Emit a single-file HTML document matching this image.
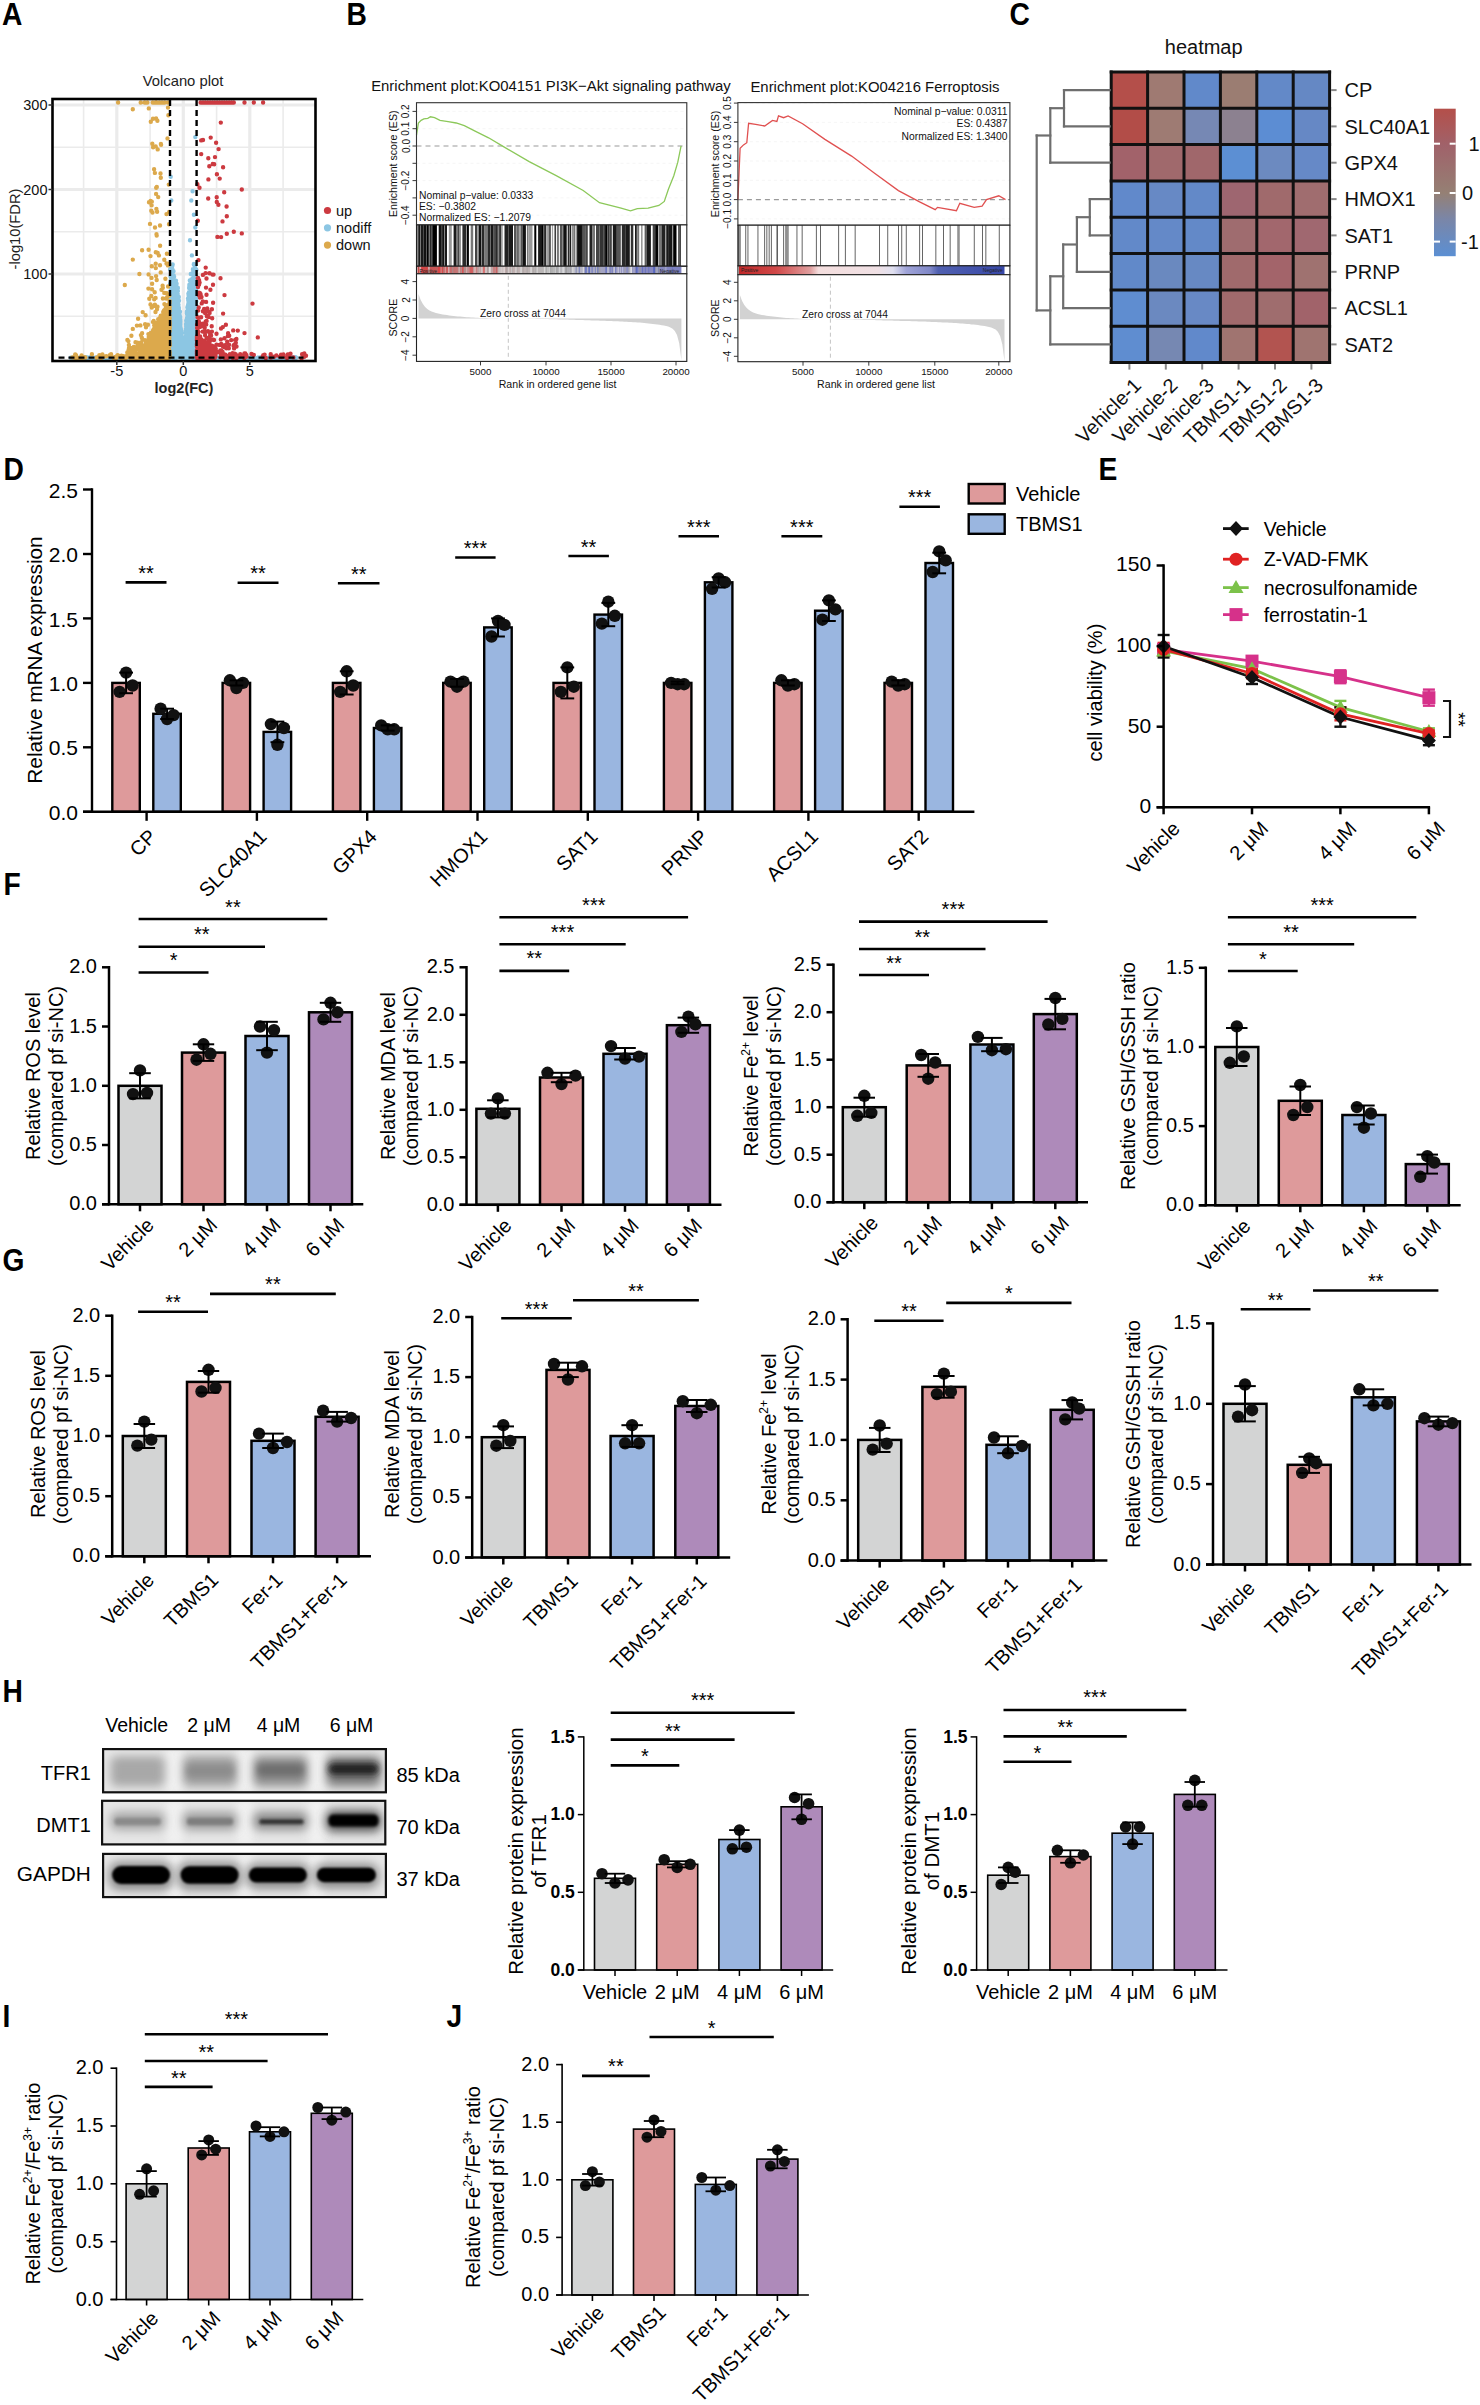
<!DOCTYPE html>
<html><head><meta charset="utf-8"><style>
html,body{margin:0;padding:0;background:#fff;}
svg{display:block;font-family:"Liberation Sans", sans-serif;}
</style></head><body>
<svg width="1480" height="2405" viewBox="0 0 1480 2405">
<rect x="0" y="0" width="1480" height="2405" fill="#fff"/>
<text transform="translate(2.0 25.0) scale(0.91 1)" font-size="31" font-weight="bold">A</text>
<text transform="translate(346.5 24.5) scale(0.91 1)" font-size="31" font-weight="bold">B</text>
<text transform="translate(1009.5 24.5) scale(0.91 1)" font-size="31" font-weight="bold">C</text>
<text transform="translate(3.6 479.6) scale(0.91 1)" font-size="31" font-weight="bold">D</text>
<text transform="translate(1098.5 480.0) scale(0.91 1)" font-size="31" font-weight="bold">E</text>
<text transform="translate(3.6 895.0) scale(0.91 1)" font-size="31" font-weight="bold">F</text>
<text transform="translate(2.5 1271.0) scale(0.91 1)" font-size="31" font-weight="bold">G</text>
<text transform="translate(2.5 1701.5) scale(0.91 1)" font-size="31" font-weight="bold">H</text>
<text transform="translate(2.5 2027.0) scale(0.91 1)" font-size="31" font-weight="bold">I</text>
<text transform="translate(446.5 2027.0) scale(0.91 1)" font-size="31" font-weight="bold">J</text>
<rect x="112.3" y="682.9" width="27.5" height="128.9" fill="#de9a9b" stroke="#000" stroke-width="2.4"/>
<rect x="153.3" y="713.8" width="27.5" height="98.0" fill="#9ab6e0" stroke="#000" stroke-width="2.4"/>
<rect x="222.6" y="682.9" width="27.5" height="128.9" fill="#de9a9b" stroke="#000" stroke-width="2.4"/>
<rect x="263.6" y="731.9" width="27.5" height="79.9" fill="#9ab6e0" stroke="#000" stroke-width="2.4"/>
<rect x="332.9" y="682.9" width="27.5" height="128.9" fill="#de9a9b" stroke="#000" stroke-width="2.4"/>
<rect x="373.9" y="728.0" width="27.5" height="83.8" fill="#9ab6e0" stroke="#000" stroke-width="2.4"/>
<rect x="443.2" y="682.9" width="27.5" height="128.9" fill="#de9a9b" stroke="#000" stroke-width="2.4"/>
<rect x="484.2" y="627.4" width="27.5" height="184.4" fill="#9ab6e0" stroke="#000" stroke-width="2.4"/>
<rect x="553.5" y="682.9" width="27.5" height="128.9" fill="#de9a9b" stroke="#000" stroke-width="2.4"/>
<rect x="594.5" y="614.6" width="27.5" height="197.2" fill="#9ab6e0" stroke="#000" stroke-width="2.4"/>
<rect x="663.9" y="682.9" width="27.5" height="128.9" fill="#de9a9b" stroke="#000" stroke-width="2.4"/>
<rect x="704.9" y="582.3" width="27.5" height="229.5" fill="#9ab6e0" stroke="#000" stroke-width="2.4"/>
<rect x="774.1" y="682.9" width="27.5" height="128.9" fill="#de9a9b" stroke="#000" stroke-width="2.4"/>
<rect x="815.1" y="610.7" width="27.5" height="201.1" fill="#9ab6e0" stroke="#000" stroke-width="2.4"/>
<rect x="884.5" y="682.9" width="27.5" height="128.9" fill="#de9a9b" stroke="#000" stroke-width="2.4"/>
<rect x="925.5" y="563.0" width="27.5" height="248.8" fill="#9ab6e0" stroke="#000" stroke-width="2.4"/>
<circle cx="119.6" cy="691.9" r="6.2" fill="#111"/>
<circle cx="126.1" cy="672.6" r="6.2" fill="#111"/>
<circle cx="132.6" cy="685.5" r="6.2" fill="#111"/>
<circle cx="160.6" cy="708.7" r="6.2" fill="#111"/>
<circle cx="167.1" cy="719.0" r="6.2" fill="#111"/>
<circle cx="173.6" cy="715.1" r="6.2" fill="#111"/>
<circle cx="229.9" cy="680.3" r="6.2" fill="#111"/>
<circle cx="236.4" cy="688.0" r="6.2" fill="#111"/>
<circle cx="242.9" cy="682.9" r="6.2" fill="#111"/>
<circle cx="270.9" cy="724.1" r="6.2" fill="#111"/>
<circle cx="277.4" cy="744.8" r="6.2" fill="#111"/>
<circle cx="283.9" cy="728.0" r="6.2" fill="#111"/>
<circle cx="340.2" cy="691.9" r="6.2" fill="#111"/>
<circle cx="346.7" cy="671.3" r="6.2" fill="#111"/>
<circle cx="353.2" cy="685.5" r="6.2" fill="#111"/>
<circle cx="381.2" cy="725.4" r="6.2" fill="#111"/>
<circle cx="387.7" cy="729.3" r="6.2" fill="#111"/>
<circle cx="394.2" cy="729.3" r="6.2" fill="#111"/>
<circle cx="450.5" cy="681.6" r="6.2" fill="#111"/>
<circle cx="457.0" cy="686.7" r="6.2" fill="#111"/>
<circle cx="463.5" cy="681.6" r="6.2" fill="#111"/>
<circle cx="491.5" cy="636.5" r="6.2" fill="#111"/>
<circle cx="498.0" cy="621.0" r="6.2" fill="#111"/>
<circle cx="504.5" cy="624.9" r="6.2" fill="#111"/>
<circle cx="560.8" cy="691.9" r="6.2" fill="#111"/>
<circle cx="567.3" cy="667.4" r="6.2" fill="#111"/>
<circle cx="573.8" cy="686.7" r="6.2" fill="#111"/>
<circle cx="601.8" cy="623.6" r="6.2" fill="#111"/>
<circle cx="608.3" cy="601.7" r="6.2" fill="#111"/>
<circle cx="614.8" cy="615.8" r="6.2" fill="#111"/>
<circle cx="671.1" cy="682.9" r="6.2" fill="#111"/>
<circle cx="677.6" cy="684.2" r="6.2" fill="#111"/>
<circle cx="684.1" cy="684.2" r="6.2" fill="#111"/>
<circle cx="712.1" cy="588.8" r="6.2" fill="#111"/>
<circle cx="718.6" cy="578.5" r="6.2" fill="#111"/>
<circle cx="725.1" cy="582.3" r="6.2" fill="#111"/>
<circle cx="781.4" cy="680.3" r="6.2" fill="#111"/>
<circle cx="787.9" cy="685.5" r="6.2" fill="#111"/>
<circle cx="794.4" cy="684.2" r="6.2" fill="#111"/>
<circle cx="822.4" cy="619.7" r="6.2" fill="#111"/>
<circle cx="828.9" cy="600.4" r="6.2" fill="#111"/>
<circle cx="835.4" cy="609.4" r="6.2" fill="#111"/>
<circle cx="891.7" cy="681.6" r="6.2" fill="#111"/>
<circle cx="898.2" cy="685.5" r="6.2" fill="#111"/>
<circle cx="904.7" cy="684.2" r="6.2" fill="#111"/>
<circle cx="932.7" cy="572.0" r="6.2" fill="#111"/>
<circle cx="939.2" cy="551.4" r="6.2" fill="#111"/>
<circle cx="945.7" cy="560.4" r="6.2" fill="#111"/>
<line x1="126.1" y1="672.6" x2="126.1" y2="693.2" stroke="#000" stroke-width="2.0"/>
<line x1="119.2" y1="672.6" x2="133.0" y2="672.6" stroke="#000" stroke-width="2.0"/>
<line x1="119.2" y1="693.2" x2="133.0" y2="693.2" stroke="#000" stroke-width="2.0"/>
<line x1="167.1" y1="708.7" x2="167.1" y2="719.0" stroke="#000" stroke-width="2.0"/>
<line x1="160.2" y1="708.7" x2="174.0" y2="708.7" stroke="#000" stroke-width="2.0"/>
<line x1="160.2" y1="719.0" x2="174.0" y2="719.0" stroke="#000" stroke-width="2.0"/>
<line x1="236.4" y1="680.3" x2="236.4" y2="685.5" stroke="#000" stroke-width="2.0"/>
<line x1="229.5" y1="680.3" x2="243.3" y2="680.3" stroke="#000" stroke-width="2.0"/>
<line x1="229.5" y1="685.5" x2="243.3" y2="685.5" stroke="#000" stroke-width="2.0"/>
<line x1="277.4" y1="721.6" x2="277.4" y2="742.2" stroke="#000" stroke-width="2.0"/>
<line x1="270.5" y1="721.6" x2="284.3" y2="721.6" stroke="#000" stroke-width="2.0"/>
<line x1="270.5" y1="742.2" x2="284.3" y2="742.2" stroke="#000" stroke-width="2.0"/>
<line x1="346.7" y1="671.3" x2="346.7" y2="694.5" stroke="#000" stroke-width="2.0"/>
<line x1="339.8" y1="671.3" x2="353.6" y2="671.3" stroke="#000" stroke-width="2.0"/>
<line x1="339.8" y1="694.5" x2="353.6" y2="694.5" stroke="#000" stroke-width="2.0"/>
<line x1="387.7" y1="725.4" x2="387.7" y2="730.6" stroke="#000" stroke-width="2.0"/>
<line x1="380.8" y1="725.4" x2="394.6" y2="725.4" stroke="#000" stroke-width="2.0"/>
<line x1="380.8" y1="730.6" x2="394.6" y2="730.6" stroke="#000" stroke-width="2.0"/>
<line x1="457.0" y1="679.0" x2="457.0" y2="686.7" stroke="#000" stroke-width="2.0"/>
<line x1="450.1" y1="679.0" x2="463.9" y2="679.0" stroke="#000" stroke-width="2.0"/>
<line x1="450.1" y1="686.7" x2="463.9" y2="686.7" stroke="#000" stroke-width="2.0"/>
<line x1="498.0" y1="618.4" x2="498.0" y2="636.5" stroke="#000" stroke-width="2.0"/>
<line x1="491.1" y1="618.4" x2="504.9" y2="618.4" stroke="#000" stroke-width="2.0"/>
<line x1="491.1" y1="636.5" x2="504.9" y2="636.5" stroke="#000" stroke-width="2.0"/>
<line x1="567.3" y1="667.4" x2="567.3" y2="698.4" stroke="#000" stroke-width="2.0"/>
<line x1="560.4" y1="667.4" x2="574.2" y2="667.4" stroke="#000" stroke-width="2.0"/>
<line x1="560.4" y1="698.4" x2="574.2" y2="698.4" stroke="#000" stroke-width="2.0"/>
<line x1="608.3" y1="602.9" x2="608.3" y2="626.2" stroke="#000" stroke-width="2.0"/>
<line x1="601.4" y1="602.9" x2="615.2" y2="602.9" stroke="#000" stroke-width="2.0"/>
<line x1="601.4" y1="626.2" x2="615.2" y2="626.2" stroke="#000" stroke-width="2.0"/>
<line x1="677.6" y1="681.6" x2="677.6" y2="684.2" stroke="#000" stroke-width="2.0"/>
<line x1="670.7" y1="681.6" x2="684.5" y2="681.6" stroke="#000" stroke-width="2.0"/>
<line x1="670.7" y1="684.2" x2="684.5" y2="684.2" stroke="#000" stroke-width="2.0"/>
<line x1="718.6" y1="577.2" x2="718.6" y2="587.5" stroke="#000" stroke-width="2.0"/>
<line x1="711.7" y1="577.2" x2="725.5" y2="577.2" stroke="#000" stroke-width="2.0"/>
<line x1="711.7" y1="587.5" x2="725.5" y2="587.5" stroke="#000" stroke-width="2.0"/>
<line x1="787.9" y1="680.3" x2="787.9" y2="685.5" stroke="#000" stroke-width="2.0"/>
<line x1="781.0" y1="680.3" x2="794.8" y2="680.3" stroke="#000" stroke-width="2.0"/>
<line x1="781.0" y1="685.5" x2="794.8" y2="685.5" stroke="#000" stroke-width="2.0"/>
<line x1="828.9" y1="600.4" x2="828.9" y2="621.0" stroke="#000" stroke-width="2.0"/>
<line x1="822.0" y1="600.4" x2="835.8" y2="600.4" stroke="#000" stroke-width="2.0"/>
<line x1="822.0" y1="621.0" x2="835.8" y2="621.0" stroke="#000" stroke-width="2.0"/>
<line x1="898.2" y1="680.3" x2="898.2" y2="685.5" stroke="#000" stroke-width="2.0"/>
<line x1="891.3" y1="680.3" x2="905.1" y2="680.3" stroke="#000" stroke-width="2.0"/>
<line x1="891.3" y1="685.5" x2="905.1" y2="685.5" stroke="#000" stroke-width="2.0"/>
<line x1="939.2" y1="552.7" x2="939.2" y2="573.3" stroke="#000" stroke-width="2.0"/>
<line x1="932.3" y1="552.7" x2="946.1" y2="552.7" stroke="#000" stroke-width="2.0"/>
<line x1="932.3" y1="573.3" x2="946.1" y2="573.3" stroke="#000" stroke-width="2.0"/>
<line x1="92.0" y1="488.3" x2="92.0" y2="813.0" stroke="#000" stroke-width="2.4"/>
<line x1="83.0" y1="811.8" x2="974.4" y2="811.8" stroke="#000" stroke-width="2.4"/>
<line x1="83.0" y1="811.8" x2="92.0" y2="811.8" stroke="#000" stroke-width="2.4"/>
<text x="78.0" y="819.9" font-size="21" text-anchor="end" fill="#000">0.0</text>
<line x1="83.0" y1="747.3" x2="92.0" y2="747.3" stroke="#000" stroke-width="2.4"/>
<text x="78.0" y="755.4" font-size="21" text-anchor="end" fill="#000">0.5</text>
<line x1="83.0" y1="682.9" x2="92.0" y2="682.9" stroke="#000" stroke-width="2.4"/>
<text x="78.0" y="691.0" font-size="21" text-anchor="end" fill="#000">1.0</text>
<line x1="83.0" y1="618.4" x2="92.0" y2="618.4" stroke="#000" stroke-width="2.4"/>
<text x="78.0" y="626.5" font-size="21" text-anchor="end" fill="#000">1.5</text>
<line x1="83.0" y1="554.0" x2="92.0" y2="554.0" stroke="#000" stroke-width="2.4"/>
<text x="78.0" y="562.0" font-size="21" text-anchor="end" fill="#000">2.0</text>
<line x1="83.0" y1="489.5" x2="92.0" y2="489.5" stroke="#000" stroke-width="2.4"/>
<text x="78.0" y="497.6" font-size="21" text-anchor="end" fill="#000">2.5</text>
<line x1="146.6" y1="811.8" x2="146.6" y2="820.8" stroke="#000" stroke-width="2.4"/>
<text x="157.6" y="837.8" font-size="20" text-anchor="end" fill="#000" transform="rotate(-45 157.6 837.8)">CP</text>
<line x1="256.9" y1="811.8" x2="256.9" y2="820.8" stroke="#000" stroke-width="2.4"/>
<text x="267.9" y="837.8" font-size="20" text-anchor="end" fill="#000" transform="rotate(-45 267.9 837.8)">SLC40A1</text>
<line x1="367.2" y1="811.8" x2="367.2" y2="820.8" stroke="#000" stroke-width="2.4"/>
<text x="378.2" y="837.8" font-size="20" text-anchor="end" fill="#000" transform="rotate(-45 378.2 837.8)">GPX4</text>
<line x1="477.5" y1="811.8" x2="477.5" y2="820.8" stroke="#000" stroke-width="2.4"/>
<text x="488.5" y="837.8" font-size="20" text-anchor="end" fill="#000" transform="rotate(-45 488.5 837.8)">HMOX1</text>
<line x1="587.8" y1="811.8" x2="587.8" y2="820.8" stroke="#000" stroke-width="2.4"/>
<text x="598.8" y="837.8" font-size="20" text-anchor="end" fill="#000" transform="rotate(-45 598.8 837.8)">SAT1</text>
<line x1="698.1" y1="811.8" x2="698.1" y2="820.8" stroke="#000" stroke-width="2.4"/>
<text x="709.1" y="837.8" font-size="20" text-anchor="end" fill="#000" transform="rotate(-45 709.1 837.8)">PRNP</text>
<line x1="808.4" y1="811.8" x2="808.4" y2="820.8" stroke="#000" stroke-width="2.4"/>
<text x="819.4" y="837.8" font-size="20" text-anchor="end" fill="#000" transform="rotate(-45 819.4 837.8)">ACSL1</text>
<line x1="918.7" y1="811.8" x2="918.7" y2="820.8" stroke="#000" stroke-width="2.4"/>
<text x="929.7" y="837.8" font-size="20" text-anchor="end" fill="#000" transform="rotate(-45 929.7 837.8)">SAT2</text>
<line x1="125.6" y1="582.4" x2="166.5" y2="582.4" stroke="#000" stroke-width="2.6"/>
<text x="146.1" y="579.9" font-size="20" text-anchor="middle" fill="#000">**</text>
<line x1="237.6" y1="582.8" x2="278.5" y2="582.8" stroke="#000" stroke-width="2.6"/>
<text x="258.1" y="580.3" font-size="20" text-anchor="middle" fill="#000">**</text>
<line x1="337.9" y1="583.2" x2="379.5" y2="583.2" stroke="#000" stroke-width="2.6"/>
<text x="358.7" y="580.7" font-size="20" text-anchor="middle" fill="#000">**</text>
<line x1="455.2" y1="557.5" x2="495.6" y2="557.5" stroke="#000" stroke-width="2.6"/>
<text x="475.4" y="555.0" font-size="20" text-anchor="middle" fill="#000">***</text>
<line x1="568.4" y1="556.0" x2="608.9" y2="556.0" stroke="#000" stroke-width="2.6"/>
<text x="588.6" y="553.5" font-size="20" text-anchor="middle" fill="#000">**</text>
<line x1="678.5" y1="536.3" x2="719.0" y2="536.3" stroke="#000" stroke-width="2.6"/>
<text x="698.8" y="533.8" font-size="20" text-anchor="middle" fill="#000">***</text>
<line x1="781.4" y1="536.3" x2="822.3" y2="536.3" stroke="#000" stroke-width="2.6"/>
<text x="801.8" y="533.8" font-size="20" text-anchor="middle" fill="#000">***</text>
<line x1="899.4" y1="506.8" x2="939.9" y2="506.8" stroke="#000" stroke-width="2.6"/>
<text x="919.6" y="504.3" font-size="20" text-anchor="middle" fill="#000">***</text>
<text x="41.5" y="660.0" font-size="20.8" text-anchor="middle" fill="#000" transform="rotate(-90 41.5 660.0)">Relative mRNA expression</text>
<rect x="968.7" y="484.0" width="36.0" height="19.5" fill="#de9a9b" stroke="#000" stroke-width="2.4"/>
<rect x="968.7" y="514.3" width="36.0" height="19.5" fill="#9ab6e0" stroke="#000" stroke-width="2.4"/>
<text x="1016.0" y="500.5" font-size="20" text-anchor="start" fill="#000">Vehicle</text>
<text x="1016.0" y="530.8" font-size="20" text-anchor="start" fill="#000">TBMS1</text>
<rect x="118.5" y="1085.8" width="43.0" height="118.5" fill="#d3d4d4" stroke="#000" stroke-width="2.5"/>
<rect x="182.0" y="1052.6" width="43.0" height="151.7" fill="#de9a9b" stroke="#000" stroke-width="2.5"/>
<rect x="245.5" y="1036.0" width="43.0" height="168.3" fill="#9ab6e0" stroke="#000" stroke-width="2.5"/>
<rect x="309.0" y="1012.3" width="43.0" height="192.0" fill="#ae8aba" stroke="#000" stroke-width="2.5"/>
<circle cx="133.0" cy="1094.1" r="6.2" fill="#111"/>
<circle cx="140.0" cy="1070.4" r="6.2" fill="#111"/>
<circle cx="147.0" cy="1092.9" r="6.2" fill="#111"/>
<circle cx="196.5" cy="1059.7" r="6.2" fill="#111"/>
<circle cx="203.5" cy="1044.3" r="6.2" fill="#111"/>
<circle cx="210.5" cy="1053.8" r="6.2" fill="#111"/>
<circle cx="260.0" cy="1026.5" r="6.2" fill="#111"/>
<circle cx="267.0" cy="1052.6" r="6.2" fill="#111"/>
<circle cx="274.0" cy="1030.1" r="6.2" fill="#111"/>
<circle cx="323.5" cy="1019.4" r="6.2" fill="#111"/>
<circle cx="330.5" cy="1002.8" r="6.2" fill="#111"/>
<circle cx="337.5" cy="1012.3" r="6.2" fill="#111"/>
<line x1="140.0" y1="1073.2" x2="140.0" y2="1098.4" stroke="#000" stroke-width="2.0"/>
<line x1="129.2" y1="1073.2" x2="150.8" y2="1073.2" stroke="#000" stroke-width="2.0"/>
<line x1="129.2" y1="1098.4" x2="150.8" y2="1098.4" stroke="#000" stroke-width="2.0"/>
<line x1="203.5" y1="1044.3" x2="203.5" y2="1060.9" stroke="#000" stroke-width="2.0"/>
<line x1="192.8" y1="1044.3" x2="214.2" y2="1044.3" stroke="#000" stroke-width="2.0"/>
<line x1="192.8" y1="1060.9" x2="214.2" y2="1060.9" stroke="#000" stroke-width="2.0"/>
<line x1="267.0" y1="1021.8" x2="267.0" y2="1050.2" stroke="#000" stroke-width="2.0"/>
<line x1="256.2" y1="1021.8" x2="277.8" y2="1021.8" stroke="#000" stroke-width="2.0"/>
<line x1="256.2" y1="1050.2" x2="277.8" y2="1050.2" stroke="#000" stroke-width="2.0"/>
<line x1="330.5" y1="1002.8" x2="330.5" y2="1021.8" stroke="#000" stroke-width="2.0"/>
<line x1="319.8" y1="1002.8" x2="341.2" y2="1002.8" stroke="#000" stroke-width="2.0"/>
<line x1="319.8" y1="1021.8" x2="341.2" y2="1021.8" stroke="#000" stroke-width="2.0"/>
<line x1="109.0" y1="966.0" x2="109.0" y2="1205.5" stroke="#000" stroke-width="2.5"/>
<line x1="102.0" y1="1204.3" x2="363.3" y2="1204.3" stroke="#000" stroke-width="2.5"/>
<line x1="102.0" y1="1204.3" x2="109.0" y2="1204.3" stroke="#000" stroke-width="2.5"/>
<text x="97.0" y="1210.3" font-size="20" text-anchor="end" fill="#000">0.0</text>
<line x1="102.0" y1="1145.0" x2="109.0" y2="1145.0" stroke="#000" stroke-width="2.5"/>
<text x="97.0" y="1151.0" font-size="20" text-anchor="end" fill="#000">0.5</text>
<line x1="102.0" y1="1085.8" x2="109.0" y2="1085.8" stroke="#000" stroke-width="2.5"/>
<text x="97.0" y="1091.8" font-size="20" text-anchor="end" fill="#000">1.0</text>
<line x1="102.0" y1="1026.5" x2="109.0" y2="1026.5" stroke="#000" stroke-width="2.5"/>
<text x="97.0" y="1032.5" font-size="20" text-anchor="end" fill="#000">1.5</text>
<line x1="102.0" y1="967.3" x2="109.0" y2="967.3" stroke="#000" stroke-width="2.5"/>
<text x="97.0" y="973.3" font-size="20" text-anchor="end" fill="#000">2.0</text>
<line x1="140.0" y1="1204.3" x2="140.0" y2="1211.3" stroke="#000" stroke-width="2.5"/>
<text x="155.0" y="1226.3" font-size="20" text-anchor="end" fill="#000" transform="rotate(-45 155.0 1226.3)">Vehicle</text>
<line x1="203.5" y1="1204.3" x2="203.5" y2="1211.3" stroke="#000" stroke-width="2.5"/>
<text x="218.5" y="1226.3" font-size="20" text-anchor="end" fill="#000" transform="rotate(-45 218.5 1226.3)">2 μM</text>
<line x1="267.0" y1="1204.3" x2="267.0" y2="1211.3" stroke="#000" stroke-width="2.5"/>
<text x="282.0" y="1226.3" font-size="20" text-anchor="end" fill="#000" transform="rotate(-45 282.0 1226.3)">4 μM</text>
<line x1="330.5" y1="1204.3" x2="330.5" y2="1211.3" stroke="#000" stroke-width="2.5"/>
<text x="345.5" y="1226.3" font-size="20" text-anchor="end" fill="#000" transform="rotate(-45 345.5 1226.3)">6 μM</text>
<line x1="138.6" y1="972.5" x2="208.5" y2="972.5" stroke="#000" stroke-width="2.6"/>
<text x="173.6" y="967.0" font-size="20" text-anchor="middle" fill="#000">*</text>
<line x1="138.6" y1="946.8" x2="265.0" y2="946.8" stroke="#000" stroke-width="2.6"/>
<text x="201.8" y="941.3" font-size="20" text-anchor="middle" fill="#000">**</text>
<line x1="138.6" y1="919.0" x2="327.3" y2="919.0" stroke="#000" stroke-width="2.6"/>
<text x="232.9" y="913.5" font-size="20" text-anchor="middle" fill="#000">**</text>
<text x="39.8" y="1076.0" font-size="20" text-anchor="middle" fill="#000" transform="rotate(-90 39.8 1076.0)">Relative ROS level</text>
<text x="62.8" y="1076.0" font-size="20" text-anchor="middle" fill="#000" transform="rotate(-90 62.8 1076.0)">(compared pf si-NC)</text>
<rect x="476.4" y="1108.8" width="43.0" height="96.0" fill="#d3d4d4" stroke="#000" stroke-width="2.5"/>
<rect x="540.0" y="1077.5" width="43.0" height="127.3" fill="#de9a9b" stroke="#000" stroke-width="2.5"/>
<rect x="603.5" y="1053.8" width="43.0" height="151.0" fill="#9ab6e0" stroke="#000" stroke-width="2.5"/>
<rect x="666.9" y="1025.2" width="43.0" height="179.5" fill="#ae8aba" stroke="#000" stroke-width="2.5"/>
<circle cx="490.9" cy="1113.6" r="6.2" fill="#111"/>
<circle cx="497.9" cy="1098.4" r="6.2" fill="#111"/>
<circle cx="504.9" cy="1113.6" r="6.2" fill="#111"/>
<circle cx="547.5" cy="1072.8" r="6.2" fill="#111"/>
<circle cx="561.5" cy="1084.1" r="6.2" fill="#111"/>
<circle cx="575.5" cy="1075.6" r="6.2" fill="#111"/>
<circle cx="611.0" cy="1046.1" r="6.2" fill="#111"/>
<circle cx="625.0" cy="1058.5" r="6.2" fill="#111"/>
<circle cx="639.0" cy="1056.6" r="6.2" fill="#111"/>
<circle cx="681.4" cy="1031.9" r="6.2" fill="#111"/>
<circle cx="688.4" cy="1016.7" r="6.2" fill="#111"/>
<circle cx="695.4" cy="1024.3" r="6.2" fill="#111"/>
<line x1="497.9" y1="1100.3" x2="497.9" y2="1117.4" stroke="#000" stroke-width="2.0"/>
<line x1="487.1" y1="1100.3" x2="508.6" y2="1100.3" stroke="#000" stroke-width="2.0"/>
<line x1="487.1" y1="1117.4" x2="508.6" y2="1117.4" stroke="#000" stroke-width="2.0"/>
<line x1="561.5" y1="1072.8" x2="561.5" y2="1082.2" stroke="#000" stroke-width="2.0"/>
<line x1="550.8" y1="1072.8" x2="572.2" y2="1072.8" stroke="#000" stroke-width="2.0"/>
<line x1="550.8" y1="1082.2" x2="572.2" y2="1082.2" stroke="#000" stroke-width="2.0"/>
<line x1="625.0" y1="1048.0" x2="625.0" y2="1059.5" stroke="#000" stroke-width="2.0"/>
<line x1="614.2" y1="1048.0" x2="635.8" y2="1048.0" stroke="#000" stroke-width="2.0"/>
<line x1="614.2" y1="1059.5" x2="635.8" y2="1059.5" stroke="#000" stroke-width="2.0"/>
<line x1="688.4" y1="1017.6" x2="688.4" y2="1032.8" stroke="#000" stroke-width="2.0"/>
<line x1="677.6" y1="1017.6" x2="699.1" y2="1017.6" stroke="#000" stroke-width="2.0"/>
<line x1="677.6" y1="1032.8" x2="699.1" y2="1032.8" stroke="#000" stroke-width="2.0"/>
<line x1="466.5" y1="966.0" x2="466.5" y2="1206.0" stroke="#000" stroke-width="2.5"/>
<line x1="459.5" y1="1204.8" x2="721.5" y2="1204.8" stroke="#000" stroke-width="2.5"/>
<line x1="459.5" y1="1204.8" x2="466.5" y2="1204.8" stroke="#000" stroke-width="2.5"/>
<text x="454.5" y="1210.8" font-size="20" text-anchor="end" fill="#000">0.0</text>
<line x1="459.5" y1="1157.3" x2="466.5" y2="1157.3" stroke="#000" stroke-width="2.5"/>
<text x="454.5" y="1163.3" font-size="20" text-anchor="end" fill="#000">0.5</text>
<line x1="459.5" y1="1109.8" x2="466.5" y2="1109.8" stroke="#000" stroke-width="2.5"/>
<text x="454.5" y="1115.8" font-size="20" text-anchor="end" fill="#000">1.0</text>
<line x1="459.5" y1="1062.3" x2="466.5" y2="1062.3" stroke="#000" stroke-width="2.5"/>
<text x="454.5" y="1068.3" font-size="20" text-anchor="end" fill="#000">1.5</text>
<line x1="459.5" y1="1014.8" x2="466.5" y2="1014.8" stroke="#000" stroke-width="2.5"/>
<text x="454.5" y="1020.8" font-size="20" text-anchor="end" fill="#000">2.0</text>
<line x1="459.5" y1="967.3" x2="466.5" y2="967.3" stroke="#000" stroke-width="2.5"/>
<text x="454.5" y="973.3" font-size="20" text-anchor="end" fill="#000">2.5</text>
<line x1="497.9" y1="1204.8" x2="497.9" y2="1211.8" stroke="#000" stroke-width="2.5"/>
<text x="512.9" y="1226.8" font-size="20" text-anchor="end" fill="#000" transform="rotate(-45 512.9 1226.8)">Vehicle</text>
<line x1="561.5" y1="1204.8" x2="561.5" y2="1211.8" stroke="#000" stroke-width="2.5"/>
<text x="576.5" y="1226.8" font-size="20" text-anchor="end" fill="#000" transform="rotate(-45 576.5 1226.8)">2 μM</text>
<line x1="625.0" y1="1204.8" x2="625.0" y2="1211.8" stroke="#000" stroke-width="2.5"/>
<text x="640.0" y="1226.8" font-size="20" text-anchor="end" fill="#000" transform="rotate(-45 640.0 1226.8)">4 μM</text>
<line x1="688.4" y1="1204.8" x2="688.4" y2="1211.8" stroke="#000" stroke-width="2.5"/>
<text x="703.4" y="1226.8" font-size="20" text-anchor="end" fill="#000" transform="rotate(-45 703.4 1226.8)">6 μM</text>
<line x1="499.4" y1="970.9" x2="569.2" y2="970.9" stroke="#000" stroke-width="2.6"/>
<text x="534.3" y="965.4" font-size="20" text-anchor="middle" fill="#000">**</text>
<line x1="499.4" y1="944.2" x2="625.7" y2="944.2" stroke="#000" stroke-width="2.6"/>
<text x="562.5" y="938.7" font-size="20" text-anchor="middle" fill="#000">***</text>
<line x1="499.4" y1="917.3" x2="688.1" y2="917.3" stroke="#000" stroke-width="2.6"/>
<text x="593.8" y="911.8" font-size="20" text-anchor="middle" fill="#000">***</text>
<text x="394.5" y="1076.0" font-size="20" text-anchor="middle" fill="#000" transform="rotate(-90 394.5 1076.0)">Relative MDA level</text>
<text x="417.5" y="1076.0" font-size="20" text-anchor="middle" fill="#000" transform="rotate(-90 417.5 1076.0)">(compared pf si-NC)</text>
<rect x="842.8" y="1107.2" width="43.0" height="95.0" fill="#d3d4d4" stroke="#000" stroke-width="2.5"/>
<rect x="906.7" y="1065.4" width="43.0" height="136.8" fill="#de9a9b" stroke="#000" stroke-width="2.5"/>
<rect x="970.4" y="1044.5" width="43.0" height="157.7" fill="#9ab6e0" stroke="#000" stroke-width="2.5"/>
<rect x="1033.8" y="1014.1" width="43.0" height="188.1" fill="#ae8aba" stroke="#000" stroke-width="2.5"/>
<circle cx="857.3" cy="1115.8" r="6.2" fill="#111"/>
<circle cx="864.3" cy="1095.8" r="6.2" fill="#111"/>
<circle cx="871.3" cy="1112.9" r="6.2" fill="#111"/>
<circle cx="921.2" cy="1055.0" r="6.2" fill="#111"/>
<circle cx="928.2" cy="1078.7" r="6.2" fill="#111"/>
<circle cx="935.2" cy="1062.5" r="6.2" fill="#111"/>
<circle cx="977.9" cy="1036.9" r="6.2" fill="#111"/>
<circle cx="991.9" cy="1050.2" r="6.2" fill="#111"/>
<circle cx="1005.9" cy="1049.2" r="6.2" fill="#111"/>
<circle cx="1048.3" cy="1024.5" r="6.2" fill="#111"/>
<circle cx="1055.3" cy="998.0" r="6.2" fill="#111"/>
<circle cx="1062.3" cy="1018.9" r="6.2" fill="#111"/>
<line x1="864.3" y1="1097.7" x2="864.3" y2="1116.7" stroke="#000" stroke-width="2.0"/>
<line x1="853.5" y1="1097.7" x2="875.0" y2="1097.7" stroke="#000" stroke-width="2.0"/>
<line x1="853.5" y1="1116.7" x2="875.0" y2="1116.7" stroke="#000" stroke-width="2.0"/>
<line x1="928.2" y1="1054.0" x2="928.2" y2="1076.8" stroke="#000" stroke-width="2.0"/>
<line x1="917.5" y1="1054.0" x2="939.0" y2="1054.0" stroke="#000" stroke-width="2.0"/>
<line x1="917.5" y1="1076.8" x2="939.0" y2="1076.8" stroke="#000" stroke-width="2.0"/>
<line x1="991.9" y1="1037.9" x2="991.9" y2="1051.2" stroke="#000" stroke-width="2.0"/>
<line x1="981.1" y1="1037.9" x2="1002.6" y2="1037.9" stroke="#000" stroke-width="2.0"/>
<line x1="981.1" y1="1051.2" x2="1002.6" y2="1051.2" stroke="#000" stroke-width="2.0"/>
<line x1="1055.3" y1="998.9" x2="1055.3" y2="1029.3" stroke="#000" stroke-width="2.0"/>
<line x1="1044.5" y1="998.9" x2="1066.0" y2="998.9" stroke="#000" stroke-width="2.0"/>
<line x1="1044.5" y1="1029.3" x2="1066.0" y2="1029.3" stroke="#000" stroke-width="2.0"/>
<line x1="833.5" y1="963.5" x2="833.5" y2="1203.5" stroke="#000" stroke-width="2.5"/>
<line x1="826.5" y1="1202.2" x2="1088.0" y2="1202.2" stroke="#000" stroke-width="2.5"/>
<line x1="826.5" y1="1202.2" x2="833.5" y2="1202.2" stroke="#000" stroke-width="2.5"/>
<text x="821.5" y="1208.2" font-size="20" text-anchor="end" fill="#000">0.0</text>
<line x1="826.5" y1="1154.7" x2="833.5" y2="1154.7" stroke="#000" stroke-width="2.5"/>
<text x="821.5" y="1160.7" font-size="20" text-anchor="end" fill="#000">0.5</text>
<line x1="826.5" y1="1107.2" x2="833.5" y2="1107.2" stroke="#000" stroke-width="2.5"/>
<text x="821.5" y="1113.2" font-size="20" text-anchor="end" fill="#000">1.0</text>
<line x1="826.5" y1="1059.7" x2="833.5" y2="1059.7" stroke="#000" stroke-width="2.5"/>
<text x="821.5" y="1065.7" font-size="20" text-anchor="end" fill="#000">1.5</text>
<line x1="826.5" y1="1012.2" x2="833.5" y2="1012.2" stroke="#000" stroke-width="2.5"/>
<text x="821.5" y="1018.2" font-size="20" text-anchor="end" fill="#000">2.0</text>
<line x1="826.5" y1="964.7" x2="833.5" y2="964.7" stroke="#000" stroke-width="2.5"/>
<text x="821.5" y="970.7" font-size="20" text-anchor="end" fill="#000">2.5</text>
<line x1="864.3" y1="1202.2" x2="864.3" y2="1209.2" stroke="#000" stroke-width="2.5"/>
<text x="879.3" y="1224.2" font-size="20" text-anchor="end" fill="#000" transform="rotate(-45 879.3 1224.2)">Vehicle</text>
<line x1="928.2" y1="1202.2" x2="928.2" y2="1209.2" stroke="#000" stroke-width="2.5"/>
<text x="943.2" y="1224.2" font-size="20" text-anchor="end" fill="#000" transform="rotate(-45 943.2 1224.2)">2 μM</text>
<line x1="991.9" y1="1202.2" x2="991.9" y2="1209.2" stroke="#000" stroke-width="2.5"/>
<text x="1006.9" y="1224.2" font-size="20" text-anchor="end" fill="#000" transform="rotate(-45 1006.9 1224.2)">4 μM</text>
<line x1="1055.3" y1="1202.2" x2="1055.3" y2="1209.2" stroke="#000" stroke-width="2.5"/>
<text x="1070.3" y="1224.2" font-size="20" text-anchor="end" fill="#000" transform="rotate(-45 1070.3 1224.2)">6 μM</text>
<line x1="859.0" y1="975.0" x2="929.0" y2="975.0" stroke="#000" stroke-width="2.6"/>
<text x="894.0" y="969.5" font-size="20" text-anchor="middle" fill="#000">**</text>
<line x1="859.0" y1="949.0" x2="985.5" y2="949.0" stroke="#000" stroke-width="2.6"/>
<text x="922.2" y="943.5" font-size="20" text-anchor="middle" fill="#000">**</text>
<line x1="859.0" y1="921.6" x2="1047.6" y2="921.6" stroke="#000" stroke-width="2.6"/>
<text x="953.3" y="916.1" font-size="20" text-anchor="middle" fill="#000">***</text>
<text x="758.0" y="1076.0" font-size="20" text-anchor="middle" fill="#000" transform="rotate(-90 758.0 1076.0)">Relative Fe<tspan dy="-8" font-size="12">2+</tspan><tspan dy="8"> level</tspan></text>
<text x="781.0" y="1076.0" font-size="20" text-anchor="middle" fill="#000" transform="rotate(-90 781.0 1076.0)">(compared pf si-NC)</text>
<rect x="1215.3" y="1047.0" width="43.0" height="158.3" fill="#d3d4d4" stroke="#000" stroke-width="2.5"/>
<rect x="1278.8" y="1100.8" width="43.0" height="104.5" fill="#de9a9b" stroke="#000" stroke-width="2.5"/>
<rect x="1342.4" y="1115.0" width="43.0" height="90.2" fill="#9ab6e0" stroke="#000" stroke-width="2.5"/>
<rect x="1405.8" y="1164.1" width="43.0" height="41.2" fill="#ae8aba" stroke="#000" stroke-width="2.5"/>
<circle cx="1229.8" cy="1062.8" r="6.2" fill="#111"/>
<circle cx="1236.8" cy="1026.4" r="6.2" fill="#111"/>
<circle cx="1243.8" cy="1056.5" r="6.2" fill="#111"/>
<circle cx="1293.3" cy="1115.0" r="6.2" fill="#111"/>
<circle cx="1300.3" cy="1085.0" r="6.2" fill="#111"/>
<circle cx="1307.3" cy="1107.1" r="6.2" fill="#111"/>
<circle cx="1356.9" cy="1107.1" r="6.2" fill="#111"/>
<circle cx="1363.9" cy="1127.7" r="6.2" fill="#111"/>
<circle cx="1370.9" cy="1113.5" r="6.2" fill="#111"/>
<circle cx="1420.3" cy="1176.8" r="6.2" fill="#111"/>
<circle cx="1427.3" cy="1156.2" r="6.2" fill="#111"/>
<circle cx="1434.3" cy="1162.5" r="6.2" fill="#111"/>
<line x1="1236.8" y1="1028.0" x2="1236.8" y2="1066.0" stroke="#000" stroke-width="2.0"/>
<line x1="1226.0" y1="1028.0" x2="1247.5" y2="1028.0" stroke="#000" stroke-width="2.0"/>
<line x1="1226.0" y1="1066.0" x2="1247.5" y2="1066.0" stroke="#000" stroke-width="2.0"/>
<line x1="1300.3" y1="1086.5" x2="1300.3" y2="1115.0" stroke="#000" stroke-width="2.0"/>
<line x1="1289.5" y1="1086.5" x2="1311.0" y2="1086.5" stroke="#000" stroke-width="2.0"/>
<line x1="1289.5" y1="1115.0" x2="1311.0" y2="1115.0" stroke="#000" stroke-width="2.0"/>
<line x1="1363.9" y1="1105.5" x2="1363.9" y2="1124.5" stroke="#000" stroke-width="2.0"/>
<line x1="1353.2" y1="1105.5" x2="1374.7" y2="1105.5" stroke="#000" stroke-width="2.0"/>
<line x1="1353.2" y1="1124.5" x2="1374.7" y2="1124.5" stroke="#000" stroke-width="2.0"/>
<line x1="1427.3" y1="1154.6" x2="1427.3" y2="1173.6" stroke="#000" stroke-width="2.0"/>
<line x1="1416.5" y1="1154.6" x2="1438.0" y2="1154.6" stroke="#000" stroke-width="2.0"/>
<line x1="1416.5" y1="1173.6" x2="1438.0" y2="1173.6" stroke="#000" stroke-width="2.0"/>
<line x1="1205.8" y1="966.5" x2="1205.8" y2="1206.5" stroke="#000" stroke-width="2.5"/>
<line x1="1198.8" y1="1205.3" x2="1460.7" y2="1205.3" stroke="#000" stroke-width="2.5"/>
<line x1="1198.8" y1="1205.3" x2="1205.8" y2="1205.3" stroke="#000" stroke-width="2.5"/>
<text x="1193.8" y="1211.3" font-size="20" text-anchor="end" fill="#000">0.0</text>
<line x1="1198.8" y1="1126.1" x2="1205.8" y2="1126.1" stroke="#000" stroke-width="2.5"/>
<text x="1193.8" y="1132.1" font-size="20" text-anchor="end" fill="#000">0.5</text>
<line x1="1198.8" y1="1047.0" x2="1205.8" y2="1047.0" stroke="#000" stroke-width="2.5"/>
<text x="1193.8" y="1053.0" font-size="20" text-anchor="end" fill="#000">1.0</text>
<line x1="1198.8" y1="967.8" x2="1205.8" y2="967.8" stroke="#000" stroke-width="2.5"/>
<text x="1193.8" y="973.8" font-size="20" text-anchor="end" fill="#000">1.5</text>
<line x1="1236.8" y1="1205.3" x2="1236.8" y2="1212.3" stroke="#000" stroke-width="2.5"/>
<text x="1251.8" y="1227.3" font-size="20" text-anchor="end" fill="#000" transform="rotate(-45 1251.8 1227.3)">Vehicle</text>
<line x1="1300.3" y1="1205.3" x2="1300.3" y2="1212.3" stroke="#000" stroke-width="2.5"/>
<text x="1315.3" y="1227.3" font-size="20" text-anchor="end" fill="#000" transform="rotate(-45 1315.3 1227.3)">2 μM</text>
<line x1="1363.9" y1="1205.3" x2="1363.9" y2="1212.3" stroke="#000" stroke-width="2.5"/>
<text x="1378.9" y="1227.3" font-size="20" text-anchor="end" fill="#000" transform="rotate(-45 1378.9 1227.3)">4 μM</text>
<line x1="1427.3" y1="1205.3" x2="1427.3" y2="1212.3" stroke="#000" stroke-width="2.5"/>
<text x="1442.3" y="1227.3" font-size="20" text-anchor="end" fill="#000" transform="rotate(-45 1442.3 1227.3)">6 μM</text>
<line x1="1227.9" y1="971.0" x2="1297.7" y2="971.0" stroke="#000" stroke-width="2.6"/>
<text x="1262.8" y="965.5" font-size="20" text-anchor="middle" fill="#000">*</text>
<line x1="1227.9" y1="944.2" x2="1354.2" y2="944.2" stroke="#000" stroke-width="2.6"/>
<text x="1291.1" y="938.7" font-size="20" text-anchor="middle" fill="#000">**</text>
<line x1="1227.9" y1="917.3" x2="1416.3" y2="917.3" stroke="#000" stroke-width="2.6"/>
<text x="1322.1" y="911.8" font-size="20" text-anchor="middle" fill="#000">***</text>
<text x="1134.5" y="1076.0" font-size="20" text-anchor="middle" fill="#000" transform="rotate(-90 1134.5 1076.0)">Relative GSH/GSSH ratio</text>
<text x="1157.5" y="1076.0" font-size="20" text-anchor="middle" fill="#000" transform="rotate(-90 1157.5 1076.0)">(compared pf si-NC)</text>
<rect x="122.8" y="1436.0" width="43.0" height="120.3" fill="#d3d4d4" stroke="#000" stroke-width="2.5"/>
<rect x="187.0" y="1381.9" width="43.0" height="174.4" fill="#de9a9b" stroke="#000" stroke-width="2.5"/>
<rect x="251.5" y="1440.8" width="43.0" height="115.5" fill="#9ab6e0" stroke="#000" stroke-width="2.5"/>
<rect x="315.6" y="1416.8" width="43.0" height="139.5" fill="#ae8aba" stroke="#000" stroke-width="2.5"/>
<circle cx="137.3" cy="1445.6" r="6.2" fill="#111"/>
<circle cx="144.3" cy="1421.6" r="6.2" fill="#111"/>
<circle cx="151.3" cy="1439.6" r="6.2" fill="#111"/>
<circle cx="208.5" cy="1369.8" r="6.2" fill="#111"/>
<circle cx="201.5" cy="1391.5" r="6.2" fill="#111"/>
<circle cx="215.5" cy="1387.9" r="6.2" fill="#111"/>
<circle cx="259.0" cy="1433.6" r="6.2" fill="#111"/>
<circle cx="273.0" cy="1448.0" r="6.2" fill="#111"/>
<circle cx="287.0" cy="1442.0" r="6.2" fill="#111"/>
<circle cx="323.1" cy="1410.7" r="6.2" fill="#111"/>
<circle cx="337.1" cy="1421.6" r="6.2" fill="#111"/>
<circle cx="351.1" cy="1418.0" r="6.2" fill="#111"/>
<line x1="144.3" y1="1424.0" x2="144.3" y2="1448.0" stroke="#000" stroke-width="2.0"/>
<line x1="133.6" y1="1424.0" x2="155.1" y2="1424.0" stroke="#000" stroke-width="2.0"/>
<line x1="133.6" y1="1448.0" x2="155.1" y2="1448.0" stroke="#000" stroke-width="2.0"/>
<line x1="208.5" y1="1371.0" x2="208.5" y2="1392.7" stroke="#000" stroke-width="2.0"/>
<line x1="197.8" y1="1371.0" x2="219.2" y2="1371.0" stroke="#000" stroke-width="2.0"/>
<line x1="197.8" y1="1392.7" x2="219.2" y2="1392.7" stroke="#000" stroke-width="2.0"/>
<line x1="273.0" y1="1433.6" x2="273.0" y2="1448.0" stroke="#000" stroke-width="2.0"/>
<line x1="262.2" y1="1433.6" x2="283.8" y2="1433.6" stroke="#000" stroke-width="2.0"/>
<line x1="262.2" y1="1448.0" x2="283.8" y2="1448.0" stroke="#000" stroke-width="2.0"/>
<line x1="337.1" y1="1411.9" x2="337.1" y2="1421.6" stroke="#000" stroke-width="2.0"/>
<line x1="326.4" y1="1411.9" x2="347.9" y2="1411.9" stroke="#000" stroke-width="2.0"/>
<line x1="326.4" y1="1421.6" x2="347.9" y2="1421.6" stroke="#000" stroke-width="2.0"/>
<line x1="112.2" y1="1314.5" x2="112.2" y2="1557.5" stroke="#000" stroke-width="2.5"/>
<line x1="105.2" y1="1556.3" x2="371.0" y2="1556.3" stroke="#000" stroke-width="2.5"/>
<line x1="105.2" y1="1556.3" x2="112.2" y2="1556.3" stroke="#000" stroke-width="2.5"/>
<text x="100.2" y="1562.3" font-size="20" text-anchor="end" fill="#000">0.0</text>
<line x1="105.2" y1="1496.2" x2="112.2" y2="1496.2" stroke="#000" stroke-width="2.5"/>
<text x="100.2" y="1502.2" font-size="20" text-anchor="end" fill="#000">0.5</text>
<line x1="105.2" y1="1436.0" x2="112.2" y2="1436.0" stroke="#000" stroke-width="2.5"/>
<text x="100.2" y="1442.0" font-size="20" text-anchor="end" fill="#000">1.0</text>
<line x1="105.2" y1="1375.8" x2="112.2" y2="1375.8" stroke="#000" stroke-width="2.5"/>
<text x="100.2" y="1381.8" font-size="20" text-anchor="end" fill="#000">1.5</text>
<line x1="105.2" y1="1315.7" x2="112.2" y2="1315.7" stroke="#000" stroke-width="2.5"/>
<text x="100.2" y="1321.7" font-size="20" text-anchor="end" fill="#000">2.0</text>
<line x1="144.3" y1="1556.3" x2="144.3" y2="1563.3" stroke="#000" stroke-width="2.5"/>
<text x="155.3" y="1581.3" font-size="20" text-anchor="end" fill="#000" transform="rotate(-45 155.3 1581.3)">Vehicle</text>
<line x1="208.5" y1="1556.3" x2="208.5" y2="1563.3" stroke="#000" stroke-width="2.5"/>
<text x="219.5" y="1581.3" font-size="20" text-anchor="end" fill="#000" transform="rotate(-45 219.5 1581.3)">TBMS1</text>
<line x1="273.0" y1="1556.3" x2="273.0" y2="1563.3" stroke="#000" stroke-width="2.5"/>
<text x="284.0" y="1581.3" font-size="20" text-anchor="end" fill="#000" transform="rotate(-45 284.0 1581.3)">Fer-1</text>
<line x1="337.1" y1="1556.3" x2="337.1" y2="1563.3" stroke="#000" stroke-width="2.5"/>
<text x="348.1" y="1581.3" font-size="20" text-anchor="end" fill="#000" transform="rotate(-45 348.1 1581.3)">TBMS1+Fer-1</text>
<line x1="138.1" y1="1311.8" x2="208.0" y2="1311.8" stroke="#000" stroke-width="2.6"/>
<text x="173.1" y="1309.3" font-size="20" text-anchor="middle" fill="#000">**</text>
<line x1="210.0" y1="1293.9" x2="335.8" y2="1293.9" stroke="#000" stroke-width="2.6"/>
<text x="272.9" y="1291.4" font-size="20" text-anchor="middle" fill="#000">**</text>
<text x="44.5" y="1434.0" font-size="20" text-anchor="middle" fill="#000" transform="rotate(-90 44.5 1434.0)">Relative ROS level</text>
<text x="67.5" y="1434.0" font-size="20" text-anchor="middle" fill="#000" transform="rotate(-90 67.5 1434.0)">(compared pf si-NC)</text>
<rect x="481.8" y="1437.2" width="43.0" height="120.2" fill="#d3d4d4" stroke="#000" stroke-width="2.5"/>
<rect x="546.5" y="1369.9" width="43.0" height="187.6" fill="#de9a9b" stroke="#000" stroke-width="2.5"/>
<rect x="610.6" y="1436.0" width="43.0" height="121.5" fill="#9ab6e0" stroke="#000" stroke-width="2.5"/>
<rect x="675.3" y="1406.0" width="43.0" height="151.5" fill="#ae8aba" stroke="#000" stroke-width="2.5"/>
<circle cx="496.3" cy="1445.7" r="6.2" fill="#111"/>
<circle cx="503.3" cy="1425.2" r="6.2" fill="#111"/>
<circle cx="510.3" cy="1440.9" r="6.2" fill="#111"/>
<circle cx="554.0" cy="1363.9" r="6.2" fill="#111"/>
<circle cx="568.0" cy="1379.5" r="6.2" fill="#111"/>
<circle cx="582.0" cy="1366.3" r="6.2" fill="#111"/>
<circle cx="625.1" cy="1443.3" r="6.2" fill="#111"/>
<circle cx="632.1" cy="1425.2" r="6.2" fill="#111"/>
<circle cx="639.1" cy="1443.3" r="6.2" fill="#111"/>
<circle cx="682.8" cy="1401.2" r="6.2" fill="#111"/>
<circle cx="696.8" cy="1413.2" r="6.2" fill="#111"/>
<circle cx="710.8" cy="1404.8" r="6.2" fill="#111"/>
<line x1="503.3" y1="1426.4" x2="503.3" y2="1448.1" stroke="#000" stroke-width="2.0"/>
<line x1="492.6" y1="1426.4" x2="514.0" y2="1426.4" stroke="#000" stroke-width="2.0"/>
<line x1="492.6" y1="1448.1" x2="514.0" y2="1448.1" stroke="#000" stroke-width="2.0"/>
<line x1="568.0" y1="1362.7" x2="568.0" y2="1377.1" stroke="#000" stroke-width="2.0"/>
<line x1="557.2" y1="1362.7" x2="578.8" y2="1362.7" stroke="#000" stroke-width="2.0"/>
<line x1="557.2" y1="1377.1" x2="578.8" y2="1377.1" stroke="#000" stroke-width="2.0"/>
<line x1="632.1" y1="1425.2" x2="632.1" y2="1446.9" stroke="#000" stroke-width="2.0"/>
<line x1="621.4" y1="1425.2" x2="642.9" y2="1425.2" stroke="#000" stroke-width="2.0"/>
<line x1="621.4" y1="1446.9" x2="642.9" y2="1446.9" stroke="#000" stroke-width="2.0"/>
<line x1="696.8" y1="1400.0" x2="696.8" y2="1412.0" stroke="#000" stroke-width="2.0"/>
<line x1="686.0" y1="1400.0" x2="707.5" y2="1400.0" stroke="#000" stroke-width="2.0"/>
<line x1="686.0" y1="1412.0" x2="707.5" y2="1412.0" stroke="#000" stroke-width="2.0"/>
<line x1="472.2" y1="1315.8" x2="472.2" y2="1558.8" stroke="#000" stroke-width="2.5"/>
<line x1="465.2" y1="1557.5" x2="730.2" y2="1557.5" stroke="#000" stroke-width="2.5"/>
<line x1="465.2" y1="1557.5" x2="472.2" y2="1557.5" stroke="#000" stroke-width="2.5"/>
<text x="460.2" y="1563.5" font-size="20" text-anchor="end" fill="#000">0.0</text>
<line x1="465.2" y1="1497.4" x2="472.2" y2="1497.4" stroke="#000" stroke-width="2.5"/>
<text x="460.2" y="1503.4" font-size="20" text-anchor="end" fill="#000">0.5</text>
<line x1="465.2" y1="1437.2" x2="472.2" y2="1437.2" stroke="#000" stroke-width="2.5"/>
<text x="460.2" y="1443.2" font-size="20" text-anchor="end" fill="#000">1.0</text>
<line x1="465.2" y1="1377.1" x2="472.2" y2="1377.1" stroke="#000" stroke-width="2.5"/>
<text x="460.2" y="1383.1" font-size="20" text-anchor="end" fill="#000">1.5</text>
<line x1="465.2" y1="1317.0" x2="472.2" y2="1317.0" stroke="#000" stroke-width="2.5"/>
<text x="460.2" y="1323.0" font-size="20" text-anchor="end" fill="#000">2.0</text>
<line x1="503.3" y1="1557.5" x2="503.3" y2="1564.5" stroke="#000" stroke-width="2.5"/>
<text x="514.3" y="1582.5" font-size="20" text-anchor="end" fill="#000" transform="rotate(-45 514.3 1582.5)">Vehicle</text>
<line x1="568.0" y1="1557.5" x2="568.0" y2="1564.5" stroke="#000" stroke-width="2.5"/>
<text x="579.0" y="1582.5" font-size="20" text-anchor="end" fill="#000" transform="rotate(-45 579.0 1582.5)">TBMS1</text>
<line x1="632.1" y1="1557.5" x2="632.1" y2="1564.5" stroke="#000" stroke-width="2.5"/>
<text x="643.1" y="1582.5" font-size="20" text-anchor="end" fill="#000" transform="rotate(-45 643.1 1582.5)">Fer-1</text>
<line x1="696.8" y1="1557.5" x2="696.8" y2="1564.5" stroke="#000" stroke-width="2.5"/>
<text x="707.8" y="1582.5" font-size="20" text-anchor="end" fill="#000" transform="rotate(-45 707.8 1582.5)">TBMS1+Fer-1</text>
<line x1="501.2" y1="1318.3" x2="571.8" y2="1318.3" stroke="#000" stroke-width="2.6"/>
<text x="536.5" y="1315.8" font-size="20" text-anchor="middle" fill="#000">***</text>
<line x1="573.0" y1="1300.3" x2="698.9" y2="1300.3" stroke="#000" stroke-width="2.6"/>
<text x="636.0" y="1297.8" font-size="20" text-anchor="middle" fill="#000">**</text>
<text x="398.5" y="1434.0" font-size="20" text-anchor="middle" fill="#000" transform="rotate(-90 398.5 1434.0)">Relative MDA level</text>
<text x="421.5" y="1434.0" font-size="20" text-anchor="middle" fill="#000" transform="rotate(-90 421.5 1434.0)">(compared pf si-NC)</text>
<rect x="858.2" y="1439.9" width="43.0" height="120.7" fill="#d3d4d4" stroke="#000" stroke-width="2.5"/>
<rect x="922.4" y="1386.9" width="43.0" height="173.7" fill="#de9a9b" stroke="#000" stroke-width="2.5"/>
<rect x="986.5" y="1444.8" width="43.0" height="115.8" fill="#9ab6e0" stroke="#000" stroke-width="2.5"/>
<rect x="1050.7" y="1409.8" width="43.0" height="150.8" fill="#ae8aba" stroke="#000" stroke-width="2.5"/>
<circle cx="872.7" cy="1449.6" r="6.2" fill="#111"/>
<circle cx="879.7" cy="1425.5" r="6.2" fill="#111"/>
<circle cx="886.7" cy="1443.6" r="6.2" fill="#111"/>
<circle cx="936.9" cy="1394.1" r="6.2" fill="#111"/>
<circle cx="943.9" cy="1373.6" r="6.2" fill="#111"/>
<circle cx="950.9" cy="1391.7" r="6.2" fill="#111"/>
<circle cx="994.0" cy="1437.5" r="6.2" fill="#111"/>
<circle cx="1008.0" cy="1453.2" r="6.2" fill="#111"/>
<circle cx="1022.0" cy="1446.0" r="6.2" fill="#111"/>
<circle cx="1065.2" cy="1419.4" r="6.2" fill="#111"/>
<circle cx="1072.2" cy="1402.5" r="6.2" fill="#111"/>
<circle cx="1079.2" cy="1408.6" r="6.2" fill="#111"/>
<line x1="879.7" y1="1427.9" x2="879.7" y2="1452.0" stroke="#000" stroke-width="2.0"/>
<line x1="869.0" y1="1427.9" x2="890.5" y2="1427.9" stroke="#000" stroke-width="2.0"/>
<line x1="869.0" y1="1452.0" x2="890.5" y2="1452.0" stroke="#000" stroke-width="2.0"/>
<line x1="943.9" y1="1376.0" x2="943.9" y2="1397.7" stroke="#000" stroke-width="2.0"/>
<line x1="933.1" y1="1376.0" x2="954.6" y2="1376.0" stroke="#000" stroke-width="2.0"/>
<line x1="933.1" y1="1397.7" x2="954.6" y2="1397.7" stroke="#000" stroke-width="2.0"/>
<line x1="1008.0" y1="1436.3" x2="1008.0" y2="1453.2" stroke="#000" stroke-width="2.0"/>
<line x1="997.2" y1="1436.3" x2="1018.8" y2="1436.3" stroke="#000" stroke-width="2.0"/>
<line x1="997.2" y1="1453.2" x2="1018.8" y2="1453.2" stroke="#000" stroke-width="2.0"/>
<line x1="1072.2" y1="1400.1" x2="1072.2" y2="1419.4" stroke="#000" stroke-width="2.0"/>
<line x1="1061.5" y1="1400.1" x2="1083.0" y2="1400.1" stroke="#000" stroke-width="2.0"/>
<line x1="1061.5" y1="1419.4" x2="1083.0" y2="1419.4" stroke="#000" stroke-width="2.0"/>
<line x1="847.6" y1="1318.0" x2="847.6" y2="1561.8" stroke="#000" stroke-width="2.5"/>
<line x1="840.6" y1="1560.6" x2="1107.4" y2="1560.6" stroke="#000" stroke-width="2.5"/>
<line x1="840.6" y1="1560.6" x2="847.6" y2="1560.6" stroke="#000" stroke-width="2.5"/>
<text x="835.6" y="1566.6" font-size="20" text-anchor="end" fill="#000">0.0</text>
<line x1="840.6" y1="1500.3" x2="847.6" y2="1500.3" stroke="#000" stroke-width="2.5"/>
<text x="835.6" y="1506.3" font-size="20" text-anchor="end" fill="#000">0.5</text>
<line x1="840.6" y1="1439.9" x2="847.6" y2="1439.9" stroke="#000" stroke-width="2.5"/>
<text x="835.6" y="1445.9" font-size="20" text-anchor="end" fill="#000">1.0</text>
<line x1="840.6" y1="1379.6" x2="847.6" y2="1379.6" stroke="#000" stroke-width="2.5"/>
<text x="835.6" y="1385.6" font-size="20" text-anchor="end" fill="#000">1.5</text>
<line x1="840.6" y1="1319.3" x2="847.6" y2="1319.3" stroke="#000" stroke-width="2.5"/>
<text x="835.6" y="1325.3" font-size="20" text-anchor="end" fill="#000">2.0</text>
<line x1="879.7" y1="1560.6" x2="879.7" y2="1567.6" stroke="#000" stroke-width="2.5"/>
<text x="890.7" y="1585.6" font-size="20" text-anchor="end" fill="#000" transform="rotate(-45 890.7 1585.6)">Vehicle</text>
<line x1="943.9" y1="1560.6" x2="943.9" y2="1567.6" stroke="#000" stroke-width="2.5"/>
<text x="954.9" y="1585.6" font-size="20" text-anchor="end" fill="#000" transform="rotate(-45 954.9 1585.6)">TBMS1</text>
<line x1="1008.0" y1="1560.6" x2="1008.0" y2="1567.6" stroke="#000" stroke-width="2.5"/>
<text x="1019.0" y="1585.6" font-size="20" text-anchor="end" fill="#000" transform="rotate(-45 1019.0 1585.6)">Fer-1</text>
<line x1="1072.2" y1="1560.6" x2="1072.2" y2="1567.6" stroke="#000" stroke-width="2.5"/>
<text x="1083.2" y="1585.6" font-size="20" text-anchor="end" fill="#000" transform="rotate(-45 1083.2 1585.6)">TBMS1+Fer-1</text>
<line x1="874.3" y1="1320.8" x2="943.6" y2="1320.8" stroke="#000" stroke-width="2.6"/>
<text x="909.0" y="1318.3" font-size="20" text-anchor="middle" fill="#000">**</text>
<line x1="946.2" y1="1302.9" x2="1071.5" y2="1302.9" stroke="#000" stroke-width="2.6"/>
<text x="1008.9" y="1300.4" font-size="20" text-anchor="middle" fill="#000">*</text>
<text x="775.5" y="1434.0" font-size="20" text-anchor="middle" fill="#000" transform="rotate(-90 775.5 1434.0)">Relative Fe<tspan dy="-8" font-size="12">2+</tspan><tspan dy="8"> level</tspan></text>
<text x="798.5" y="1434.0" font-size="20" text-anchor="middle" fill="#000" transform="rotate(-90 798.5 1434.0)">(compared pf si-NC)</text>
<rect x="1223.5" y="1403.8" width="43.0" height="160.7" fill="#d3d4d4" stroke="#000" stroke-width="2.5"/>
<rect x="1287.7" y="1464.8" width="43.0" height="99.7" fill="#de9a9b" stroke="#000" stroke-width="2.5"/>
<rect x="1351.9" y="1397.3" width="43.0" height="167.2" fill="#9ab6e0" stroke="#000" stroke-width="2.5"/>
<rect x="1416.9" y="1421.4" width="43.0" height="143.1" fill="#ae8aba" stroke="#000" stroke-width="2.5"/>
<circle cx="1238.0" cy="1416.6" r="6.2" fill="#111"/>
<circle cx="1245.0" cy="1384.5" r="6.2" fill="#111"/>
<circle cx="1252.0" cy="1410.2" r="6.2" fill="#111"/>
<circle cx="1302.2" cy="1472.9" r="6.2" fill="#111"/>
<circle cx="1309.2" cy="1458.4" r="6.2" fill="#111"/>
<circle cx="1316.2" cy="1463.2" r="6.2" fill="#111"/>
<circle cx="1359.4" cy="1389.3" r="6.2" fill="#111"/>
<circle cx="1373.4" cy="1405.4" r="6.2" fill="#111"/>
<circle cx="1387.4" cy="1403.8" r="6.2" fill="#111"/>
<circle cx="1424.4" cy="1418.2" r="6.2" fill="#111"/>
<circle cx="1438.4" cy="1424.7" r="6.2" fill="#111"/>
<circle cx="1452.4" cy="1423.1" r="6.2" fill="#111"/>
<line x1="1245.0" y1="1386.1" x2="1245.0" y2="1421.4" stroke="#000" stroke-width="2.0"/>
<line x1="1234.2" y1="1386.1" x2="1255.8" y2="1386.1" stroke="#000" stroke-width="2.0"/>
<line x1="1234.2" y1="1421.4" x2="1255.8" y2="1421.4" stroke="#000" stroke-width="2.0"/>
<line x1="1309.2" y1="1456.8" x2="1309.2" y2="1472.9" stroke="#000" stroke-width="2.0"/>
<line x1="1298.5" y1="1456.8" x2="1320.0" y2="1456.8" stroke="#000" stroke-width="2.0"/>
<line x1="1298.5" y1="1472.9" x2="1320.0" y2="1472.9" stroke="#000" stroke-width="2.0"/>
<line x1="1373.4" y1="1389.3" x2="1373.4" y2="1405.4" stroke="#000" stroke-width="2.0"/>
<line x1="1362.7" y1="1389.3" x2="1384.2" y2="1389.3" stroke="#000" stroke-width="2.0"/>
<line x1="1362.7" y1="1405.4" x2="1384.2" y2="1405.4" stroke="#000" stroke-width="2.0"/>
<line x1="1438.4" y1="1416.6" x2="1438.4" y2="1426.3" stroke="#000" stroke-width="2.0"/>
<line x1="1427.7" y1="1416.6" x2="1449.2" y2="1416.6" stroke="#000" stroke-width="2.0"/>
<line x1="1427.7" y1="1426.3" x2="1449.2" y2="1426.3" stroke="#000" stroke-width="2.0"/>
<line x1="1213.0" y1="1322.2" x2="1213.0" y2="1565.8" stroke="#000" stroke-width="2.5"/>
<line x1="1206.0" y1="1564.5" x2="1471.5" y2="1564.5" stroke="#000" stroke-width="2.5"/>
<line x1="1206.0" y1="1564.5" x2="1213.0" y2="1564.5" stroke="#000" stroke-width="2.5"/>
<text x="1201.0" y="1570.5" font-size="20" text-anchor="end" fill="#000">0.0</text>
<line x1="1206.0" y1="1484.1" x2="1213.0" y2="1484.1" stroke="#000" stroke-width="2.5"/>
<text x="1201.0" y="1490.1" font-size="20" text-anchor="end" fill="#000">0.5</text>
<line x1="1206.0" y1="1403.8" x2="1213.0" y2="1403.8" stroke="#000" stroke-width="2.5"/>
<text x="1201.0" y="1409.8" font-size="20" text-anchor="end" fill="#000">1.0</text>
<line x1="1206.0" y1="1323.4" x2="1213.0" y2="1323.4" stroke="#000" stroke-width="2.5"/>
<text x="1201.0" y="1329.4" font-size="20" text-anchor="end" fill="#000">1.5</text>
<line x1="1245.0" y1="1564.5" x2="1245.0" y2="1571.5" stroke="#000" stroke-width="2.5"/>
<text x="1256.0" y="1589.5" font-size="20" text-anchor="end" fill="#000" transform="rotate(-45 1256.0 1589.5)">Vehicle</text>
<line x1="1309.2" y1="1564.5" x2="1309.2" y2="1571.5" stroke="#000" stroke-width="2.5"/>
<text x="1320.2" y="1589.5" font-size="20" text-anchor="end" fill="#000" transform="rotate(-45 1320.2 1589.5)">TBMS1</text>
<line x1="1373.4" y1="1564.5" x2="1373.4" y2="1571.5" stroke="#000" stroke-width="2.5"/>
<text x="1384.4" y="1589.5" font-size="20" text-anchor="end" fill="#000" transform="rotate(-45 1384.4 1589.5)">Fer-1</text>
<line x1="1438.4" y1="1564.5" x2="1438.4" y2="1571.5" stroke="#000" stroke-width="2.5"/>
<text x="1449.4" y="1589.5" font-size="20" text-anchor="end" fill="#000" transform="rotate(-45 1449.4 1589.5)">TBMS1+Fer-1</text>
<line x1="1240.7" y1="1309.3" x2="1310.5" y2="1309.3" stroke="#000" stroke-width="2.6"/>
<text x="1275.6" y="1306.8" font-size="20" text-anchor="middle" fill="#000">**</text>
<line x1="1313.0" y1="1290.5" x2="1438.4" y2="1290.5" stroke="#000" stroke-width="2.6"/>
<text x="1375.7" y="1288.0" font-size="20" text-anchor="middle" fill="#000">**</text>
<text x="1139.5" y="1434.0" font-size="20" text-anchor="middle" fill="#000" transform="rotate(-90 1139.5 1434.0)">Relative GSH/GSSH ratio</text>
<text x="1162.5" y="1434.0" font-size="20" text-anchor="middle" fill="#000" transform="rotate(-90 1162.5 1434.0)">(compared pf si-NC)</text>
<rect x="594.5" y="1878.3" width="41.0" height="91.7" fill="#d3d4d4" stroke="#000" stroke-width="1.6"/>
<rect x="656.7" y="1864.3" width="41.0" height="105.7" fill="#de9a9b" stroke="#000" stroke-width="1.6"/>
<rect x="718.9" y="1839.5" width="41.0" height="130.5" fill="#9ab6e0" stroke="#000" stroke-width="1.6"/>
<rect x="781.1" y="1806.8" width="41.0" height="163.2" fill="#ae8aba" stroke="#000" stroke-width="1.6"/>
<circle cx="602.0" cy="1873.7" r="5.8" fill="#111"/>
<circle cx="615.0" cy="1883.0" r="5.8" fill="#111"/>
<circle cx="628.0" cy="1879.9" r="5.8" fill="#111"/>
<circle cx="664.2" cy="1859.7" r="5.8" fill="#111"/>
<circle cx="677.2" cy="1867.4" r="5.8" fill="#111"/>
<circle cx="690.2" cy="1864.3" r="5.8" fill="#111"/>
<circle cx="732.4" cy="1848.8" r="5.8" fill="#111"/>
<circle cx="739.4" cy="1830.1" r="5.8" fill="#111"/>
<circle cx="746.4" cy="1847.2" r="5.8" fill="#111"/>
<circle cx="794.6" cy="1797.5" r="5.8" fill="#111"/>
<circle cx="801.6" cy="1819.3" r="5.8" fill="#111"/>
<circle cx="808.6" cy="1803.7" r="5.8" fill="#111"/>
<line x1="615.0" y1="1873.7" x2="615.0" y2="1883.0" stroke="#000" stroke-width="1.8"/>
<line x1="604.8" y1="1873.7" x2="625.2" y2="1873.7" stroke="#000" stroke-width="1.8"/>
<line x1="604.8" y1="1883.0" x2="625.2" y2="1883.0" stroke="#000" stroke-width="1.8"/>
<line x1="677.2" y1="1861.2" x2="677.2" y2="1867.4" stroke="#000" stroke-width="1.8"/>
<line x1="667.0" y1="1861.2" x2="687.5" y2="1861.2" stroke="#000" stroke-width="1.8"/>
<line x1="667.0" y1="1867.4" x2="687.5" y2="1867.4" stroke="#000" stroke-width="1.8"/>
<line x1="739.4" y1="1830.1" x2="739.4" y2="1848.8" stroke="#000" stroke-width="1.8"/>
<line x1="729.1" y1="1830.1" x2="749.6" y2="1830.1" stroke="#000" stroke-width="1.8"/>
<line x1="729.1" y1="1848.8" x2="749.6" y2="1848.8" stroke="#000" stroke-width="1.8"/>
<line x1="801.6" y1="1794.4" x2="801.6" y2="1819.3" stroke="#000" stroke-width="1.8"/>
<line x1="791.4" y1="1794.4" x2="811.9" y2="1794.4" stroke="#000" stroke-width="1.8"/>
<line x1="791.4" y1="1819.3" x2="811.9" y2="1819.3" stroke="#000" stroke-width="1.8"/>
<line x1="583.8" y1="1736.2" x2="583.8" y2="1970.8" stroke="#000" stroke-width="1.5"/>
<line x1="577.8" y1="1970.0" x2="833.2" y2="1970.0" stroke="#000" stroke-width="1.5"/>
<line x1="577.8" y1="1970.0" x2="583.8" y2="1970.0" stroke="#000" stroke-width="1.5"/>
<text x="574.8" y="1975.6" font-size="17.5" text-anchor="end" fill="#000" font-weight="bold">0.0</text>
<line x1="577.8" y1="1892.3" x2="583.8" y2="1892.3" stroke="#000" stroke-width="1.5"/>
<text x="574.8" y="1897.9" font-size="17.5" text-anchor="end" fill="#000" font-weight="bold">0.5</text>
<line x1="577.8" y1="1814.6" x2="583.8" y2="1814.6" stroke="#000" stroke-width="1.5"/>
<text x="574.8" y="1820.2" font-size="17.5" text-anchor="end" fill="#000" font-weight="bold">1.0</text>
<line x1="577.8" y1="1736.9" x2="583.8" y2="1736.9" stroke="#000" stroke-width="1.5"/>
<text x="574.8" y="1742.5" font-size="17.5" text-anchor="end" fill="#000" font-weight="bold">1.5</text>
<line x1="615.0" y1="1970.0" x2="615.0" y2="1976.0" stroke="#000" stroke-width="1.5"/>
<text x="615.0" y="1999.0" font-size="20" text-anchor="middle" fill="#000">Vehicle</text>
<line x1="677.2" y1="1970.0" x2="677.2" y2="1976.0" stroke="#000" stroke-width="1.5"/>
<text x="677.2" y="1999.0" font-size="20" text-anchor="middle" fill="#000">2 μM</text>
<line x1="739.4" y1="1970.0" x2="739.4" y2="1976.0" stroke="#000" stroke-width="1.5"/>
<text x="739.4" y="1999.0" font-size="20" text-anchor="middle" fill="#000">4 μM</text>
<line x1="801.6" y1="1970.0" x2="801.6" y2="1976.0" stroke="#000" stroke-width="1.5"/>
<text x="801.6" y="1999.0" font-size="20" text-anchor="middle" fill="#000">6 μM</text>
<line x1="610.7" y1="1765.4" x2="679.3" y2="1765.4" stroke="#000" stroke-width="2.6"/>
<text x="645.0" y="1763.4" font-size="20" text-anchor="middle" fill="#000">*</text>
<line x1="610.7" y1="1739.6" x2="734.6" y2="1739.6" stroke="#000" stroke-width="2.6"/>
<text x="672.7" y="1737.6" font-size="20" text-anchor="middle" fill="#000">**</text>
<line x1="610.7" y1="1712.7" x2="794.7" y2="1712.7" stroke="#000" stroke-width="2.6"/>
<text x="702.7" y="1706.7" font-size="20" text-anchor="middle" fill="#000">***</text>
<text x="522.5" y="1851.0" font-size="20.5" text-anchor="middle" fill="#000" transform="rotate(-90 522.5 1851.0)">Relative protein expression</text>
<text x="546.1" y="1851.0" font-size="20.5" text-anchor="middle" fill="#000" transform="rotate(-90 546.1 1851.0)">of TFR1</text>
<rect x="987.7" y="1875.2" width="41.0" height="94.8" fill="#d3d4d4" stroke="#000" stroke-width="1.6"/>
<rect x="1049.9" y="1856.6" width="41.0" height="113.4" fill="#de9a9b" stroke="#000" stroke-width="1.6"/>
<rect x="1112.1" y="1833.2" width="41.0" height="136.8" fill="#9ab6e0" stroke="#000" stroke-width="1.6"/>
<rect x="1174.3" y="1794.4" width="41.0" height="175.6" fill="#ae8aba" stroke="#000" stroke-width="1.6"/>
<circle cx="1001.2" cy="1884.5" r="5.8" fill="#111"/>
<circle cx="1008.2" cy="1867.4" r="5.8" fill="#111"/>
<circle cx="1015.2" cy="1872.1" r="5.8" fill="#111"/>
<circle cx="1057.4" cy="1850.3" r="5.8" fill="#111"/>
<circle cx="1070.4" cy="1862.8" r="5.8" fill="#111"/>
<circle cx="1083.4" cy="1855.0" r="5.8" fill="#111"/>
<circle cx="1125.6" cy="1827.0" r="5.8" fill="#111"/>
<circle cx="1132.6" cy="1844.1" r="5.8" fill="#111"/>
<circle cx="1139.6" cy="1827.0" r="5.8" fill="#111"/>
<circle cx="1187.8" cy="1805.3" r="5.8" fill="#111"/>
<circle cx="1194.8" cy="1780.4" r="5.8" fill="#111"/>
<circle cx="1201.8" cy="1805.3" r="5.8" fill="#111"/>
<line x1="1008.2" y1="1867.4" x2="1008.2" y2="1883.0" stroke="#000" stroke-width="1.8"/>
<line x1="998.0" y1="1867.4" x2="1018.5" y2="1867.4" stroke="#000" stroke-width="1.8"/>
<line x1="998.0" y1="1883.0" x2="1018.5" y2="1883.0" stroke="#000" stroke-width="1.8"/>
<line x1="1070.4" y1="1850.3" x2="1070.4" y2="1862.8" stroke="#000" stroke-width="1.8"/>
<line x1="1060.2" y1="1850.3" x2="1080.7" y2="1850.3" stroke="#000" stroke-width="1.8"/>
<line x1="1060.2" y1="1862.8" x2="1080.7" y2="1862.8" stroke="#000" stroke-width="1.8"/>
<line x1="1132.6" y1="1822.4" x2="1132.6" y2="1844.1" stroke="#000" stroke-width="1.8"/>
<line x1="1122.3" y1="1822.4" x2="1142.8" y2="1822.4" stroke="#000" stroke-width="1.8"/>
<line x1="1122.3" y1="1844.1" x2="1142.8" y2="1844.1" stroke="#000" stroke-width="1.8"/>
<line x1="1194.8" y1="1782.0" x2="1194.8" y2="1806.8" stroke="#000" stroke-width="1.8"/>
<line x1="1184.5" y1="1782.0" x2="1205.0" y2="1782.0" stroke="#000" stroke-width="1.8"/>
<line x1="1184.5" y1="1806.8" x2="1205.0" y2="1806.8" stroke="#000" stroke-width="1.8"/>
<line x1="976.6" y1="1736.2" x2="976.6" y2="1970.8" stroke="#000" stroke-width="1.5"/>
<line x1="970.6" y1="1970.0" x2="1227.5" y2="1970.0" stroke="#000" stroke-width="1.5"/>
<line x1="970.6" y1="1970.0" x2="976.6" y2="1970.0" stroke="#000" stroke-width="1.5"/>
<text x="967.6" y="1975.6" font-size="17.5" text-anchor="end" fill="#000" font-weight="bold">0.0</text>
<line x1="970.6" y1="1892.3" x2="976.6" y2="1892.3" stroke="#000" stroke-width="1.5"/>
<text x="967.6" y="1897.9" font-size="17.5" text-anchor="end" fill="#000" font-weight="bold">0.5</text>
<line x1="970.6" y1="1814.6" x2="976.6" y2="1814.6" stroke="#000" stroke-width="1.5"/>
<text x="967.6" y="1820.2" font-size="17.5" text-anchor="end" fill="#000" font-weight="bold">1.0</text>
<line x1="970.6" y1="1736.9" x2="976.6" y2="1736.9" stroke="#000" stroke-width="1.5"/>
<text x="967.6" y="1742.5" font-size="17.5" text-anchor="end" fill="#000" font-weight="bold">1.5</text>
<line x1="1008.2" y1="1970.0" x2="1008.2" y2="1976.0" stroke="#000" stroke-width="1.5"/>
<text x="1008.2" y="1999.0" font-size="20" text-anchor="middle" fill="#000">Vehicle</text>
<line x1="1070.4" y1="1970.0" x2="1070.4" y2="1976.0" stroke="#000" stroke-width="1.5"/>
<text x="1070.4" y="1999.0" font-size="20" text-anchor="middle" fill="#000">2 μM</text>
<line x1="1132.6" y1="1970.0" x2="1132.6" y2="1976.0" stroke="#000" stroke-width="1.5"/>
<text x="1132.6" y="1999.0" font-size="20" text-anchor="middle" fill="#000">4 μM</text>
<line x1="1194.8" y1="1970.0" x2="1194.8" y2="1976.0" stroke="#000" stroke-width="1.5"/>
<text x="1194.8" y="1999.0" font-size="20" text-anchor="middle" fill="#000">6 μM</text>
<line x1="1003.5" y1="1761.7" x2="1071.5" y2="1761.7" stroke="#000" stroke-width="2.6"/>
<text x="1037.5" y="1759.7" font-size="20" text-anchor="middle" fill="#000">*</text>
<line x1="1003.5" y1="1736.4" x2="1126.8" y2="1736.4" stroke="#000" stroke-width="2.6"/>
<text x="1065.2" y="1734.4" font-size="20" text-anchor="middle" fill="#000">**</text>
<line x1="1003.5" y1="1710.0" x2="1186.4" y2="1710.0" stroke="#000" stroke-width="2.6"/>
<text x="1095.0" y="1704.0" font-size="20" text-anchor="middle" fill="#000">***</text>
<text x="915.5" y="1851.0" font-size="20.5" text-anchor="middle" fill="#000" transform="rotate(-90 915.5 1851.0)">Relative protein expression</text>
<text x="939.1" y="1851.0" font-size="20.5" text-anchor="middle" fill="#000" transform="rotate(-90 939.1 1851.0)">of DMT1</text>
<rect x="126.1" y="2183.8" width="41.0" height="115.7" fill="#d3d4d4" stroke="#000" stroke-width="1.6"/>
<rect x="188.2" y="2148.0" width="41.0" height="151.5" fill="#de9a9b" stroke="#000" stroke-width="1.6"/>
<rect x="249.5" y="2131.8" width="41.0" height="167.7" fill="#9ab6e0" stroke="#000" stroke-width="1.6"/>
<rect x="311.3" y="2113.3" width="41.0" height="186.2" fill="#ae8aba" stroke="#000" stroke-width="1.6"/>
<circle cx="139.6" cy="2194.3" r="5.5" fill="#111"/>
<circle cx="146.6" cy="2168.8" r="5.5" fill="#111"/>
<circle cx="153.6" cy="2190.8" r="5.5" fill="#111"/>
<circle cx="201.7" cy="2154.9" r="5.5" fill="#111"/>
<circle cx="208.7" cy="2139.9" r="5.5" fill="#111"/>
<circle cx="215.7" cy="2149.2" r="5.5" fill="#111"/>
<circle cx="256.0" cy="2126.0" r="5.5" fill="#111"/>
<circle cx="270.0" cy="2136.4" r="5.5" fill="#111"/>
<circle cx="284.0" cy="2131.8" r="5.5" fill="#111"/>
<circle cx="317.8" cy="2107.5" r="5.5" fill="#111"/>
<circle cx="331.8" cy="2120.2" r="5.5" fill="#111"/>
<circle cx="345.8" cy="2112.1" r="5.5" fill="#111"/>
<line x1="146.6" y1="2171.1" x2="146.6" y2="2196.6" stroke="#000" stroke-width="1.8"/>
<line x1="136.3" y1="2171.1" x2="156.8" y2="2171.1" stroke="#000" stroke-width="1.8"/>
<line x1="136.3" y1="2196.6" x2="156.8" y2="2196.6" stroke="#000" stroke-width="1.8"/>
<line x1="208.7" y1="2141.1" x2="208.7" y2="2154.9" stroke="#000" stroke-width="1.8"/>
<line x1="198.4" y1="2141.1" x2="218.9" y2="2141.1" stroke="#000" stroke-width="1.8"/>
<line x1="198.4" y1="2154.9" x2="218.9" y2="2154.9" stroke="#000" stroke-width="1.8"/>
<line x1="270.0" y1="2127.2" x2="270.0" y2="2136.4" stroke="#000" stroke-width="1.8"/>
<line x1="259.8" y1="2127.2" x2="280.2" y2="2127.2" stroke="#000" stroke-width="1.8"/>
<line x1="259.8" y1="2136.4" x2="280.2" y2="2136.4" stroke="#000" stroke-width="1.8"/>
<line x1="331.8" y1="2107.5" x2="331.8" y2="2119.1" stroke="#000" stroke-width="1.8"/>
<line x1="321.6" y1="2107.5" x2="342.1" y2="2107.5" stroke="#000" stroke-width="1.8"/>
<line x1="321.6" y1="2119.1" x2="342.1" y2="2119.1" stroke="#000" stroke-width="1.8"/>
<line x1="116.5" y1="2067.4" x2="116.5" y2="2300.3" stroke="#000" stroke-width="1.6"/>
<line x1="110.5" y1="2299.5" x2="363.3" y2="2299.5" stroke="#000" stroke-width="1.6"/>
<line x1="110.5" y1="2299.5" x2="116.5" y2="2299.5" stroke="#000" stroke-width="1.6"/>
<text x="103.5" y="2305.5" font-size="20" text-anchor="end" fill="#000">0.0</text>
<line x1="110.5" y1="2241.7" x2="116.5" y2="2241.7" stroke="#000" stroke-width="1.6"/>
<text x="103.5" y="2247.7" font-size="20" text-anchor="end" fill="#000">0.5</text>
<line x1="110.5" y1="2183.8" x2="116.5" y2="2183.8" stroke="#000" stroke-width="1.6"/>
<text x="103.5" y="2189.8" font-size="20" text-anchor="end" fill="#000">1.0</text>
<line x1="110.5" y1="2126.0" x2="116.5" y2="2126.0" stroke="#000" stroke-width="1.6"/>
<text x="103.5" y="2132.0" font-size="20" text-anchor="end" fill="#000">1.5</text>
<line x1="110.5" y1="2068.2" x2="116.5" y2="2068.2" stroke="#000" stroke-width="1.6"/>
<text x="103.5" y="2074.2" font-size="20" text-anchor="end" fill="#000">2.0</text>
<line x1="146.6" y1="2299.5" x2="146.6" y2="2305.5" stroke="#000" stroke-width="1.6"/>
<text x="159.6" y="2319.5" font-size="20" text-anchor="end" fill="#000" transform="rotate(-45 159.6 2319.5)">Vehicle</text>
<line x1="208.7" y1="2299.5" x2="208.7" y2="2305.5" stroke="#000" stroke-width="1.6"/>
<text x="221.7" y="2319.5" font-size="20" text-anchor="end" fill="#000" transform="rotate(-45 221.7 2319.5)">2 μM</text>
<line x1="270.0" y1="2299.5" x2="270.0" y2="2305.5" stroke="#000" stroke-width="1.6"/>
<text x="283.0" y="2319.5" font-size="20" text-anchor="end" fill="#000" transform="rotate(-45 283.0 2319.5)">4 μM</text>
<line x1="331.8" y1="2299.5" x2="331.8" y2="2305.5" stroke="#000" stroke-width="1.6"/>
<text x="344.8" y="2319.5" font-size="20" text-anchor="end" fill="#000" transform="rotate(-45 344.8 2319.5)">6 μM</text>
<line x1="144.8" y1="2086.9" x2="212.6" y2="2086.9" stroke="#000" stroke-width="2.6"/>
<text x="178.7" y="2084.9" font-size="20" text-anchor="middle" fill="#000">**</text>
<line x1="144.8" y1="2061.0" x2="267.6" y2="2061.0" stroke="#000" stroke-width="2.6"/>
<text x="206.2" y="2059.0" font-size="20" text-anchor="middle" fill="#000">**</text>
<line x1="144.8" y1="2034.3" x2="328.0" y2="2034.3" stroke="#000" stroke-width="2.6"/>
<text x="236.4" y="2026.3" font-size="20" text-anchor="middle" fill="#000">***</text>
<text x="40.0" y="2183.5" font-size="20" text-anchor="middle" fill="#000" transform="rotate(-90 40.0 2183.5)">Relative Fe<tspan dy="-8" font-size="12">2+</tspan><tspan dy="8">/Fe</tspan><tspan dy="-8" font-size="12">3+</tspan><tspan dy="8"> ratio</tspan></text>
<text x="63.0" y="2183.5" font-size="20" text-anchor="middle" fill="#000" transform="rotate(-90 63.0 2183.5)">(compared pf si-NC)</text>
<rect x="571.9" y="2179.8" width="41.0" height="115.2" fill="#d3d4d4" stroke="#000" stroke-width="1.6"/>
<rect x="633.5" y="2129.1" width="41.0" height="165.9" fill="#de9a9b" stroke="#000" stroke-width="1.6"/>
<rect x="695.3" y="2184.4" width="41.0" height="110.6" fill="#9ab6e0" stroke="#000" stroke-width="1.6"/>
<rect x="756.9" y="2159.1" width="41.0" height="135.9" fill="#ae8aba" stroke="#000" stroke-width="1.6"/>
<circle cx="585.4" cy="2185.6" r="5.5" fill="#111"/>
<circle cx="592.4" cy="2171.7" r="5.5" fill="#111"/>
<circle cx="599.4" cy="2182.1" r="5.5" fill="#111"/>
<circle cx="647.0" cy="2137.2" r="5.5" fill="#111"/>
<circle cx="654.0" cy="2119.9" r="5.5" fill="#111"/>
<circle cx="661.0" cy="2131.4" r="5.5" fill="#111"/>
<circle cx="701.8" cy="2177.5" r="5.5" fill="#111"/>
<circle cx="715.8" cy="2190.2" r="5.5" fill="#111"/>
<circle cx="729.8" cy="2185.6" r="5.5" fill="#111"/>
<circle cx="770.4" cy="2166.0" r="5.5" fill="#111"/>
<circle cx="777.4" cy="2149.8" r="5.5" fill="#111"/>
<circle cx="784.4" cy="2161.4" r="5.5" fill="#111"/>
<line x1="592.4" y1="2174.0" x2="592.4" y2="2185.6" stroke="#000" stroke-width="1.8"/>
<line x1="582.1" y1="2174.0" x2="602.6" y2="2174.0" stroke="#000" stroke-width="1.8"/>
<line x1="582.1" y1="2185.6" x2="602.6" y2="2185.6" stroke="#000" stroke-width="1.8"/>
<line x1="654.0" y1="2121.0" x2="654.0" y2="2137.2" stroke="#000" stroke-width="1.8"/>
<line x1="643.8" y1="2121.0" x2="664.2" y2="2121.0" stroke="#000" stroke-width="1.8"/>
<line x1="643.8" y1="2137.2" x2="664.2" y2="2137.2" stroke="#000" stroke-width="1.8"/>
<line x1="715.8" y1="2177.5" x2="715.8" y2="2191.3" stroke="#000" stroke-width="1.8"/>
<line x1="705.5" y1="2177.5" x2="726.0" y2="2177.5" stroke="#000" stroke-width="1.8"/>
<line x1="705.5" y1="2191.3" x2="726.0" y2="2191.3" stroke="#000" stroke-width="1.8"/>
<line x1="777.4" y1="2149.8" x2="777.4" y2="2168.3" stroke="#000" stroke-width="1.8"/>
<line x1="767.1" y1="2149.8" x2="787.6" y2="2149.8" stroke="#000" stroke-width="1.8"/>
<line x1="767.1" y1="2168.3" x2="787.6" y2="2168.3" stroke="#000" stroke-width="1.8"/>
<line x1="562.1" y1="2063.8" x2="562.1" y2="2295.8" stroke="#000" stroke-width="1.6"/>
<line x1="556.1" y1="2295.0" x2="808.9" y2="2295.0" stroke="#000" stroke-width="1.6"/>
<line x1="556.1" y1="2295.0" x2="562.1" y2="2295.0" stroke="#000" stroke-width="1.6"/>
<text x="549.1" y="2301.0" font-size="20" text-anchor="end" fill="#000">0.0</text>
<line x1="556.1" y1="2237.4" x2="562.1" y2="2237.4" stroke="#000" stroke-width="1.6"/>
<text x="549.1" y="2243.4" font-size="20" text-anchor="end" fill="#000">0.5</text>
<line x1="556.1" y1="2179.8" x2="562.1" y2="2179.8" stroke="#000" stroke-width="1.6"/>
<text x="549.1" y="2185.8" font-size="20" text-anchor="end" fill="#000">1.0</text>
<line x1="556.1" y1="2122.2" x2="562.1" y2="2122.2" stroke="#000" stroke-width="1.6"/>
<text x="549.1" y="2128.2" font-size="20" text-anchor="end" fill="#000">1.5</text>
<line x1="556.1" y1="2064.6" x2="562.1" y2="2064.6" stroke="#000" stroke-width="1.6"/>
<text x="549.1" y="2070.6" font-size="20" text-anchor="end" fill="#000">2.0</text>
<line x1="592.4" y1="2295.0" x2="592.4" y2="2301.0" stroke="#000" stroke-width="1.6"/>
<text x="605.4" y="2314.0" font-size="20" text-anchor="end" fill="#000" transform="rotate(-45 605.4 2314.0)">Vehicle</text>
<line x1="654.0" y1="2295.0" x2="654.0" y2="2301.0" stroke="#000" stroke-width="1.6"/>
<text x="667.0" y="2314.0" font-size="20" text-anchor="end" fill="#000" transform="rotate(-45 667.0 2314.0)">TBMS1</text>
<line x1="715.8" y1="2295.0" x2="715.8" y2="2301.0" stroke="#000" stroke-width="1.6"/>
<text x="728.8" y="2314.0" font-size="20" text-anchor="end" fill="#000" transform="rotate(-45 728.8 2314.0)">Fer-1</text>
<line x1="777.4" y1="2295.0" x2="777.4" y2="2301.0" stroke="#000" stroke-width="1.6"/>
<text x="790.4" y="2314.0" font-size="20" text-anchor="end" fill="#000" transform="rotate(-45 790.4 2314.0)">TBMS1+Fer-1</text>
<line x1="582.0" y1="2075.9" x2="649.8" y2="2075.9" stroke="#000" stroke-width="2.6"/>
<text x="615.9" y="2073.4" font-size="20" text-anchor="middle" fill="#000">**</text>
<line x1="649.5" y1="2037.0" x2="773.8" y2="2037.0" stroke="#000" stroke-width="2.6"/>
<text x="711.6" y="2034.5" font-size="20" text-anchor="middle" fill="#000">*</text>
<text x="480.0" y="2187.0" font-size="20" text-anchor="middle" fill="#000" transform="rotate(-90 480.0 2187.0)">Relative Fe<tspan dy="-8" font-size="12">2+</tspan><tspan dy="8">/Fe</tspan><tspan dy="-8" font-size="12">3+</tspan><tspan dy="8"> ratio</tspan></text>
<text x="503.5" y="2187.0" font-size="20" text-anchor="middle" fill="#000" transform="rotate(-90 503.5 2187.0)">(compared pf si-NC)</text>
<defs><clipPath id="vc"><rect x="52.5" y="99.0" width="263.0" height="262.0"/></clipPath></defs>
<rect x="52.5" y="99.0" width="263.0" height="262.0" fill="#fff" stroke="none" stroke-width="0"/>
<line x1="52.5" y1="316.2" x2="315.5" y2="316.2" stroke="#ebebeb" stroke-width="1.6"/>
<line x1="52.5" y1="231.8" x2="315.5" y2="231.8" stroke="#ebebeb" stroke-width="1.6"/>
<line x1="52.5" y1="147.2" x2="315.5" y2="147.2" stroke="#ebebeb" stroke-width="1.6"/>
<line x1="83.6" y1="99.0" x2="83.6" y2="361.0" stroke="#ebebeb" stroke-width="1.6"/>
<line x1="150.1" y1="99.0" x2="150.1" y2="361.0" stroke="#ebebeb" stroke-width="1.6"/>
<line x1="216.6" y1="99.0" x2="216.6" y2="361.0" stroke="#ebebeb" stroke-width="1.6"/>
<line x1="283.1" y1="99.0" x2="283.1" y2="361.0" stroke="#ebebeb" stroke-width="1.6"/>
<line x1="52.5" y1="274.0" x2="315.5" y2="274.0" stroke="#ebebeb" stroke-width="3.2"/>
<line x1="52.5" y1="189.5" x2="315.5" y2="189.5" stroke="#ebebeb" stroke-width="3.2"/>
<line x1="52.5" y1="105.0" x2="315.5" y2="105.0" stroke="#ebebeb" stroke-width="3.2"/>
<line x1="116.8" y1="99.0" x2="116.8" y2="361.0" stroke="#ebebeb" stroke-width="3.2"/>
<line x1="183.3" y1="99.0" x2="183.3" y2="361.0" stroke="#ebebeb" stroke-width="3.2"/>
<line x1="249.8" y1="99.0" x2="249.8" y2="361.0" stroke="#ebebeb" stroke-width="3.2"/>
<path clip-path="url(#vc)" fill="none" stroke="#8cc6e3" stroke-width="4.4" stroke-linecap="round" d="M186.6 346.5h0M193.9 343.9h0M190.6 339.6h0M176.0 327.8h0M178.0 318.7h0M193.2 287.2h0M170.1 330.2h0M191.8 332.2h0M191.2 322.4h0M182.4 353.2h0M178.1 308.2h0M177.4 310.0h0M176.8 335.8h0M181.8 350.7h0M183.4 356.7h0M184.7 352.9h0M196.5 334.0h0M191.1 354.4h0M186.5 323.2h0M196.3 324.8h0M175.7 334.7h0M174.3 311.4h0M186.3 325.7h0M171.2 280.2h0M170.9 297.3h0M183.7 353.7h0M182.4 357.9h0M194.4 321.7h0M186.7 350.4h0M183.7 355.6h0M183.2 356.8h0M176.6 347.1h0M170.3 340.6h0M175.1 329.2h0M188.4 307.5h0M175.3 311.8h0M179.8 355.5h0M170.1 347.2h0M192.1 310.6h0M174.1 349.9h0M177.1 305.1h0M193.4 338.8h0M183.6 355.0h0M192.5 291.4h0M187.0 349.3h0M189.7 314.8h0M172.4 325.7h0M184.4 348.8h0M183.5 356.1h0M193.2 335.1h0M179.6 334.0h0M185.9 354.9h0M171.6 327.8h0M180.3 339.7h0M178.6 326.9h0M174.0 325.6h0M191.7 337.8h0M180.1 330.4h0M196.0 307.7h0M185.7 346.2h0M186.1 340.9h0M187.0 348.2h0M188.0 335.3h0M174.0 326.1h0M181.7 354.5h0M176.4 343.0h0M180.7 328.6h0M172.6 305.8h0M195.7 316.6h0M175.7 316.3h0M187.9 319.4h0M178.0 334.0h0M193.3 348.9h0M187.6 321.4h0M173.5 351.0h0M192.5 333.4h0M195.1 310.7h0M194.0 329.1h0M185.2 355.3h0M173.9 336.3h0M175.1 339.8h0M194.7 350.8h0M184.7 353.7h0M174.8 304.6h0M193.5 326.2h0M187.1 344.9h0M185.2 342.3h0M180.0 320.8h0M180.9 341.8h0M176.4 349.4h0M171.0 340.0h0M193.3 342.3h0M182.4 348.6h0M184.6 351.0h0M178.6 333.2h0M190.0 339.5h0M170.7 346.7h0M179.9 354.4h0M170.8 338.5h0M173.3 298.9h0M195.7 342.0h0M187.5 321.1h0M181.4 355.8h0M183.9 351.8h0M193.2 348.7h0M179.2 326.6h0M185.7 348.2h0M188.2 332.5h0M179.5 324.0h0M183.8 355.3h0M190.4 330.3h0M194.2 316.7h0M174.0 346.2h0M194.8 301.0h0M170.1 313.1h0M190.0 356.3h0M191.6 336.0h0M173.6 299.3h0M181.1 330.3h0M191.7 295.0h0M170.4 352.8h0M186.7 351.6h0M191.1 336.5h0M183.6 354.2h0M189.3 325.8h0M176.0 327.8h0M175.3 332.2h0M179.7 343.4h0M174.8 344.0h0M179.2 348.9h0M195.2 300.0h0M185.3 344.4h0M179.0 331.5h0M177.2 333.7h0M195.3 277.5h0M181.8 347.1h0M196.1 336.0h0M183.7 353.5h0M183.9 356.5h0M193.8 326.1h0M189.8 297.3h0M185.4 353.6h0M181.3 341.7h0M193.4 349.8h0M180.9 346.1h0M194.5 350.1h0M171.8 333.4h0M181.4 354.0h0M183.8 356.1h0M195.3 294.2h0M176.7 297.1h0M191.4 349.0h0M188.0 334.7h0M189.1 305.2h0M186.7 324.8h0M195.8 337.4h0M178.8 333.0h0M180.6 352.1h0M175.4 288.4h0M171.3 326.6h0M175.7 331.2h0M194.4 312.5h0M192.3 293.8h0M173.0 334.3h0M186.1 337.0h0M182.7 354.5h0M185.8 329.1h0M187.5 355.7h0M178.2 326.7h0M195.6 316.7h0M182.4 349.5h0M186.7 344.1h0M186.9 323.8h0M174.9 341.2h0M171.6 332.2h0M180.9 337.0h0M190.3 345.1h0M191.7 326.3h0M189.4 327.4h0M173.0 319.0h0M194.3 298.2h0M191.3 323.1h0M193.3 323.4h0M183.9 355.0h0M194.4 348.3h0M171.2 288.5h0M170.8 299.2h0M170.5 294.5h0M176.7 350.9h0M176.6 299.3h0M175.0 351.5h0M185.1 351.9h0M171.0 320.2h0M185.7 356.2h0M174.4 287.2h0M188.0 342.2h0M170.6 314.6h0M178.3 326.0h0M195.0 318.3h0M184.3 353.4h0M191.6 299.8h0M187.5 327.5h0M186.2 335.8h0M175.1 353.8h0M185.3 331.8h0M171.1 336.5h0M191.3 294.1h0M195.5 284.6h0M192.7 317.8h0M171.3 312.0h0M179.0 319.9h0M178.5 337.0h0M173.0 310.2h0M186.7 323.4h0M191.2 326.9h0M178.3 338.8h0M193.0 287.1h0M191.2 287.8h0M173.4 306.0h0M190.4 321.2h0M193.5 299.7h0M175.2 336.4h0M185.3 341.1h0M187.0 339.0h0M186.2 340.4h0M172.6 355.5h0M187.6 352.0h0M186.8 319.1h0M191.9 332.9h0M191.4 349.8h0M178.7 350.0h0M189.2 345.3h0M193.1 352.0h0M193.8 326.3h0M174.3 335.6h0M170.7 317.3h0M187.3 333.4h0M175.7 354.4h0M185.0 351.0h0M195.1 313.5h0M180.1 343.3h0M176.7 293.8h0M182.1 352.5h0M187.5 348.8h0M172.7 308.2h0M180.1 330.5h0M173.6 320.6h0M187.6 341.6h0M192.1 303.6h0M180.0 351.9h0M179.9 324.3h0M184.4 353.0h0M175.7 304.6h0M176.6 332.3h0M178.8 323.7h0M182.2 350.9h0M172.2 333.9h0M190.0 312.2h0M185.4 354.1h0M178.0 328.4h0M172.1 291.5h0M190.3 326.5h0M173.5 344.4h0M173.5 346.6h0M173.5 329.8h0M172.2 316.6h0M194.1 293.5h0M177.2 345.6h0M178.2 328.9h0M192.2 286.0h0M186.5 347.9h0M175.0 325.9h0M181.6 341.9h0M193.5 286.5h0M180.0 347.5h0M188.9 335.1h0M172.6 322.5h0M189.3 318.2h0M190.7 320.6h0M192.0 313.9h0M187.9 326.3h0M179.9 352.1h0M171.7 345.0h0M183.8 354.7h0M190.1 320.6h0M175.1 348.2h0M177.1 309.9h0M184.3 350.6h0M189.9 352.9h0M193.8 347.3h0M173.3 322.1h0M174.9 339.8h0M191.3 354.1h0M187.1 330.0h0M189.2 334.0h0M196.5 347.5h0M195.0 303.6h0M192.4 304.2h0M190.7 309.9h0M180.5 357.5h0M187.1 350.3h0M174.9 345.2h0M190.2 342.6h0M190.2 310.2h0M189.2 320.2h0M181.8 354.9h0M180.1 334.4h0M181.2 341.2h0M170.9 335.4h0M192.5 355.7h0M184.4 354.9h0M180.3 356.6h0M184.6 346.6h0M189.2 323.7h0M180.1 336.9h0M192.1 356.9h0M194.5 356.3h0M180.3 324.2h0M173.7 334.0h0M190.2 338.1h0M196.4 340.4h0M173.9 325.5h0M189.0 313.3h0M192.0 351.7h0M194.5 340.0h0M173.3 324.9h0M172.4 337.4h0M196.3 314.3h0M173.1 324.8h0M174.7 314.3h0M185.3 336.7h0M181.9 340.3h0M190.0 312.1h0M175.1 339.9h0M194.3 342.2h0M175.8 312.9h0M190.5 346.9h0M171.8 286.7h0M182.6 354.7h0M170.9 352.8h0M178.3 334.6h0M178.3 311.7h0M189.1 320.2h0M182.1 357.0h0M171.5 338.5h0M196.5 329.8h0M193.6 339.9h0M194.4 323.6h0M176.6 333.5h0M180.5 333.5h0M176.0 286.2h0M173.3 345.4h0M170.9 355.3h0M183.4 356.3h0M173.3 352.1h0M174.7 328.3h0M192.9 336.8h0M182.9 353.2h0M174.9 355.8h0M187.8 354.0h0M177.1 310.3h0M184.0 355.4h0M177.5 326.4h0M183.7 354.5h0M186.7 342.2h0M184.3 353.4h0M180.5 354.2h0M191.0 338.0h0M193.2 321.9h0M174.8 352.5h0M173.6 318.1h0M173.0 300.0h0M196.1 296.3h0M195.0 328.1h0M176.1 349.5h0M195.8 345.2h0M175.5 338.5h0M183.5 356.5h0M183.2 356.4h0M194.3 346.2h0M171.1 339.9h0M178.4 347.1h0M186.0 350.7h0M171.8 304.7h0M176.3 306.3h0M182.4 352.1h0M193.4 336.5h0M190.2 316.7h0M192.1 315.3h0M190.2 353.7h0M188.8 334.2h0M192.6 338.9h0M188.1 307.1h0M189.6 337.0h0M178.0 327.6h0M174.5 301.4h0M190.1 341.5h0M174.4 351.0h0M194.5 264.5h0M185.9 352.6h0M178.8 313.3h0M194.9 344.2h0M174.1 319.0h0M183.7 356.7h0M172.4 347.4h0M195.7 319.4h0M185.3 354.8h0M191.4 355.1h0M177.5 318.8h0M191.3 340.9h0M188.7 327.1h0M187.1 352.9h0M195.3 316.2h0M181.5 347.4h0M181.0 334.8h0M188.4 348.7h0M192.2 295.5h0M178.9 317.9h0M187.8 347.4h0M175.6 343.4h0M184.7 352.9h0M190.5 339.9h0M171.7 305.9h0M189.4 342.7h0M170.4 318.2h0M195.5 344.2h0M182.5 355.9h0M180.9 349.1h0M189.2 301.7h0M183.9 357.0h0M189.4 333.2h0M172.3 286.7h0M185.0 357.6h0M184.8 350.1h0M194.8 329.8h0M171.1 315.2h0M182.0 355.1h0M186.8 352.2h0M184.6 353.6h0M172.0 332.9h0M185.8 354.4h0M175.9 338.4h0M175.2 295.5h0M193.4 348.7h0M175.3 302.5h0M182.1 350.0h0M190.0 311.2h0M188.8 304.9h0M184.7 353.6h0M191.5 326.9h0M182.4 350.1h0M186.5 341.3h0M191.8 342.6h0M188.0 354.4h0M187.1 319.9h0M180.8 345.4h0M184.9 349.5h0M180.5 344.6h0M189.8 325.4h0M180.1 335.6h0M182.4 356.5h0M190.1 341.1h0M183.4 357.7h0M179.0 318.6h0M192.0 327.9h0M180.1 342.0h0M192.5 324.5h0M190.9 294.3h0M181.9 351.9h0M189.0 353.4h0M170.9 333.5h0M180.4 328.7h0M192.9 341.4h0M185.4 354.1h0M184.8 343.6h0M187.7 341.3h0M188.0 322.0h0M185.5 356.2h0M181.2 347.9h0M174.9 334.3h0M177.8 340.6h0M177.8 343.7h0M181.5 343.9h0M196.6 334.9h0M179.4 314.0h0M181.9 349.5h0M179.9 341.0h0M185.5 355.7h0M195.2 354.9h0M193.6 338.9h0M180.0 317.7h0M177.1 312.9h0M193.5 311.9h0M183.1 355.9h0M188.2 344.4h0M171.9 352.2h0M193.1 351.0h0M178.3 348.9h0M183.2 356.2h0M175.3 345.5h0M181.2 351.3h0M192.0 334.5h0M192.0 312.4h0M182.6 358.1h0M190.4 312.2h0M182.2 351.4h0M179.9 357.4h0M184.5 354.5h0M175.4 352.5h0M178.4 354.2h0M188.8 323.8h0M190.5 343.0h0M171.5 284.4h0M189.5 328.0h0M191.7 331.3h0M181.8 356.3h0M171.7 332.9h0M188.2 351.5h0M176.5 290.6h0M187.1 347.4h0M180.0 334.5h0M186.9 345.5h0M176.9 335.6h0M182.7 353.9h0M184.0 355.9h0M186.8 344.9h0M175.4 297.2h0M195.6 305.5h0M177.7 313.1h0M178.1 342.8h0M176.8 308.4h0M171.8 299.0h0M181.2 347.5h0M190.5 281.8h0M188.9 337.3h0M175.2 323.4h0M173.6 345.2h0M178.5 345.4h0M190.4 289.2h0M183.0 356.3h0M194.6 344.1h0M187.5 320.1h0M186.5 325.5h0M190.4 295.4h0M190.0 302.2h0M179.1 354.0h0M176.8 298.8h0M181.6 356.9h0M183.0 354.5h0M173.8 303.1h0M181.7 351.8h0M187.0 348.8h0M173.6 333.8h0M173.7 277.2h0M174.6 316.0h0M177.5 346.4h0M195.6 352.7h0M170.7 322.1h0M174.9 352.8h0M174.4 327.0h0M182.6 357.2h0M170.4 344.7h0M182.2 350.7h0M174.3 312.9h0M177.2 294.6h0M191.1 310.4h0M174.9 327.4h0M186.4 336.3h0M180.8 354.9h0M181.1 349.9h0M191.7 320.7h0M174.3 328.1h0M194.6 340.1h0M193.8 337.8h0M187.8 335.0h0M171.3 315.8h0M187.6 354.3h0M186.0 337.8h0M190.5 349.9h0M175.7 347.2h0M195.4 348.3h0M193.6 313.0h0M173.0 349.6h0M178.4 343.4h0M170.9 279.5h0M192.1 330.3h0M194.3 306.0h0M196.3 297.7h0M186.3 353.5h0M187.7 333.5h0M188.0 333.1h0M185.2 351.0h0M195.3 339.3h0M186.2 343.5h0M178.9 326.9h0M183.6 356.4h0M170.5 330.5h0M189.3 315.9h0M188.5 356.5h0M181.2 342.0h0M192.6 323.7h0M190.1 356.4h0M179.0 338.4h0M172.1 309.9h0M173.5 335.8h0M174.9 295.9h0M178.1 322.6h0M181.9 355.8h0M194.7 284.8h0M177.4 339.0h0M193.9 316.8h0M188.1 319.9h0M192.7 307.2h0M180.7 351.7h0M170.1 329.3h0M190.9 327.8h0M176.5 357.3h0M173.8 341.2h0M191.3 302.4h0M188.3 339.4h0M175.7 282.3h0M177.1 336.0h0M195.0 289.9h0M177.1 339.6h0M188.7 345.7h0M173.4 341.2h0M191.7 355.9h0M173.1 339.8h0M183.7 356.3h0M170.9 305.1h0M184.6 358.0h0M192.5 344.3h0M172.2 294.1h0M177.3 329.8h0M190.3 331.0h0M186.2 329.1h0M178.3 352.9h0M186.7 348.3h0M182.1 352.8h0M192.9 315.6h0M177.8 304.1h0M190.2 333.5h0M186.9 329.1h0M189.7 315.7h0M180.1 318.6h0M189.3 339.0h0M188.6 332.7h0M180.3 340.5h0M170.7 347.1h0M195.6 287.2h0M189.0 341.5h0M175.4 352.0h0M189.4 329.1h0M177.4 351.6h0M182.5 357.5h0M192.9 315.4h0M181.9 352.9h0M177.7 315.3h0M178.1 328.8h0M172.0 334.2h0M175.8 311.9h0M177.2 299.4h0M174.6 351.6h0M171.7 320.1h0M182.4 356.3h0M175.7 291.0h0M189.7 325.4h0M194.5 329.9h0M177.3 344.6h0M185.2 351.4h0M183.5 354.7h0M172.0 342.0h0M173.3 341.1h0M193.5 311.9h0M182.6 355.8h0M191.4 288.5h0M171.8 352.6h0M185.8 341.1h0M193.0 282.3h0M193.1 304.9h0M170.2 316.7h0M183.9 354.9h0M179.8 315.9h0M190.2 353.4h0M171.9 341.5h0M177.0 343.3h0M191.6 331.4h0M182.5 352.6h0M182.1 342.4h0M195.8 309.7h0M178.5 352.8h0M171.1 342.9h0M180.4 324.0h0M174.1 326.5h0M172.2 339.2h0M185.1 345.3h0M195.4 308.6h0M185.4 337.6h0M187.2 349.0h0M178.6 330.8h0M185.2 343.3h0M190.0 322.3h0M185.7 356.1h0M191.4 317.5h0M184.6 350.5h0M175.3 300.0h0M185.5 344.4h0M183.1 357.8h0M174.4 322.8h0M186.5 339.4h0M191.7 346.4h0M173.6 308.2h0M184.5 355.9h0M189.5 354.3h0M180.7 342.7h0M177.2 354.5h0M179.9 321.1h0M184.4 352.5h0M188.3 348.3h0M184.9 348.3h0M172.8 342.3h0M191.8 309.0h0M194.6 341.6h0M172.7 331.9h0M176.6 355.3h0M174.6 338.5h0M192.6 293.0h0M194.2 350.3h0M171.2 335.9h0M178.8 324.1h0M175.1 283.1h0M182.5 355.2h0M194.5 311.8h0M171.9 350.9h0M174.6 338.1h0M183.0 356.0h0M183.9 352.2h0M189.8 297.8h0M181.6 350.5h0M173.8 349.7h0M179.4 355.7h0M196.1 329.9h0M190.0 349.5h0M173.1 355.2h0M191.5 309.6h0M178.3 350.5h0M190.8 331.3h0M170.3 283.4h0M193.2 309.0h0M174.3 356.4h0M182.1 353.6h0M187.6 334.0h0M183.5 356.9h0M174.4 298.1h0M173.7 342.8h0M177.6 312.7h0M171.4 290.0h0M175.8 343.9h0M173.5 307.1h0M182.4 355.6h0M179.5 329.5h0M185.6 339.7h0M177.5 334.9h0M170.9 284.9h0M178.8 318.6h0M190.1 352.7h0M176.8 344.9h0M180.8 336.8h0M190.1 338.6h0M180.8 338.8h0M193.6 291.5h0M194.4 341.7h0M178.3 351.3h0M189.6 317.5h0M176.7 296.8h0M173.7 315.4h0M181.6 349.0h0M186.0 353.1h0M194.9 286.1h0M173.9 313.2h0M188.9 296.5h0M182.6 354.0h0M173.5 311.0h0M195.9 316.8h0M188.5 345.4h0M173.4 356.6h0M194.1 279.1h0M172.7 314.2h0M172.5 336.4h0M178.8 329.6h0M194.9 345.8h0M170.9 356.2h0M194.4 347.4h0M186.3 353.6h0M171.8 286.5h0M185.1 357.3h0M182.2 352.5h0M185.0 343.7h0M189.6 328.1h0M188.1 351.4h0M196.5 327.9h0M174.2 311.2h0M191.6 327.1h0M180.9 355.4h0M190.8 350.4h0M193.7 335.9h0M196.4 270.0h0M177.1 310.7h0M182.0 342.6h0M195.1 273.2h0M195.2 350.0h0M179.9 341.4h0M195.0 306.1h0M180.8 344.6h0M180.0 353.0h0M190.1 329.4h0M182.5 350.8h0M181.9 346.0h0M180.3 344.0h0M181.5 352.3h0M173.7 336.7h0M171.6 341.3h0M190.1 339.1h0M185.0 356.2h0M187.9 312.5h0M191.3 306.8h0M176.1 340.6h0M176.2 309.6h0M177.4 353.6h0M178.1 319.3h0M190.2 344.2h0M180.0 311.8h0M178.6 338.9h0M186.9 349.9h0M175.0 322.2h0M172.8 311.9h0M188.5 345.4h0M190.1 332.3h0M177.9 291.1h0M186.9 311.5h0M170.9 296.1h0M180.8 338.7h0M185.4 353.5h0M176.7 308.4h0M179.3 328.5h0M186.2 345.8h0M185.7 339.8h0M174.1 276.7h0M188.8 321.0h0M172.1 292.1h0M195.8 348.7h0M175.4 338.6h0M176.7 348.0h0M175.3 307.1h0M196.4 307.5h0M177.6 306.4h0M186.1 342.9h0M196.4 344.9h0M195.3 283.7h0M171.1 327.8h0M183.9 356.7h0M186.0 337.2h0M188.7 323.8h0M178.9 321.1h0M178.7 313.9h0M170.1 306.1h0M170.9 300.5h0M184.6 355.8h0M172.0 336.8h0M175.4 333.1h0M178.9 342.8h0M171.9 318.3h0M170.8 317.3h0M194.7 313.0h0M181.6 341.2h0M175.4 346.5h0M188.8 347.7h0M170.3 309.5h0M176.5 350.4h0M195.6 350.0h0M193.9 349.5h0M186.9 326.8h0M172.5 306.9h0M178.5 298.1h0M170.7 303.8h0M175.8 294.5h0M170.7 268.6h0M173.4 299.6h0M186.8 347.3h0M172.7 352.1h0M174.1 301.1h0M194.0 304.3h0M178.9 349.4h0M178.9 348.1h0M172.3 312.5h0M191.2 322.4h0M188.0 338.6h0M184.6 357.8h0M186.4 352.0h0M172.7 283.0h0M176.9 308.5h0M185.5 345.0h0M195.3 302.8h0M191.7 303.2h0M187.0 323.9h0M183.8 353.3h0M170.4 265.9h0M193.7 324.1h0M171.8 341.9h0M173.4 345.5h0M188.4 293.7h0M191.6 352.3h0M190.9 351.7h0M182.0 353.1h0M174.7 314.4h0M170.9 285.6h0M192.6 350.3h0M196.0 348.4h0M176.5 319.6h0M193.0 324.7h0M180.7 356.8h0M178.3 351.3h0M183.4 355.5h0M170.2 299.2h0M181.8 341.1h0M175.3 327.9h0M189.0 338.8h0M183.4 356.5h0M193.1 334.7h0M193.9 272.3h0M178.4 320.6h0M177.5 319.3h0M195.0 336.0h0M183.4 355.8h0M172.6 317.3h0M171.2 335.2h0M196.3 352.8h0M185.4 352.1h0M171.4 273.5h0M183.6 357.1h0M183.4 358.2h0M181.6 352.1h0M195.3 354.2h0M195.2 335.9h0M173.3 308.7h0M174.0 316.0h0M180.8 353.9h0M192.2 345.6h0M186.6 337.8h0M189.4 310.1h0M185.3 351.9h0M175.6 324.4h0M191.8 307.2h0M170.4 340.7h0M188.6 330.4h0M175.2 330.6h0M182.5 350.7h0M195.9 286.6h0M184.3 347.6h0M171.5 355.1h0M181.4 347.5h0M187.6 343.8h0M171.5 336.4h0M176.7 331.1h0M170.5 283.8h0M184.4 351.5h0M180.1 336.9h0M183.4 355.4h0M177.9 303.8h0M187.5 331.9h0M174.6 300.7h0M194.1 324.1h0M195.5 338.8h0M183.1 357.0h0M182.4 354.4h0M192.9 297.2h0M177.7 323.0h0M191.4 319.6h0M177.6 319.0h0M189.2 333.6h0M178.9 335.7h0M186.0 348.4h0M194.6 347.7h0M171.4 337.9h0M191.5 335.8h0M184.4 354.4h0M180.1 357.1h0M179.3 355.5h0M171.8 353.6h0M176.9 341.5h0M186.6 337.5h0M172.6 313.4h0M187.8 343.3h0M195.6 332.3h0M196.1 288.6h0M193.7 313.5h0M191.5 331.2h0M174.7 350.4h0M195.8 356.5h0M175.4 339.7h0M193.1 348.2h0M193.4 348.7h0M186.5 347.5h0M183.9 353.1h0M175.3 305.1h0M183.8 355.1h0M177.7 293.9h0M173.3 341.0h0M173.4 319.9h0M191.3 316.5h0M194.5 352.7h0M173.8 338.0h0M170.4 335.8h0M177.0 346.0h0M173.6 338.9h0M175.0 318.2h0M185.5 350.2h0M181.2 354.6h0M181.4 345.6h0M175.5 322.1h0M187.7 339.7h0M177.7 325.9h0M180.6 345.6h0M182.3 351.1h0M194.1 347.6h0M176.6 339.0h0M189.1 342.6h0M178.2 311.3h0M193.8 352.6h0M180.5 341.5h0M183.4 357.2h0M193.3 348.4h0M187.9 321.3h0M172.5 305.8h0M173.6 344.8h0M196.4 347.2h0M170.8 343.3h0M178.0 315.6h0M195.5 347.9h0M170.4 332.1h0M174.3 337.6h0M175.7 338.3h0M172.3 320.0h0M182.6 356.7h0M185.8 351.0h0M178.5 325.4h0M172.9 333.7h0M191.6 342.9h0M191.4 325.8h0M185.0 337.2h0M173.7 275.5h0M184.4 353.8h0M186.7 326.0h0M181.4 355.5h0M193.0 356.4h0M180.4 330.4h0M183.6 356.5h0M173.0 279.5h0M185.0 353.8h0M190.4 345.9h0M189.5 308.2h0M176.8 345.8h0M196.4 310.5h0M189.2 334.4h0M181.3 349.8h0M181.0 351.8h0M190.7 354.0h0M174.7 304.0h0M187.0 350.5h0M189.1 312.7h0M183.7 356.6h0M193.2 335.3h0M182.5 355.7h0M182.4 352.0h0M177.6 350.9h0M194.5 303.6h0M178.4 351.0h0M188.5 349.3h0M180.9 348.6h0M194.9 320.4h0M195.2 313.6h0M170.8 302.2h0M196.5 296.7h0M186.1 343.3h0M172.0 315.4h0M183.2 357.9h0M171.3 346.6h0M184.6 353.3h0M174.9 337.4h0M179.8 323.8h0M178.1 338.6h0M186.0 353.8h0M191.9 336.4h0M194.9 270.7h0M178.7 321.0h0M185.2 353.1h0M170.2 305.9h0M179.9 334.3h0M195.6 346.3h0M173.2 356.1h0M193.1 344.4h0M187.4 319.3h0M177.8 299.7h0M190.7 300.1h0M177.7 321.6h0M193.8 307.8h0M172.2 319.1h0M173.2 354.6h0M190.0 354.5h0M181.9 340.9h0M173.9 317.3h0M183.7 353.9h0M177.9 338.6h0M184.6 352.6h0M189.8 280.4h0M192.8 273.0h0M171.6 343.6h0M185.8 334.2h0M196.2 317.6h0M182.2 352.3h0M190.5 319.9h0M172.6 343.6h0M193.2 288.7h0M185.5 347.4h0M193.6 338.6h0M190.9 319.6h0M193.1 329.1h0M171.5 357.0h0M189.0 335.8h0M175.2 325.2h0M177.1 321.1h0M178.6 349.7h0M185.7 344.4h0M186.7 337.0h0M194.8 288.7h0M170.3 354.4h0M175.1 321.0h0M179.6 339.5h0M191.8 319.0h0M184.6 350.9h0M183.6 356.1h0M190.2 296.9h0M187.4 307.2h0M177.7 341.9h0M172.3 332.4h0M182.3 354.8h0M193.4 284.8h0M185.9 356.0h0M171.4 321.6h0M181.7 347.1h0M180.2 327.2h0M185.5 348.8h0M185.6 356.3h0M195.3 298.5h0M179.0 326.6h0M180.9 337.1h0M186.3 352.5h0M193.6 331.5h0M188.8 308.2h0M182.5 347.7h0M191.7 326.7h0M182.9 355.0h0M195.6 326.0h0M177.5 318.3h0M173.4 326.2h0M192.1 334.3h0M177.9 343.3h0M192.5 310.0h0M186.2 341.3h0M183.5 357.9h0M172.3 315.1h0M190.9 335.8h0M171.8 304.4h0M195.7 282.5h0M193.3 326.9h0M178.1 338.0h0M173.4 326.4h0M193.6 292.4h0M182.8 356.7h0M173.3 320.8h0M183.3 356.9h0M176.6 301.9h0M180.8 328.5h0M187.0 333.3h0M194.3 303.0h0M191.3 356.7h0M174.3 307.3h0M182.7 353.7h0M183.1 355.6h0M196.3 351.3h0M172.3 309.4h0M183.6 356.3h0M194.3 343.1h0M180.6 346.0h0M177.0 333.6h0M184.8 346.9h0M178.5 346.9h0M194.7 309.7h0M172.3 288.0h0M175.5 308.9h0M172.2 346.0h0M188.9 320.9h0M177.8 306.6h0M193.9 312.7h0M193.8 335.7h0M194.9 344.4h0M176.8 354.6h0M170.0 328.5h0M180.3 354.2h0M195.6 337.6h0M190.3 333.0h0M171.6 321.3h0M188.7 353.4h0M194.4 297.8h0M195.7 342.0h0M189.0 342.5h0M193.0 301.2h0M192.4 334.4h0M179.5 314.5h0M172.6 308.1h0M189.4 349.4h0M173.6 351.8h0M180.2 346.1h0M196.5 333.5h0M184.9 356.0h0M183.9 355.5h0M195.2 326.7h0M177.6 332.0h0M196.6 335.5h0M194.3 312.4h0M179.7 345.2h0M178.7 328.9h0M173.4 297.8h0M194.4 315.1h0M174.9 344.3h0M170.2 340.2h0M193.7 333.7h0M185.9 338.1h0M187.9 315.3h0M189.5 342.5h0M171.1 285.5h0M172.4 340.0h0M183.3 358.3h0M171.3 281.7h0M183.4 355.5h0M189.6 305.3h0M187.5 312.9h0M186.4 340.6h0M171.2 349.2h0M176.3 306.2h0M193.9 321.4h0M173.3 353.0h0M184.2 349.5h0M171.3 353.1h0M195.0 299.8h0M174.6 347.0h0M180.9 345.5h0M184.5 348.3h0M189.1 288.0h0M194.9 324.3h0M189.6 317.4h0M179.2 343.5h0M172.0 356.9h0M188.8 327.6h0M195.9 324.9h0M170.5 317.6h0M190.6 338.2h0M174.7 327.0h0M182.2 346.7h0M183.9 355.1h0M186.3 355.7h0M196.3 341.5h0M188.3 346.7h0M180.4 321.9h0M189.0 336.3h0M182.4 355.2h0M181.0 333.2h0M179.7 343.0h0M183.1 358.0h0M177.5 341.1h0M176.4 338.3h0M173.9 335.2h0M181.7 349.5h0M177.8 305.7h0M192.3 299.7h0M192.6 332.3h0M179.1 318.0h0M186.5 324.6h0M194.0 332.5h0M179.6 343.5h0M184.8 356.1h0M181.8 350.8h0M187.3 338.6h0M195.5 323.2h0M173.7 335.4h0M195.7 318.0h0M187.7 352.6h0M191.2 347.5h0M186.9 350.4h0M193.2 329.5h0M178.7 355.2h0M188.8 340.0h0M177.0 320.0h0M183.5 356.4h0M188.1 352.9h0M175.3 317.6h0M171.6 341.7h0M191.0 349.1h0M191.5 336.4h0M187.7 316.9h0M178.6 337.8h0M187.5 316.5h0M172.2 322.9h0M187.6 322.5h0M185.3 336.7h0M186.4 326.7h0M181.9 351.6h0M176.0 280.8h0M189.3 306.5h0M182.3 351.5h0M189.8 334.0h0M179.7 338.6h0M172.3 301.8h0M184.4 349.7h0M186.6 343.1h0M194.5 321.5h0M193.6 307.1h0M171.5 341.0h0M190.5 286.5h0M177.0 349.4h0M188.5 320.1h0M180.1 331.8h0M178.6 325.1h0M183.0 355.3h0M184.1 351.5h0M188.5 315.6h0M187.0 323.4h0M188.0 306.8h0M180.2 317.0h0M188.0 328.4h0M179.2 351.9h0M186.2 356.6h0M182.2 351.2h0M185.0 349.8h0M170.5 276.5h0M183.3 356.1h0M175.9 315.4h0M180.3 325.9h0M172.0 340.4h0M187.5 354.3h0M193.8 326.0h0M179.4 326.3h0M172.8 342.8h0M186.5 338.5h0M173.4 317.7h0M193.7 353.4h0M173.3 349.3h0M179.6 349.9h0M183.2 356.3h0M173.1 335.5h0M178.5 304.7h0M177.3 343.5h0M189.0 340.6h0M196.2 342.0h0M179.7 321.0h0M191.0 327.8h0M173.7 341.2h0M185.4 339.4h0M181.5 351.2h0M177.7 297.3h0M191.9 342.5h0M189.9 317.3h0M173.6 293.4h0M177.8 322.5h0M191.8 348.5h0M196.4 347.1h0M186.3 334.1h0M193.2 305.9h0M196.2 356.7h0M189.7 342.7h0M187.1 344.8h0M175.9 310.6h0M179.9 349.7h0M186.6 335.7h0M194.6 335.6h0M178.0 304.8h0M180.5 337.1h0M170.6 301.2h0M188.5 326.6h0M181.8 349.5h0M191.2 336.8h0M176.2 325.4h0M187.5 312.1h0M187.9 325.1h0M182.4 353.1h0M175.0 350.9h0M180.7 342.1h0M189.8 320.4h0M175.0 303.4h0M172.4 285.3h0M182.3 355.4h0M176.2 318.5h0M191.3 354.9h0M191.7 351.2h0M195.1 310.3h0M192.3 324.6h0M187.2 335.7h0M175.0 352.3h0M191.9 328.0h0M189.4 284.6h0M189.9 315.6h0M188.6 348.4h0M192.1 312.4h0M177.9 348.5h0M187.9 322.6h0M183.8 355.4h0M179.0 345.8h0M178.7 312.6h0M174.1 334.8h0M183.1 355.4h0M179.8 330.7h0M181.2 352.8h0M192.7 326.5h0M188.1 336.4h0M188.1 324.2h0M196.2 318.1h0M175.8 318.3h0M183.5 356.5h0M172.5 344.2h0M180.4 333.7h0M195.3 347.4h0M172.3 305.6h0M190.2 343.4h0M193.0 337.7h0M183.5 355.8h0M191.2 329.9h0M181.7 356.0h0M179.4 336.8h0M183.5 356.9h0M175.2 321.5h0M178.2 319.5h0M178.1 356.5h0M196.3 301.4h0M178.9 335.9h0M176.1 310.0h0M195.0 284.6h0M173.7 334.1h0M195.7 312.8h0M192.7 354.2h0M187.2 326.0h0M181.4 353.4h0M175.2 329.7h0M172.8 287.7h0M172.8 286.8h0M179.3 350.6h0M180.8 355.9h0M194.6 333.9h0M184.3 354.7h0M196.4 326.2h0M189.2 328.1h0M173.9 296.2h0M184.7 346.9h0M174.2 344.2h0M171.0 294.0h0M195.1 328.5h0M179.0 345.0h0M175.0 318.3h0M172.7 284.1h0M187.3 317.7h0M182.3 351.1h0M170.3 299.4h0M189.0 346.0h0M176.8 345.6h0M190.8 323.5h0M183.0 354.8h0M184.2 352.4h0M182.2 347.8h0M188.0 325.9h0M196.3 317.1h0M191.2 353.7h0M171.8 355.6h0M183.2 356.0h0M176.2 310.6h0M172.7 331.4h0M175.2 329.9h0M176.6 354.9h0M195.5 349.3h0M189.8 336.2h0M192.7 348.9h0M188.6 326.4h0M178.4 353.0h0M180.4 337.6h0M181.7 354.4h0M177.8 324.8h0M181.2 348.2h0M190.5 335.3h0M172.0 299.0h0M177.4 336.6h0M182.7 356.4h0M188.0 298.4h0M187.2 355.4h0M189.3 342.4h0M172.8 337.9h0M174.8 323.9h0M178.2 311.4h0M177.5 338.6h0M190.1 355.4h0M196.4 345.4h0M188.2 343.9h0M170.9 328.4h0M177.9 303.6h0M191.4 355.2h0M194.6 347.1h0M185.8 344.5h0M179.3 340.0h0M179.4 346.9h0M186.8 348.1h0M193.0 304.2h0M179.1 339.4h0M175.1 311.2h0M170.1 314.9h0M173.7 355.1h0M192.6 289.2h0M186.6 345.5h0M196.4 317.4h0M171.8 331.1h0M179.7 355.6h0M191.2 349.0h0M187.6 329.0h0M171.8 291.1h0M180.7 332.9h0M187.0 329.9h0M188.3 353.7h0M182.0 348.3h0M175.0 306.3h0M195.7 326.5h0M182.4 355.6h0M189.1 322.9h0M184.2 356.8h0M172.1 274.8h0M176.3 341.3h0M171.7 327.5h0M175.1 280.6h0M175.3 311.4h0M181.0 350.4h0M178.6 336.2h0M179.6 336.6h0M191.7 307.3h0M170.6 347.5h0M172.8 296.2h0M191.5 299.1h0M184.2 356.4h0M181.7 355.2h0M177.1 314.3h0M184.4 355.8h0M175.9 326.0h0M192.8 315.0h0M191.9 313.0h0M178.6 322.4h0M170.7 338.1h0M193.6 295.1h0M177.9 353.8h0M187.5 355.0h0M192.8 328.8h0M191.2 309.3h0M192.9 338.5h0M183.0 354.1h0M192.4 331.8h0M182.3 350.6h0M177.0 354.8h0M182.8 355.6h0M178.9 336.4h0M190.4 348.7h0M192.1 314.8h0M173.8 347.9h0M174.4 303.6h0M180.2 348.4h0M182.3 353.2h0M195.4 312.6h0M195.0 329.4h0M195.7 320.9h0M189.4 328.4h0M188.0 331.0h0M177.2 354.1h0M179.9 354.3h0M170.1 311.1h0M192.2 280.7h0M177.3 343.9h0M172.1 305.7h0M178.4 351.1h0M178.6 354.6h0M189.3 286.0h0M170.2 345.9h0M176.1 298.1h0M193.8 338.7h0M192.7 348.4h0M186.7 347.9h0M184.9 351.5h0M175.9 327.8h0M193.3 324.1h0M190.2 356.5h0M183.6 354.1h0M174.3 286.0h0M175.7 343.8h0M180.1 352.0h0M178.8 343.5h0M171.6 282.0h0M180.8 347.9h0M181.9 352.8h0M177.6 299.3h0M180.2 334.8h0M178.8 297.0h0M180.0 342.3h0M186.5 330.1h0M183.2 356.3h0M175.3 311.1h0M191.2 332.7h0M183.7 357.2h0M182.2 348.3h0M189.0 331.3h0M190.0 335.1h0M192.6 303.8h0M191.6 286.0h0M187.8 343.9h0M189.2 315.7h0M174.2 337.6h0M188.6 331.7h0M176.8 309.6h0M176.9 292.7h0M173.2 336.1h0M180.6 346.0h0M170.5 338.7h0M187.5 334.7h0M189.9 285.6h0M190.6 328.3h0M173.4 303.0h0M187.1 314.2h0M192.3 309.4h0M171.0 286.6h0M175.1 296.1h0M177.1 311.1h0M182.3 355.3h0M174.6 304.4h0M184.3 351.2h0M179.1 323.5h0M187.4 312.7h0M184.1 356.1h0M188.3 349.0h0M176.6 345.9h0M188.8 343.6h0M189.5 346.5h0M189.2 339.7h0M171.8 316.3h0M195.2 294.7h0M185.3 340.0h0M177.2 350.3h0M181.5 348.1h0M183.8 355.6h0M183.8 354.9h0M176.6 342.0h0M177.0 311.0h0M179.7 318.8h0M190.8 336.6h0M181.6 352.6h0M171.0 353.8h0M182.0 351.1h0M175.4 339.1h0M170.3 327.7h0M196.0 300.7h0M177.8 349.1h0M184.3 343.0h0M179.5 339.2h0M171.4 319.3h0M194.0 350.1h0M194.9 312.6h0M175.0 355.6h0M181.1 348.8h0M179.9 350.8h0M174.4 335.3h0M187.6 329.1h0M190.8 354.5h0M190.2 331.3h0M188.0 311.4h0M170.5 346.5h0M176.1 320.6h0M183.7 353.5h0M188.7 352.0h0M180.3 332.3h0M182.0 351.8h0M192.4 288.6h0M170.6 305.5h0M177.1 326.6h0M177.7 318.4h0M196.4 277.5h0M176.1 348.1h0M171.3 301.6h0M181.1 344.8h0M187.3 352.2h0M174.1 343.1h0M192.3 335.6h0M175.2 315.1h0M188.7 334.9h0M174.3 301.9h0M193.5 332.6h0M175.4 301.6h0M189.5 354.2h0M192.3 354.5h0M176.8 335.7h0M172.5 284.5h0M185.6 353.8h0M183.3 358.0h0M182.7 354.7h0M190.8 327.8h0M182.3 353.9h0M183.2 356.0h0M183.0 355.6h0M182.1 352.2h0M180.8 353.7h0M174.3 312.0h0M177.9 355.0h0M177.0 341.9h0M176.6 305.4h0M190.8 283.0h0M173.0 330.8h0M175.5 322.4h0M184.0 353.0h0M178.3 299.0h0M176.4 354.2h0M179.9 352.6h0M183.4 356.3h0M187.9 320.2h0M195.9 336.8h0M192.7 286.0h0M181.4 338.8h0M182.0 347.8h0M181.1 352.0h0M176.4 307.5h0M195.3 283.9h0M171.8 327.5h0M175.5 348.1h0M187.6 337.1h0M185.7 342.3h0M177.4 355.2h0M194.9 357.2h0M180.9 343.2h0M185.9 341.5h0M172.4 301.2h0M193.7 312.2h0M172.7 322.1h0M180.5 349.6h0M193.6 301.6h0M195.1 332.8h0M194.0 318.9h0M192.0 310.2h0M176.2 350.4h0M170.8 353.0h0M182.0 345.5h0M171.7 332.6h0M195.6 340.8h0M170.2 315.5h0M178.7 331.3h0M175.4 349.9h0M170.4 328.4h0M183.3 356.1h0M172.0 331.5h0M193.9 326.7h0M188.3 340.0h0M179.8 350.4h0M192.4 274.4h0M191.2 351.6h0M178.7 329.4h0M192.5 335.0h0M194.7 313.9h0M186.5 338.9h0M179.4 345.3h0M194.0 284.8h0M195.1 307.8h0M179.2 344.1h0M172.3 280.5h0M193.1 355.5h0M187.7 329.2h0M176.2 311.4h0M185.1 351.1h0M178.2 333.1h0M194.5 343.5h0M179.1 347.6h0M175.2 336.4h0M171.1 291.5h0M179.1 343.0h0M196.3 318.8h0M175.8 355.7h0M182.2 353.0h0M195.9 333.4h0M170.2 352.0h0M177.8 348.8h0M191.8 296.0h0M172.5 343.8h0M194.7 307.2h0M192.2 332.9h0M173.8 293.0h0M185.8 338.8h0M184.8 357.7h0M188.5 348.4h0M178.2 305.5h0M180.2 343.5h0M176.4 351.5h0M177.8 298.9h0M174.7 341.7h0M194.1 318.8h0M193.6 300.2h0M179.6 328.5h0M188.4 334.3h0M183.0 354.6h0M177.5 303.9h0M179.3 349.8h0M195.7 313.2h0M179.1 348.6h0M185.4 349.8h0M195.1 302.1h0M177.9 332.9h0M191.5 324.5h0M173.0 351.2h0M189.5 346.7h0M191.5 324.4h0M192.3 311.7h0M195.9 297.8h0M188.9 334.9h0M196.0 328.7h0M177.4 350.1h0M183.9 355.1h0M175.7 311.1h0M172.2 312.7h0M181.7 349.6h0M189.1 349.0h0M190.7 334.4h0M170.5 314.5h0M195.1 332.2h0M176.6 314.3h0M177.8 322.6h0M192.1 318.5h0M193.8 279.9h0M189.6 347.1h0M178.9 334.9h0M182.3 353.0h0M192.2 326.0h0M179.5 313.7h0M191.4 310.7h0M190.8 336.4h0M182.5 355.3h0M193.8 335.3h0M180.2 330.6h0M189.9 347.6h0M187.0 344.1h0M178.8 341.1h0M184.1 353.8h0M186.1 336.9h0M184.3 346.8h0M172.9 342.7h0M196.4 291.0h0M195.7 327.2h0M171.0 281.2h0M195.1 278.3h0M184.1 349.5h0M173.3 346.7h0M191.8 341.1h0M181.5 342.7h0M189.0 351.6h0M192.0 299.7h0M184.3 351.4h0M171.3 343.8h0M191.9 328.4h0M188.5 312.5h0M194.2 319.2h0M177.2 349.5h0M190.9 287.3h0M193.2 278.4h0M179.4 348.1h0M180.9 350.1h0M178.9 335.4h0M170.2 343.0h0M176.2 348.2h0M178.8 307.4h0M172.9 322.7h0M190.4 345.9h0M181.4 353.6h0M185.1 341.2h0M177.6 308.1h0M179.6 352.1h0M190.0 343.6h0M182.5 358.2h0M185.9 349.1h0M181.2 333.4h0M184.8 355.4h0M193.9 354.1h0M177.1 303.6h0M183.8 352.0h0M188.3 346.9h0M172.3 311.0h0M195.6 287.7h0M183.3 356.0h0M176.5 326.7h0M190.2 308.0h0M191.7 290.8h0M186.8 332.2h0M194.4 320.5h0M172.4 321.0h0M184.0 354.1h0M189.8 309.0h0M194.4 282.5h0M187.1 332.7h0M186.0 350.0h0M180.3 319.6h0M185.2 353.4h0M184.8 353.5h0M194.1 305.4h0M192.0 331.4h0M189.6 322.8h0M194.6 351.4h0M171.8 311.4h0M190.5 334.2h0M182.3 344.7h0M190.0 321.4h0M177.9 321.2h0M182.4 351.5h0M191.9 305.5h0M170.9 279.7h0M177.7 313.4h0M183.0 356.8h0M192.6 304.3h0M177.2 348.6h0M191.9 326.2h0M176.5 323.3h0M178.1 303.9h0M184.7 344.0h0M187.4 334.6h0M193.4 303.8h0M193.4 344.1h0M176.7 334.2h0M189.8 305.1h0M186.9 337.2h0M180.3 352.6h0M190.6 354.0h0M193.9 332.8h0M182.7 355.3h0M194.4 351.2h0M173.4 342.6h0M174.4 350.5h0M190.3 300.5h0M178.1 335.9h0M185.6 351.7h0M183.2 356.6h0M173.9 290.2h0M190.1 352.1h0M189.7 330.4h0M173.9 352.9h0M176.9 315.7h0M191.3 285.4h0M194.3 310.6h0M193.1 284.6h0M183.3 357.0h0M179.8 353.9h0M181.8 347.2h0M174.7 333.0h0M183.2 356.7h0M176.1 304.8h0M174.3 300.2h0M180.1 353.4h0M171.7 319.9h0M182.5 353.8h0M188.5 330.0h0M187.3 345.0h0M195.9 342.1h0M193.6 325.3h0M186.9 322.3h0M193.9 335.9h0M181.8 347.7h0M191.3 345.9h0M177.6 300.7h0M184.0 354.9h0M196.1 321.5h0M185.9 342.7h0M183.5 357.6h0M190.9 311.5h0M178.3 322.7h0M192.1 331.9h0M170.5 334.8h0M176.3 353.5h0M174.7 311.0h0M176.8 323.7h0M195.2 304.0h0M170.6 290.8h0M177.9 330.5h0M185.3 340.9h0M188.7 325.4h0M190.6 316.7h0M180.2 343.0h0M175.9 335.2h0M192.7 354.7h0M173.2 286.8h0M171.7 315.5h0M176.2 332.1h0M183.1 355.5h0M195.1 270.1h0M189.4 328.7h0M185.0 349.5h0M183.9 356.1h0M188.4 324.7h0M186.7 340.3h0M178.9 347.9h0M172.5 322.6h0M175.3 319.5h0M190.8 339.1h0M186.9 319.5h0M191.2 350.2h0M171.2 352.9h0M194.0 299.7h0M180.2 327.1h0M194.6 349.4h0M185.8 341.3h0M184.6 349.8h0M191.8 323.9h0M186.6 351.8h0M187.9 343.3h0M174.2 350.7h0M186.1 355.5h0M179.5 329.2h0M172.0 338.1h0M173.5 271.2h0M182.8 354.7h0M177.0 324.6h0M190.4 322.3h0M173.3 332.5h0M170.4 320.5h0M196.5 306.8h0M178.3 333.6h0M183.6 356.7h0M175.6 345.7h0M175.6 352.1h0M180.7 356.6h0M191.0 348.9h0M171.0 325.1h0M192.3 320.1h0M196.3 335.1h0M184.9 348.0h0M179.6 321.6h0M176.2 327.7h0M174.9 331.9h0M178.6 336.9h0M192.7 352.3h0M170.1 334.6h0M190.9 301.4h0M187.8 357.7h0M170.5 316.7h0M171.8 316.0h0M189.6 315.4h0M187.9 330.8h0M178.3 344.1h0M192.9 318.2h0M175.6 343.9h0M181.4 354.0h0M173.1 327.2h0M187.2 352.1h0M172.3 347.9h0M174.8 309.2h0M190.4 340.7h0M183.3 356.3h0M187.6 344.1h0M189.5 310.3h0M186.1 351.8h0M175.3 338.6h0M188.6 332.3h0M173.1 309.2h0M177.2 336.1h0M181.9 353.3h0M173.0 311.4h0M172.8 328.7h0M187.4 340.6h0M189.7 309.9h0M179.9 349.5h0M180.4 320.9h0M175.5 339.8h0M183.9 357.4h0M185.4 345.4h0M194.8 329.7h0M171.1 356.5h0M194.2 295.1h0M196.4 305.8h0M179.2 347.4h0M189.3 354.8h0M191.9 346.8h0M187.3 338.4h0M177.7 353.8h0M186.6 352.1h0M193.3 307.7h0M172.8 318.0h0M182.8 354.5h0M170.6 327.4h0M192.5 312.2h0M190.7 339.1h0M171.2 340.6h0M189.8 303.6h0M188.4 311.4h0M173.4 355.5h0M184.0 348.2h0M188.3 336.4h0M178.9 315.7h0M183.4 356.5h0M196.0 282.1h0M186.9 349.0h0M183.4 357.3h0M171.8 290.9h0M173.2 347.2h0M192.6 356.7h0M189.8 328.6h0M192.2 350.5h0M185.4 356.9h0M185.3 346.0h0M184.1 356.8h0M189.6 337.3h0M178.8 328.8h0M183.2 358.1h0M182.5 353.2h0M187.6 338.7h0M175.8 324.8h0M170.7 340.8h0M172.4 299.1h0M174.8 319.0h0M192.8 356.4h0M189.1 329.5h0M189.9 304.7h0M181.8 355.3h0M172.7 325.6h0M182.4 351.6h0M193.0 305.7h0M183.5 355.6h0M186.8 343.8h0M180.0 350.7h0M174.0 296.8h0M186.7 319.9h0M182.9 354.7h0M179.2 324.7h0M176.9 311.3h0M188.5 313.3h0M178.5 330.9h0M185.3 347.3h0M176.9 351.2h0M190.0 324.6h0M180.0 345.6h0M182.7 354.2h0M194.7 281.8h0M189.1 313.6h0M189.6 331.5h0M179.0 300.7h0M192.4 321.8h0M180.3 338.4h0M196.3 341.9h0M193.8 354.9h0M187.5 330.3h0M192.1 329.6h0M184.5 352.6h0M189.5 347.9h0M173.3 291.3h0M196.3 286.2h0M191.3 318.9h0M173.8 301.6h0M176.5 299.4h0M185.3 337.7h0M190.3 341.4h0M174.0 294.6h0M195.6 353.9h0M179.2 343.3h0M196.5 328.2h0M190.0 335.8h0M182.9 354.5h0M179.6 315.3h0M172.6 345.7h0M172.3 291.8h0M186.7 349.8h0M190.6 339.0h0M194.1 342.4h0M179.7 322.1h0M194.9 336.4h0M177.9 344.7h0M195.0 326.9h0M194.4 315.3h0M174.1 339.4h0M192.9 327.6h0M188.7 300.1h0M188.7 348.3h0M192.4 349.1h0M184.3 356.8h0M183.5 355.5h0M179.8 346.7h0M193.0 348.9h0M194.0 302.1h0M174.3 310.1h0M190.5 324.1h0M177.3 319.0h0M174.9 350.9h0M175.2 317.3h0M185.2 350.1h0M177.4 333.6h0M176.4 311.0h0M172.6 290.8h0M178.6 341.9h0M190.6 341.8h0M170.6 324.8h0M182.8 354.9h0M186.0 341.5h0M171.3 329.2h0M177.8 324.6h0M194.1 328.4h0M196.4 283.2h0M192.6 306.4h0M174.5 320.6h0M190.3 333.9h0M182.0 348.4h0M174.5 327.7h0M182.8 356.9h0M194.5 286.4h0M193.3 311.0h0M180.4 347.0h0M171.7 296.8h0M194.0 338.4h0M196.2 306.7h0M183.6 355.7h0M176.0 332.5h0M184.5 344.5h0M188.5 300.2h0M182.8 354.2h0M179.4 338.9h0M176.6 349.9h0M177.9 337.8h0M171.3 315.8h0M176.8 294.9h0M195.4 311.6h0M170.2 309.9h0M189.4 338.3h0M191.0 332.3h0M180.8 353.9h0M185.8 357.1h0M175.9 332.2h0M187.8 332.7h0M188.8 350.1h0M189.5 314.7h0M183.1 356.3h0M195.8 352.7h0M193.0 329.8h0M185.2 349.7h0M188.2 305.7h0M177.3 298.3h0M195.1 309.5h0M187.2 324.1h0M193.8 332.9h0M177.7 313.2h0M196.1 319.0h0M172.8 322.1h0M184.1 353.4h0M172.9 329.9h0M175.0 320.6h0M190.3 290.8h0M171.8 344.8h0M180.2 355.5h0M175.1 326.8h0M192.6 310.3h0M172.2 347.6h0M179.0 337.8h0M192.8 324.8h0M188.3 319.5h0M188.7 341.5h0M196.4 314.2h0M170.6 338.2h0M187.7 326.4h0M189.8 340.6h0M189.9 318.0h0M189.0 308.2h0M171.9 327.9h0M172.2 309.7h0M190.6 350.5h0M186.3 353.3h0M177.0 309.5h0M170.2 341.1h0M184.2 354.8h0M172.4 324.0h0M189.9 316.7h0M179.1 339.1h0M191.5 328.7h0M172.5 307.1h0M183.1 357.0h0M172.7 311.7h0M190.8 344.9h0M184.9 350.5h0M176.2 304.3h0M195.6 345.7h0M188.1 334.9h0M178.9 308.9h0M192.8 299.3h0M180.1 330.8h0M195.1 330.7h0M177.9 349.0h0M196.2 334.0h0M171.7 289.6h0M189.5 333.6h0M177.8 287.8h0M181.3 348.5h0M186.9 340.3h0M171.2 318.6h0M175.9 292.4h0M172.8 340.3h0M189.7 301.0h0M175.9 350.1h0M183.3 356.3h0M178.7 315.0h0M176.3 325.0h0M194.9 327.8h0M183.5 354.7h0M187.3 349.9h0M188.7 346.1h0M191.8 302.2h0M177.0 336.8h0M172.1 344.6h0M182.4 355.0h0M174.5 353.3h0M170.5 346.1h0M194.5 333.9h0M186.7 345.6h0M181.0 352.8h0M173.6 340.1h0M190.2 325.4h0M184.2 355.7h0M174.6 337.0h0M196.1 344.9h0M195.3 287.4h0M194.7 300.2h0M192.0 307.4h0M184.1 353.9h0M178.0 341.9h0M187.3 330.2h0M174.0 285.0h0M186.4 335.3h0M171.8 308.5h0M170.4 314.0h0M189.0 308.6h0M179.1 332.6h0M188.5 343.3h0M190.7 336.6h0M192.2 337.9h0M186.4 355.8h0M192.5 295.3h0M187.5 352.2h0M194.7 336.3h0M193.9 312.4h0M171.2 323.9h0M177.1 350.4h0M180.3 340.2h0M176.7 306.5h0M174.7 335.8h0M193.2 342.0h0M170.7 354.2h0M174.8 337.8h0M190.2 341.7h0M175.9 335.9h0M176.9 315.6h0M195.7 347.7h0M190.3 355.5h0M181.9 345.3h0M173.6 337.4h0M177.2 354.6h0M196.1 276.6h0M191.0 347.1h0M171.9 298.6h0M188.8 328.6h0M180.0 328.5h0M189.1 312.7h0M177.9 288.1h0M173.5 311.5h0M170.5 335.3h0M177.9 341.9h0M192.9 325.7h0M193.7 306.1h0M188.2 351.6h0M189.9 335.7h0M175.2 324.7h0M179.4 348.2h0M193.9 354.7h0M196.2 298.5h0M181.8 348.9h0M190.6 286.2h0M194.8 348.6h0M196.5 353.7h0M177.9 345.3h0M187.4 348.5h0M180.4 353.6h0M182.4 350.5h0M182.3 352.7h0M177.4 346.4h0M170.5 325.0h0M190.4 340.5h0M188.5 338.5h0M192.4 348.7h0M174.1 352.3h0M176.3 308.7h0M185.9 342.7h0M194.9 330.5h0M182.5 353.2h0M175.3 337.8h0M185.8 342.0h0M195.5 317.8h0M193.1 343.4h0M193.9 329.8h0M180.9 341.4h0M177.0 329.6h0M193.2 345.1h0M191.0 342.1h0M192.6 348.0h0M180.4 350.7h0M177.6 329.1h0M176.4 332.5h0M193.2 335.1h0M194.5 300.2h0M179.8 346.2h0M193.3 353.2h0M180.1 320.5h0M181.9 346.6h0M185.1 349.0h0M175.9 333.1h0M177.1 316.8h0M177.1 299.3h0M176.9 347.7h0M183.7 355.9h0M172.7 312.5h0M190.8 274.0h0M174.6 354.2h0M181.8 346.1h0M187.1 322.6h0M173.7 320.1h0M180.9 347.4h0M185.0 353.5h0M184.6 357.3h0M193.7 352.7h0M190.9 305.2h0M173.2 352.1h0M192.2 327.5h0M184.6 345.3h0M188.0 352.5h0M174.3 336.2h0M182.6 355.9h0M188.6 295.1h0M191.2 305.0h0M191.4 297.3h0M175.8 336.4h0M192.2 326.1h0M185.1 353.6h0M187.8 347.4h0M192.7 335.3h0M180.8 341.6h0M194.5 304.5h0M193.4 324.8h0M191.5 324.0h0M180.1 343.1h0M184.1 354.3h0M174.6 311.4h0M190.2 318.0h0M193.7 342.3h0M174.3 325.8h0M189.8 352.5h0M188.5 317.1h0M171.0 315.5h0M194.4 291.6h0M182.7 352.3h0M177.2 319.7h0M170.8 282.2h0M190.8 312.0h0M179.0 343.4h0M183.7 355.7h0M175.2 325.5h0M186.1 326.1h0M180.6 350.5h0M191.5 282.3h0M187.7 354.7h0M189.2 328.1h0M176.7 314.3h0M171.7 332.7h0M193.4 349.5h0M194.9 349.8h0M187.1 337.4h0M194.5 313.5h0M188.8 322.9h0M186.1 343.3h0M181.1 343.3h0M179.5 347.8h0M183.0 357.2h0M175.9 335.9h0M181.4 347.8h0M183.5 356.0h0M170.8 356.9h0M180.5 337.7h0M177.6 315.1h0M186.9 332.7h0M191.6 296.0h0M186.3 333.0h0M187.7 342.9h0M186.3 354.5h0M176.8 293.5h0M180.0 350.7h0M192.5 333.9h0M195.2 308.9h0M174.8 342.1h0M170.3 339.3h0M195.6 321.5h0M192.9 325.5h0M186.2 344.8h0M191.7 324.1h0M185.8 347.8h0M194.1 343.5h0M176.5 337.0h0M181.8 354.7h0M187.8 314.8h0M175.7 340.5h0M189.0 305.6h0M177.0 319.3h0M188.9 356.1h0M191.4 331.6h0M181.3 349.2h0M196.3 314.2h0M186.8 312.9h0M190.1 317.6h0M170.5 342.4h0M173.0 339.7h0M188.9 333.3h0M195.1 311.7h0M186.7 332.6h0M194.3 318.5h0M171.6 302.7h0M193.7 333.7h0M193.3 349.5h0M186.7 334.5h0M181.4 348.9h0M188.8 325.5h0M176.5 319.7h0M187.8 330.2h0M188.5 342.8h0M184.4 350.9h0M176.9 320.9h0M170.1 284.1h0M175.2 356.2h0M192.2 305.9h0M175.6 336.0h0M172.0 336.0h0M176.6 286.9h0M183.8 357.9h0M185.6 338.1h0M193.3 335.0h0M192.7 297.6h0M195.8 319.0h0M193.5 326.7h0M182.0 355.8h0M173.8 353.2h0M195.4 337.0h0M176.1 342.3h0M186.5 330.6h0M177.0 339.3h0M191.7 324.0h0M175.3 343.9h0M181.2 343.1h0M175.8 346.9h0M192.9 334.4h0M186.5 332.5h0M186.8 343.4h0M178.4 347.8h0M174.7 352.0h0M192.8 348.1h0M190.3 316.0h0M189.5 316.0h0M196.5 334.9h0M184.9 350.5h0M174.7 354.0h0M186.2 347.3h0M177.6 356.0h0M183.6 355.3h0M182.2 355.7h0M185.0 351.8h0M194.5 303.2h0M191.6 342.8h0M181.0 348.7h0M191.7 350.5h0M192.9 345.3h0M190.6 303.0h0M184.7 351.1h0M193.9 358.2h0M183.1 355.3h0M172.8 347.6h0M177.2 351.6h0M187.5 340.4h0M180.1 338.7h0M181.2 347.3h0M180.7 328.7h0M175.1 304.7h0M172.5 334.8h0M171.3 341.2h0M187.9 344.9h0M178.6 314.2h0M182.2 353.3h0M194.9 318.0h0M186.7 342.3h0M191.6 333.6h0M190.3 309.9h0M195.4 280.8h0M171.8 284.8h0M180.2 344.9h0M195.3 335.0h0M182.4 353.5h0M195.2 310.9h0M174.9 329.5h0M171.6 350.9h0M193.8 303.7h0M180.9 332.6h0M183.5 354.5h0M194.9 340.3h0M175.8 340.6h0M195.8 349.6h0M180.5 333.5h0M176.6 352.3h0M176.2 343.1h0M183.8 355.4h0M182.4 354.5h0M193.6 327.9h0M171.4 310.3h0M171.2 312.2h0M174.1 305.1h0M186.1 353.4h0M190.8 319.5h0M182.8 354.7h0M186.3 344.0h0M187.1 326.7h0M170.5 351.4h0M176.6 310.8h0M196.5 335.2h0M178.8 355.4h0M195.2 353.4h0M183.1 353.9h0M175.9 334.4h0M170.1 347.7h0M175.8 331.0h0M178.6 318.1h0M181.7 338.5h0M181.9 341.0h0M184.6 343.3h0M182.6 354.2h0M170.9 324.2h0M177.1 309.1h0M195.6 315.7h0M170.7 302.8h0M189.5 341.2h0M182.7 355.9h0M188.8 316.3h0M178.8 334.4h0M179.8 332.0h0M183.7 354.7h0M194.2 309.3h0M178.7 326.3h0M172.3 266.0h0M171.0 322.8h0M193.4 320.2h0M178.3 325.8h0M173.2 301.0h0M185.9 344.1h0M192.5 333.2h0M185.9 350.1h0M174.0 280.6h0M180.8 353.3h0M177.1 317.5h0M170.4 347.0h0M195.7 332.9h0M182.2 355.3h0M173.6 326.3h0M193.5 301.1h0M196.2 292.4h0M191.7 357.1h0M176.7 318.2h0M175.1 305.7h0M184.0 352.3h0M185.5 353.1h0M193.4 335.9h0M195.7 328.0h0M194.2 318.6h0M179.1 348.5h0M185.6 337.4h0M173.3 344.9h0M183.8 354.2h0M171.9 324.7h0M173.0 347.4h0M173.2 322.9h0M178.0 324.8h0M178.2 345.0h0M188.8 302.3h0M172.0 350.3h0M173.0 324.6h0M187.5 349.1h0M187.9 332.8h0M188.9 343.1h0M189.2 320.9h0M187.6 355.2h0M184.7 350.2h0M189.7 327.7h0M172.2 334.6h0M175.6 316.7h0M189.7 326.0h0M175.1 324.3h0M184.1 354.1h0M176.9 318.5h0M181.5 354.2h0M192.2 322.8h0M187.6 357.2h0M181.8 346.8h0M177.3 335.9h0M191.4 349.7h0M187.5 330.4h0M181.7 345.6h0M193.1 351.4h0M188.4 345.0h0M196.1 279.7h0M187.7 352.7h0M193.9 295.6h0M184.6 347.7h0M188.9 309.0h0M192.4 308.9h0M172.4 334.5h0M182.6 354.7h0M186.1 350.9h0M171.5 339.5h0M191.0 333.5h0M189.0 292.2h0M194.9 354.7h0M179.9 352.3h0M182.5 351.9h0M194.3 346.0h0M180.9 343.4h0M192.2 341.4h0M181.2 356.5h0M179.0 318.8h0M177.4 351.6h0M175.7 309.4h0M181.5 337.1h0M174.3 333.6h0M192.0 354.6h0M195.9 316.9h0M172.6 332.6h0M171.5 334.8h0M170.1 318.8h0M194.8 346.2h0M172.0 285.1h0M188.1 337.7h0M178.1 319.3h0M175.3 341.3h0M176.6 345.3h0M188.3 344.8h0M170.5 310.4h0M193.0 305.6h0M185.1 351.8h0M176.3 324.8h0M175.5 310.0h0M187.4 307.6h0M186.7 348.4h0M178.5 338.0h0M178.9 351.9h0M182.3 356.1h0M194.2 331.8h0M184.3 355.5h0M192.3 318.1h0M187.0 355.9h0M185.0 345.3h0M183.0 353.3h0M188.1 335.3h0M183.1 356.2h0M189.3 308.8h0M174.8 344.7h0M178.6 348.6h0M193.2 326.1h0M180.5 341.4h0M192.4 324.7h0M194.9 330.2h0M185.4 356.4h0M172.7 345.6h0M190.1 334.5h0M187.7 308.5h0M177.7 351.0h0M193.0 308.3h0M182.8 353.6h0M171.5 271.5h0M171.8 324.1h0M176.1 342.6h0M186.2 345.3h0M191.7 324.1h0M172.6 283.7h0M170.6 351.9h0M186.6 335.2h0M180.9 334.3h0M181.7 347.8h0M191.8 331.7h0M194.4 328.3h0M195.7 333.0h0M190.7 303.8h0M170.1 313.6h0M174.0 331.6h0M185.6 340.4h0M195.4 339.6h0M172.2 316.4h0M183.7 356.4h0M180.5 352.8h0M180.8 349.8h0M177.1 316.3h0M177.2 339.4h0M176.3 307.8h0M172.7 330.5h0M184.7 355.0h0M181.9 355.2h0M189.0 353.3h0M187.0 356.4h0M195.3 317.5h0M179.0 336.4h0M193.5 308.2h0M180.2 346.0h0M187.6 343.4h0M191.4 321.4h0M180.6 354.5h0M181.9 353.9h0M186.8 335.5h0M172.9 348.9h0M184.1 351.2h0M172.5 327.5h0M176.0 314.0h0M186.6 342.4h0M195.9 355.9h0M196.6 343.8h0M176.9 336.3h0M173.9 341.8h0M183.8 355.5h0M181.7 356.0h0M180.1 330.2h0M190.4 319.1h0M188.9 347.9h0M184.9 349.7h0M186.5 346.0h0M185.5 351.1h0M188.0 305.3h0M194.7 355.9h0M195.2 345.0h0M196.1 350.3h0M192.9 330.3h0M172.8 276.6h0M182.0 354.8h0M190.8 339.1h0M177.8 306.7h0M186.1 350.9h0M171.5 329.7h0M175.4 301.0h0M180.6 347.5h0M171.9 337.7h0M181.3 341.6h0M176.1 346.1h0M192.9 342.4h0M178.5 321.2h0M180.1 352.4h0M191.3 279.4h0M184.9 346.2h0M171.3 307.7h0M175.8 321.2h0M186.2 340.5h0M175.3 311.7h0M176.6 342.5h0M186.6 331.0h0M183.2 358.1h0M177.2 345.8h0M184.9 358.1h0M186.9 351.0h0M171.0 307.4h0M177.3 350.2h0M178.2 339.6h0M193.4 348.9h0M171.4 311.0h0M179.2 350.5h0M175.2 343.5h0M188.5 344.5h0M191.6 317.0h0M171.5 319.6h0M193.0 315.2h0M188.5 325.7h0M175.8 305.5h0M194.4 346.2h0M177.8 349.2h0M191.0 348.5h0M172.0 321.0h0M182.1 346.2h0M183.5 356.3h0M193.8 346.5h0M192.3 330.2h0M184.5 353.1h0M171.4 317.4h0M181.4 344.1h0M180.0 338.2h0M196.5 334.4h0M188.1 355.5h0M180.8 353.7h0M179.7 356.2h0M190.4 319.3h0M172.5 357.2h0M191.7 324.3h0M187.8 333.4h0M181.6 347.4h0M188.9 351.5h0M180.6 329.5h0M173.8 331.7h0M181.1 341.6h0M171.4 347.2h0M172.3 339.4h0M181.7 355.1h0M191.9 299.9h0M175.4 285.0h0M183.3 357.8h0M196.0 336.6h0M192.0 324.3h0M194.0 273.6h0M188.0 348.2h0M185.7 331.2h0M185.5 344.2h0M186.0 324.1h0M182.4 351.8h0M179.6 318.1h0M176.3 309.1h0M171.7 350.1h0M179.8 335.4h0M190.5 336.1h0M184.7 346.3h0M174.4 339.4h0M191.7 339.6h0M171.1 313.6h0M194.8 313.9h0M187.3 349.8h0M184.8 352.6h0M181.0 334.7h0M191.9 324.9h0M170.2 352.5h0M170.4 323.9h0M183.8 355.4h0M177.9 321.1h0M180.7 342.7h0M184.3 345.0h0M171.2 295.4h0M196.1 269.2h0M188.0 346.2h0M172.6 329.5h0M189.6 349.2h0M184.2 345.7h0M188.3 343.8h0M189.6 322.2h0M196.4 349.7h0M173.1 301.4h0M196.5 356.2h0M182.7 356.0h0M175.3 302.2h0M179.9 331.7h0M179.7 353.8h0M193.8 285.7h0M183.9 350.1h0M171.8 332.5h0M189.0 337.0h0M183.2 358.0h0M191.7 304.1h0M171.2 279.5h0M193.0 316.5h0M193.8 354.4h0M170.2 325.5h0M182.7 352.9h0M173.2 345.8h0M184.1 352.9h0M172.4 333.0h0M193.6 332.0h0M174.9 348.6h0M187.8 331.6h0M187.4 346.4h0M178.5 344.7h0M175.7 353.7h0M194.3 273.9h0M171.1 349.8h0M176.8 323.7h0M178.7 321.6h0M185.5 347.5h0M179.8 325.0h0M173.0 334.9h0M185.2 332.9h0M189.3 312.9h0M188.7 340.6h0M183.0 357.1h0M178.2 352.8h0M170.3 348.4h0M184.2 354.5h0M186.7 348.5h0M181.7 343.7h0M195.5 316.9h0M175.4 320.0h0M191.7 351.9h0M189.1 307.1h0M193.9 294.9h0M194.6 290.0h0M176.3 344.3h0M194.5 344.4h0M180.7 339.8h0M188.1 352.1h0M195.3 313.1h0M185.8 351.0h0M185.5 346.3h0M171.9 330.5h0M185.9 355.3h0M176.4 317.4h0M180.3 346.7h0M180.1 346.4h0M195.9 308.0h0M187.0 351.7h0M189.3 351.6h0M174.6 339.5h0M178.1 344.9h0M193.3 328.1h0M173.2 325.4h0M195.4 331.9h0M181.4 342.9h0M180.4 347.1h0M183.7 351.5h0M181.8 341.0h0M182.5 350.6h0M181.3 333.6h0M188.7 338.4h0M177.3 299.9h0M174.4 334.4h0M181.6 346.3h0M172.3 317.2h0M181.9 346.6h0M183.1 356.9h0M190.9 354.1h0M172.9 321.7h0M180.6 351.6h0M190.8 337.8h0M179.0 356.6h0M192.2 310.9h0M189.1 320.7h0M171.1 336.9h0M180.2 337.2h0M190.4 308.6h0M184.0 355.7h0M187.9 344.8h0M196.3 309.7h0M188.0 338.4h0M184.5 342.1h0M192.5 333.5h0M181.4 354.2h0M170.3 307.4h0M177.2 351.1h0M185.8 336.3h0M195.2 347.6h0M186.1 341.4h0M177.5 305.6h0M196.4 334.0h0M180.6 353.9h0M176.1 342.7h0M184.7 350.5h0M179.2 340.5h0M173.0 355.1h0M189.0 292.2h0M188.4 303.2h0M195.9 335.7h0M173.6 343.0h0M194.2 308.1h0M191.2 347.1h0M176.7 331.2h0M182.7 355.2h0M186.8 325.0h0M178.4 299.5h0M172.9 347.3h0M192.3 346.0h0M174.4 322.6h0M183.1 355.9h0M181.6 351.7h0M194.0 312.5h0M184.9 353.6h0M181.3 333.1h0M196.0 352.0h0M179.4 317.0h0M189.3 307.5h0M176.2 344.3h0M190.1 318.6h0M190.0 307.5h0M192.0 354.5h0M182.9 356.1h0M175.9 336.9h0M186.8 350.2h0M194.2 316.6h0M178.2 340.0h0M170.5 356.2h0M174.9 331.8h0M194.8 345.9h0M170.2 297.4h0M171.4 330.3h0M172.6 343.5h0M193.7 335.0h0M180.2 346.9h0M188.4 338.2h0M188.8 350.0h0M181.5 343.7h0M189.5 337.4h0M182.3 354.4h0M184.4 350.2h0M178.2 329.3h0M170.1 332.5h0M185.8 342.7h0M177.1 306.1h0M177.3 336.1h0M193.4 317.3h0M179.6 339.8h0M172.7 297.1h0M186.8 341.9h0M184.3 355.3h0M171.5 329.8h0M179.3 319.1h0M186.3 350.6h0M177.4 347.1h0M196.2 344.7h0M191.3 283.9h0M183.4 355.3h0M194.4 285.3h0M170.9 305.4h0M176.0 340.8h0M194.3 331.1h0M183.5 355.5h0M174.5 329.4h0M185.2 336.7h0M189.4 357.8h0M186.1 338.9h0M171.2 355.2h0M171.0 324.7h0M180.8 349.0h0M170.4 294.4h0M172.2 331.9h0M187.1 317.7h0M181.7 341.9h0M172.3 332.4h0M193.3 305.8h0M179.8 335.1h0M193.5 346.9h0M186.2 330.7h0M186.5 350.7h0M181.3 356.5h0M187.9 342.1h0M176.5 318.8h0M176.8 336.3h0M193.3 302.1h0M175.4 322.2h0M180.3 331.1h0M189.8 346.5h0M178.8 314.2h0M179.7 356.5h0M194.2 304.8h0M175.5 349.2h0M176.4 332.3h0M193.6 343.8h0M177.3 353.1h0M178.8 338.1h0M193.5 325.6h0M178.5 300.3h0M196.5 328.4h0M191.8 315.1h0M192.5 348.0h0M176.0 330.3h0M175.8 331.9h0M190.0 310.7h0M192.0 325.8h0M176.0 288.3h0M175.5 343.2h0M176.5 344.2h0M173.7 351.5h0M181.2 351.5h0M183.4 357.5h0M186.7 341.2h0M171.5 324.3h0M175.1 323.0h0M173.1 340.3h0M177.2 357.2h0M174.9 311.6h0M194.9 313.7h0M179.9 327.0h0M173.7 330.4h0M187.7 351.2h0M195.9 343.3h0M191.1 338.1h0M187.2 349.8h0M180.1 339.9h0M180.7 330.5h0M178.0 343.5h0M191.4 317.6h0M191.4 301.1h0M183.0 355.0h0M192.9 318.7h0M187.3 347.6h0M188.2 317.5h0M177.1 316.8h0M176.4 319.1h0M176.1 345.0h0M194.3 321.5h0M191.3 287.7h0M193.9 305.0h0M191.9 335.1h0M191.4 328.2h0M181.6 354.2h0M190.4 326.9h0M174.4 330.1h0M187.4 332.0h0M171.1 348.9h0M195.7 309.1h0M193.4 344.9h0M174.4 331.0h0M190.4 345.3h0M191.9 309.8h0M171.1 320.8h0M185.1 353.3h0M181.2 349.6h0M186.5 339.6h0M193.6 346.3h0M189.2 299.2h0M175.6 316.8h0M184.8 341.0h0M184.9 342.7h0M170.3 301.7h0M173.5 332.3h0M179.6 342.5h0M174.7 352.5h0M176.3 341.2h0M188.0 348.4h0M195.6 291.9h0M182.2 354.2h0M187.2 325.7h0M190.3 307.2h0M187.9 351.6h0M187.5 342.9h0M170.0 303.8h0M193.1 322.6h0M174.3 315.5h0M174.8 341.4h0M183.6 355.5h0M185.6 348.8h0M190.1 287.0h0M177.8 344.3h0M195.1 320.2h0M186.7 338.6h0M192.5 321.5h0M182.7 351.3h0M171.9 312.3h0M170.3 343.9h0M187.0 321.9h0M181.3 349.7h0M181.7 350.5h0M178.7 322.6h0M174.7 350.5h0M182.6 352.6h0M176.8 331.7h0M193.7 330.8h0M174.8 337.8h0M195.7 354.6h0M192.9 345.6h0M180.2 329.7h0M190.6 336.2h0M185.4 338.4h0M182.4 347.4h0M191.6 311.2h0M192.1 291.2h0M175.4 356.8h0M194.1 339.1h0M170.9 334.4h0M170.1 314.4h0M182.9 356.6h0M178.0 352.4h0M181.2 349.2h0M182.7 354.8h0M182.5 350.2h0M194.1 353.3h0M194.4 324.2h0M179.2 316.4h0M177.7 320.5h0M187.4 319.0h0M175.3 338.9h0M180.7 347.9h0M189.1 334.4h0M170.2 327.8h0M190.5 321.3h0M189.5 311.4h0M180.3 332.0h0M176.6 283.8h0M184.4 355.0h0M177.9 324.2h0M191.8 356.6h0M185.7 349.5h0M178.2 321.4h0M191.5 351.5h0M186.2 320.7h0M173.5 319.6h0M181.0 336.0h0M183.0 355.1h0M195.1 319.1h0M178.5 350.4h0M181.9 346.6h0M196.0 345.5h0M181.3 352.1h0M192.0 294.3h0M172.6 298.1h0M180.5 334.1h0M174.9 347.9h0M193.5 277.1h0M184.7 343.5h0M175.8 338.2h0M172.5 276.9h0M181.2 347.5h0M172.6 311.5h0M182.9 354.8h0M189.4 325.4h0M178.3 341.8h0M174.5 321.1h0M179.6 332.1h0M174.4 337.6h0M192.4 336.4h0M172.6 337.4h0M189.7 310.5h0M178.9 318.4h0M189.4 315.9h0M190.5 335.7h0M173.6 283.4h0M190.1 346.1h0M195.2 332.9h0M185.1 356.2h0M187.2 346.5h0M178.6 334.1h0M174.6 313.7h0M189.8 297.3h0M191.8 320.4h0M175.5 340.5h0M173.0 308.8h0M179.4 345.6h0M186.7 347.0h0M179.7 337.1h0M195.6 344.0h0M191.1 327.1h0M194.4 351.4h0M186.0 340.9h0M190.1 345.4h0M195.3 352.2h0M170.9 353.1h0M185.3 345.8h0M175.0 340.1h0M191.1 343.5h0M176.2 335.3h0M189.7 348.7h0M178.8 351.9h0M187.3 320.6h0M188.1 313.6h0M194.2 334.8h0M193.2 315.4h0M181.6 354.2h0M188.3 300.4h0M174.9 321.0h0M172.6 318.1h0M189.0 356.1h0M194.1 339.0h0M189.9 324.3h0M183.7 353.0h0M186.7 355.8h0M189.4 333.0h0M185.1 345.2h0M179.7 350.7h0M192.6 348.4h0M179.8 354.0h0M194.0 343.3h0M191.3 326.8h0M191.1 325.9h0M192.2 337.5h0M196.2 297.1h0M196.3 329.6h0M183.3 356.6h0M180.0 352.2h0M189.5 332.5h0M195.7 331.5h0M186.8 343.6h0M170.7 330.7h0M171.0 308.6h0M182.3 348.6h0M191.0 349.6h0M193.6 283.7h0M180.0 334.7h0M183.8 353.3h0M183.6 355.3h0M172.5 322.5h0M170.0 318.4h0M183.9 357.2h0M183.4 355.7h0M172.1 273.9h0M172.8 299.0h0M194.4 264.4h0M195.9 287.1h0M171.6 305.2h0M173.5 281.3h0M193.9 263.9h0M193.8 264.5h0M170.9 265.0h0M194.7 288.3h0M192.9 269.2h0M192.7 293.0h0M172.5 269.5h0M194.9 284.9h0M171.7 291.0h0M172.5 305.9h0M194.3 290.6h0M172.8 278.4h0M173.4 299.7h0M193.9 288.1h0M195.2 296.9h0M193.8 300.5h0M196.2 292.8h0M194.8 300.6h0M193.3 281.8h0M172.1 278.6h0M193.3 293.1h0M193.1 303.9h0M173.6 294.3h0M193.3 302.0h0M193.4 280.0h0M170.1 269.3h0M173.8 305.2h0M172.2 288.2h0M171.4 286.3h0M173.7 306.0h0M172.7 264.4h0M194.2 302.6h0M172.1 302.6h0M195.3 304.9h0M171.9 291.3h0M171.9 278.7h0M172.9 284.6h0M192.8 289.2h0M171.4 297.1h0M194.7 271.1h0M171.9 296.9h0M171.7 288.1h0M196.3 278.2h0M195.6 306.8h0M194.6 301.0h0M193.4 287.6h0M193.3 295.9h0M171.7 299.5h0M170.9 265.3h0M171.3 307.2h0M195.6 294.3h0M173.7 300.4h0M192.9 298.4h0M194.9 266.7h0M170.7 176.8h0M171.3 200.5h0M192.6 191.2h0M191.3 200.5h0M195.3 137.1h0M193.9 214.8h0M195.3 227.5h0M190.0 240.2h0M191.9 255.4h0M151.9 358.1h0M202.9 357.8h0M211.4 358.0h0M276.2 358.5h0M279.5 357.9h0M148.2 357.8h0M219.4 357.4h0M93.3 357.9h0M219.8 358.1h0M124.5 358.5h0M72.7 358.3h0M244.4 357.3h0M295.4 357.8h0M228.3 357.3h0M247.5 358.4h0M281.1 358.3h0M149.0 357.4h0M269.1 358.4h0M181.6 357.9h0M186.9 357.7h0M86.8 357.8h0M133.2 357.7h0M160.3 358.4h0M194.4 357.8h0M121.5 357.8h0M291.0 357.5h0M267.1 357.9h0M102.8 358.1h0M95.0 357.9h0M81.6 358.3h0M114.4 357.5h0M245.3 357.8h0M123.5 358.2h0M204.9 357.6h0M197.5 358.1h0M287.5 357.9h0M168.1 357.2h0M117.3 357.3h0M187.1 357.9h0M155.2 358.2h0M96.6 357.6h0M269.4 357.3h0M149.2 357.4h0M72.0 357.7h0M262.6 357.5h0M261.6 357.2h0M158.7 358.1h0M249.3 358.4h0M182.9 357.5h0M207.8 357.3h0M176.2 357.8h0M99.1 358.1h0M285.3 358.0h0M73.7 358.5h0M76.8 357.6h0M171.8 357.3h0M115.0 358.3h0M259.2 357.8h0M267.1 357.9h0M139.6 357.7h0M90.7 357.3h0M193.8 357.5h0M155.7 357.7h0M293.9 358.5h0M156.6 358.1h0M210.5 358.1h0M287.3 357.6h0M274.6 358.3h0M101.5 358.2h0M167.6 358.4h0M188.8 357.6h0M240.9 358.5h0M264.1 358.0h0M273.3 358.1h0M203.1 357.4h0M253.6 358.4h0M266.9 357.6h0M94.7 357.9h0M291.9 358.1h0M145.8 358.5h0M74.1 358.0h0M132.2 357.3h0M216.9 357.6h0M156.1 358.3h0M204.5 358.3h0M248.7 357.8h0M142.0 357.7h0M116.9 357.3h0M239.2 357.3h0M89.6 357.4h0M279.8 358.3h0M258.8 357.9h0M147.7 358.2h0M183.3 357.7h0M236.8 358.2h0M274.1 358.0h0M292.2 357.4h0M184.2 358.2h0M164.6 357.4h0M84.1 357.7h0M295.2 358.2h0M130.8 357.6h0M119.9 357.7h0M271.2 358.0h0M240.1 357.4h0M180.4 357.5h0M214.9 357.7h0M281.3 357.6h0M176.8 357.5h0M83.5 357.8h0M296.2 357.6h0M290.0 357.9h0M274.5 357.9h0M115.1 358.0h0M138.1 358.0h0M81.3 357.5h0M199.8 358.0h0M280.0 357.8h0M192.9 358.0h0M95.4 357.7h0M100.2 358.3h0M242.8 358.5h0M122.7 358.0h0M243.6 358.2h0M204.2 357.4h0M158.0 357.5h0M170.6 357.4h0M257.1 357.9h0M288.0 357.7h0M105.1 357.5h0M246.3 358.1h0M209.5 358.4h0M123.5 357.3h0M115.4 357.3h0M119.2 358.4h0M286.3 358.3h0M234.3 357.4h0M70.7 357.7h0M165.2 357.5h0M237.9 357.9h0M116.3 358.2h0M169.5 358.3h0M142.6 357.3h0M183.9 357.8h0M92.3 357.8h0M219.9 357.7h0M94.1 357.6h0M185.2 358.2h0M107.9 358.4h0M206.8 357.3h0M86.2 358.3h0M126.5 357.6h0M245.1 357.9h0M93.8 358.1h0M117.8 357.3h0M210.4 357.6h0M203.7 357.5h0M85.4 358.1h0M193.1 357.6h0M279.8 358.0h0M96.5 357.5h0M155.2 357.4h0M78.8 358.4h0M219.8 357.5h0M90.3 358.1h0M158.3 358.5h0M112.9 357.6h0M242.5 357.5h0M112.8 358.2h0M135.8 357.6h0M222.5 357.7h0M88.1 357.8h0M193.7 357.4h0M106.8 357.6h0M110.8 357.8h0M295.6 357.3h0M88.3 358.5h0M127.1 357.7h0M147.6 357.6h0M231.4 357.6h0M114.3 357.5h0M99.7 357.9h0M131.3 358.3h0M206.3 357.7h0M289.4 358.4h0M201.1 357.4h0M73.7 357.6h0M156.0 358.4h0M193.3 357.6h0M251.7 358.2h0M292.7 357.5h0M101.0 358.4h0M254.5 358.5h0M230.2 358.0h0M216.4 358.0h0M194.6 358.0h0M216.9 358.5h0M143.4 358.5h0M86.0 357.9h0M129.0 357.6h0M75.8 357.3h0M246.7 357.5h0M130.8 358.1h0M277.0 357.9h0M199.3 357.6h0M227.3 358.1h0M185.6 357.7h0M266.3 358.0h0M242.9 357.6h0M99.6 358.0h0M225.1 358.4h0M257.5 357.9h0M228.2 357.9h0M258.4 357.8h0M225.8 358.1h0M173.0 358.1h0M86.9 357.5h0M123.9 357.5h0M232.6 358.5h0M136.7 357.9h0M242.9 357.5h0M254.0 358.4h0M295.0 357.9h0M272.8 358.3h0M291.4 357.8h0M125.4 358.0h0M91.5 357.7h0M259.5 357.7h0M143.9 358.4h0M271.0 358.0h0M232.1 358.4h0M292.8 357.3h0M116.9 358.4h0M133.9 358.3h0M224.5 358.3h0M72.3 358.3h0M224.2 357.8h0M194.5 358.2h0M180.3 357.6h0M86.6 357.3h0M238.7 357.4h0M82.3 358.1h0M227.8 358.2h0M252.3 358.3h0M127.8 357.6h0M265.9 358.4h0M122.9 357.2h0M155.4 357.5h0M252.5 357.6h0M270.5 357.3h0M279.1 358.5h0M244.9 358.3h0M74.9 357.9h0M261.8 357.7h0M265.5 358.4h0M276.0 357.8h0M146.7 358.4h0M101.2 358.0h0M253.8 358.3h0M132.6 357.5h0M162.8 357.5h0M272.7 357.5h0M111.1 358.0h0M133.3 358.3h0M145.4 357.5h0M253.4 358.0h0M285.1 358.3h0M108.1 358.5h0M134.2 358.1h0M244.6 357.7h0M118.6 357.9h0M205.5 358.0h0M173.3 358.5h0M260.0 357.8h0M129.7 357.2h0M188.4 358.3h0M203.0 357.5h0M79.4 358.4h0M85.1 357.5h0M116.5 358.0h0M79.6 357.6h0M157.3 357.7h0M197.6 358.1h0M180.2 357.4h0M214.6 357.9h0M201.2 357.3h0M232.1 357.5h0M262.8 358.5h0M75.3 357.5h0M85.2 357.8h0M76.8 357.4h0M196.1 357.7h0M105.4 357.7h0M180.9 357.7h0M133.0 358.2h0M165.3 357.9h0M169.2 357.4h0M204.6 358.3h0M75.7 358.0h0M183.5 357.5h0"/>
<path clip-path="url(#vc)" fill="none" stroke="#dca94c" stroke-width="4.4" stroke-linecap="round" d="M151.7 344.7h0M167.5 342.7h0M165.9 349.8h0M155.2 329.3h0M154.9 327.9h0M165.7 328.5h0M168.3 304.8h0M168.9 333.6h0M150.6 348.2h0M149.6 349.3h0M169.6 352.2h0M163.6 340.5h0M165.6 334.9h0M162.7 324.9h0M160.2 344.2h0M161.5 339.7h0M159.5 327.0h0M160.4 336.2h0M160.2 331.7h0M151.1 346.9h0M165.7 346.8h0M167.2 334.6h0M152.3 342.3h0M161.3 320.4h0M168.8 335.0h0M155.6 353.3h0M159.6 356.9h0M156.0 325.1h0M166.0 324.6h0M151.6 336.4h0M167.5 313.3h0M153.6 340.8h0M165.3 346.2h0M152.2 344.3h0M153.0 355.2h0M153.9 340.6h0M156.2 326.2h0M154.3 344.3h0M153.9 342.6h0M155.7 348.1h0M168.7 310.6h0M163.8 315.2h0M151.8 342.5h0M169.6 331.0h0M167.5 349.0h0M153.1 339.8h0M151.9 352.8h0M154.4 348.5h0M156.9 345.0h0M159.7 346.5h0M166.1 321.2h0M164.0 327.4h0M166.1 313.0h0M162.5 322.3h0M158.8 326.2h0M161.4 346.1h0M148.5 345.8h0M152.8 333.9h0M159.4 333.2h0M168.2 341.9h0M165.9 319.8h0M168.4 336.2h0M167.2 322.8h0M163.9 317.5h0M167.9 327.1h0M167.2 331.6h0M148.8 347.7h0M161.6 328.9h0M168.2 306.9h0M152.2 344.0h0M161.7 328.9h0M150.0 341.8h0M157.3 329.0h0M157.5 354.0h0M153.5 341.0h0M169.0 350.2h0M160.3 356.8h0M153.4 353.0h0M169.6 301.1h0M156.6 336.3h0M160.7 324.4h0M166.9 325.6h0M167.0 323.0h0M148.8 350.2h0M151.1 340.9h0M151.0 350.6h0M169.0 325.2h0M156.6 338.9h0M160.7 334.3h0M169.1 349.7h0M154.1 341.7h0M168.5 340.8h0M154.1 357.6h0M167.8 315.4h0M150.2 354.9h0M156.0 326.0h0M161.4 334.7h0M163.1 339.6h0M159.6 356.6h0M169.2 357.3h0M151.8 339.7h0M154.2 336.2h0M152.8 347.3h0M150.9 336.8h0M157.6 346.2h0M158.8 336.6h0M154.7 353.0h0M163.8 339.6h0M151.5 339.0h0M166.5 333.5h0M158.4 346.6h0M160.3 335.9h0M153.4 333.3h0M150.9 343.1h0M164.7 343.4h0M161.2 319.4h0M163.7 351.9h0M164.9 319.7h0M150.2 347.0h0M157.7 337.6h0M154.9 349.0h0M167.6 342.1h0M152.4 353.3h0M153.7 341.2h0M166.6 318.9h0M166.4 357.8h0M160.0 345.3h0M158.5 338.3h0M164.5 310.5h0M151.0 344.9h0M153.3 341.5h0M162.8 332.1h0M168.8 347.1h0M166.5 328.8h0M166.0 348.5h0M158.1 327.7h0M159.3 326.5h0M149.1 341.4h0M159.6 348.1h0M163.3 336.3h0M160.7 353.6h0M154.4 339.4h0M155.9 350.5h0M152.3 335.4h0M163.5 331.1h0M159.1 348.3h0M154.1 339.8h0M168.8 333.3h0M161.7 327.8h0M157.2 325.9h0M153.3 357.6h0M149.2 351.9h0M168.8 308.2h0M149.5 355.1h0M169.4 323.6h0M155.0 327.5h0M169.1 343.9h0M168.7 306.7h0M164.1 343.8h0M153.1 340.9h0M164.9 323.7h0M169.7 352.5h0M161.0 321.1h0M163.5 318.3h0M168.5 356.5h0M169.7 328.1h0M155.3 327.8h0M164.7 339.1h0M165.0 334.4h0M162.1 342.3h0M168.6 353.3h0M155.7 354.4h0M159.0 331.0h0M166.7 342.1h0M158.2 322.0h0M162.7 316.6h0M163.9 322.3h0M161.5 335.0h0M152.4 336.7h0M169.6 357.4h0M169.5 303.0h0M164.7 309.9h0M166.2 325.8h0M162.0 331.5h0M155.4 333.1h0M161.5 358.3h0M164.1 323.3h0M157.9 342.9h0M155.8 358.2h0M149.9 347.5h0M157.6 324.1h0M150.7 343.2h0M169.4 341.0h0M154.4 341.7h0M168.2 311.4h0M166.3 349.2h0M148.9 337.8h0M149.8 354.2h0M164.2 350.6h0M153.4 357.4h0M161.8 318.5h0M167.6 322.9h0M168.8 319.9h0M163.8 337.3h0M165.3 351.8h0M159.5 342.0h0M157.9 351.0h0M149.1 345.3h0M162.2 327.4h0M155.0 340.1h0M155.0 345.0h0M164.2 343.9h0M169.1 317.8h0M158.2 350.3h0M152.1 333.1h0M163.1 333.4h0M167.6 327.3h0M168.3 310.0h0M165.6 351.0h0M148.6 339.1h0M151.9 334.2h0M150.1 348.7h0M166.7 347.7h0M163.8 319.2h0M157.0 356.3h0M167.6 316.0h0M168.8 315.8h0M168.7 349.1h0M161.7 358.4h0M159.1 352.8h0M165.4 321.1h0M154.5 343.6h0M160.4 317.6h0M164.0 350.6h0M166.7 307.1h0M155.8 325.8h0M163.4 342.1h0M152.2 356.3h0M149.4 339.6h0M157.1 334.0h0M154.8 334.9h0M162.5 348.6h0M153.7 356.4h0M165.2 342.6h0M167.9 309.6h0M156.9 357.7h0M156.9 328.8h0M164.7 347.2h0M156.7 346.3h0M150.6 343.8h0M165.3 312.8h0M155.6 339.0h0M161.6 332.3h0M164.4 320.1h0M149.3 342.4h0M157.4 326.9h0M169.4 338.1h0M155.3 327.0h0M153.1 330.3h0M161.4 325.9h0M168.9 354.3h0M154.6 345.1h0M163.0 320.6h0M153.5 350.9h0M163.2 334.0h0M162.4 341.9h0M155.6 352.0h0M165.9 327.3h0M151.7 347.9h0M166.1 314.9h0M152.0 355.5h0M154.3 330.2h0M165.5 337.3h0M155.7 333.2h0M158.9 348.5h0M164.1 353.4h0M160.0 355.8h0M167.7 341.9h0M169.6 343.7h0M149.2 343.9h0M156.3 336.0h0M154.6 329.7h0M164.3 326.8h0M169.7 323.8h0M169.5 340.9h0M165.2 356.1h0M166.2 324.5h0M161.1 349.8h0M165.8 307.1h0M150.9 340.9h0M163.7 356.3h0M164.6 335.0h0M164.1 352.7h0M166.4 358.5h0M168.4 334.1h0M157.6 323.9h0M164.7 350.5h0M163.2 311.9h0M151.0 346.3h0M154.8 347.6h0M150.4 335.8h0M157.8 345.3h0M154.4 352.8h0M155.0 328.6h0M162.2 316.5h0M151.8 337.1h0M164.4 319.8h0M165.2 333.2h0M159.8 323.1h0M158.9 341.0h0M158.1 339.0h0M158.8 351.0h0M169.1 326.0h0M153.2 337.0h0M154.8 349.0h0M150.1 354.6h0M165.5 353.5h0M166.2 331.9h0M154.6 354.2h0M168.3 332.7h0M164.1 327.4h0M149.2 356.8h0M164.1 319.2h0M160.8 353.4h0M162.5 351.8h0M155.0 336.5h0M156.7 325.1h0M163.8 351.6h0M155.6 334.2h0M159.8 337.8h0M163.7 347.1h0M163.8 329.6h0M161.9 337.6h0M162.1 339.6h0M169.7 307.0h0M169.6 323.8h0M167.2 313.8h0M156.7 356.4h0M149.3 337.5h0M169.7 343.1h0M169.7 326.3h0M160.4 354.8h0M152.8 351.5h0M152.1 344.5h0M168.1 315.5h0M165.0 318.6h0M157.4 339.9h0M153.0 350.3h0M152.2 341.1h0M164.5 338.4h0M156.9 351.5h0M158.8 327.9h0M166.8 315.5h0M155.1 351.9h0M168.1 355.5h0M156.5 331.7h0M163.4 319.6h0M154.4 355.6h0M154.0 345.3h0M167.9 318.6h0M160.0 343.2h0M151.4 337.6h0M157.5 356.5h0M162.4 331.4h0M167.3 344.9h0M167.6 318.0h0M160.0 357.5h0M154.1 336.0h0M153.5 343.9h0M153.2 337.4h0M158.1 353.1h0M149.5 339.3h0M159.9 330.4h0M160.3 356.4h0M149.9 338.0h0M153.8 352.4h0M153.4 346.1h0M163.7 339.8h0M159.8 326.0h0M168.6 314.4h0M153.3 355.3h0M165.8 313.8h0M157.6 351.4h0M169.5 315.4h0M164.3 351.0h0M168.1 333.5h0M163.7 352.0h0M158.0 332.2h0M160.4 340.0h0M169.3 324.0h0M160.8 315.8h0M169.6 309.4h0M162.4 347.8h0M154.1 344.0h0M159.4 334.3h0M163.8 340.5h0M157.7 355.5h0M159.5 342.9h0M163.5 343.5h0M163.4 347.4h0M157.0 351.6h0M157.9 353.5h0M157.6 326.8h0M168.2 331.0h0M150.2 340.7h0M152.0 337.0h0M167.8 310.7h0M154.7 338.8h0M164.0 316.9h0M153.4 353.6h0M161.0 348.9h0M157.9 333.2h0M158.5 342.5h0M157.7 350.1h0M158.2 342.9h0M157.6 342.4h0M161.5 318.9h0M160.7 338.5h0M168.0 308.2h0M158.2 349.4h0M163.6 316.3h0M169.2 309.9h0M154.4 351.9h0M157.2 330.0h0M163.9 319.3h0M157.2 329.2h0M148.6 339.5h0M168.0 331.2h0M155.3 341.2h0M148.5 352.5h0M168.5 328.3h0M166.7 309.0h0M164.8 325.7h0M149.4 340.0h0M169.7 306.9h0M160.3 331.7h0M166.3 327.7h0M167.9 344.8h0M169.7 322.5h0M163.3 327.9h0M165.1 355.2h0M164.1 358.1h0M153.9 328.9h0M162.7 355.3h0M163.6 319.1h0M160.3 331.2h0M161.3 321.5h0M155.9 338.8h0M158.6 335.7h0M162.7 346.7h0M148.6 345.4h0M149.5 338.2h0M157.4 348.8h0M153.3 331.1h0M167.6 342.7h0M150.1 342.6h0M151.8 333.9h0M160.6 323.0h0M166.4 340.1h0M160.0 334.0h0M155.3 331.8h0M160.4 317.2h0M159.6 327.5h0M163.4 314.5h0M158.0 337.7h0M153.8 338.9h0M153.1 350.1h0M166.9 335.3h0M152.6 347.5h0M157.7 322.5h0M164.6 310.7h0M152.2 332.7h0M166.8 334.2h0M168.1 304.9h0M154.9 336.8h0M149.0 353.4h0M165.0 332.6h0M160.9 352.8h0M164.4 330.6h0M158.3 321.9h0M152.2 346.1h0M151.7 347.5h0M157.0 355.0h0M156.5 340.2h0M164.6 323.6h0M162.9 315.2h0M169.4 336.4h0M167.7 342.7h0M167.0 307.8h0M158.2 353.6h0M158.2 343.2h0M169.5 327.9h0M166.2 308.7h0M156.2 336.6h0M152.5 333.7h0M156.7 326.3h0M160.3 326.1h0M169.5 311.3h0M161.6 347.9h0M148.5 341.3h0M167.7 313.4h0M166.5 339.5h0M153.5 351.3h0M154.1 349.2h0M153.5 333.0h0M162.5 325.3h0M169.6 328.4h0M154.2 355.1h0M150.7 336.2h0M160.1 357.7h0M163.4 346.9h0M168.0 307.8h0M165.6 330.0h0M160.5 342.3h0M154.6 341.3h0M168.6 321.1h0M161.7 327.0h0M169.6 324.6h0M160.0 355.9h0M161.1 350.2h0M164.0 353.3h0M156.2 346.4h0M151.1 349.3h0M139.7 347.3h0M165.7 347.8h0M168.1 355.7h0M137.4 348.3h0M150.2 335.2h0M159.8 353.0h0M168.9 355.8h0M166.1 357.9h0M139.3 352.2h0M153.7 321.0h0M169.6 356.5h0M154.9 325.1h0M157.4 348.7h0M141.5 358.2h0M168.5 337.8h0M159.1 332.6h0M132.4 354.4h0M143.4 353.8h0M147.4 347.0h0M158.9 356.6h0M164.4 304.1h0M168.5 354.6h0M162.6 285.8h0M160.4 316.7h0M157.4 354.4h0M136.9 347.9h0M157.7 358.1h0M147.6 343.9h0M166.8 305.1h0M160.2 344.6h0M131.5 352.1h0M166.6 349.6h0M168.2 336.5h0M168.9 346.1h0M169.7 326.1h0M167.3 358.1h0M168.6 357.8h0M166.8 356.0h0M158.6 352.5h0M144.7 358.0h0M138.3 348.8h0M151.3 295.9h0M168.3 355.2h0M138.0 344.9h0M146.8 345.0h0M137.6 354.3h0M141.8 337.7h0M165.9 350.3h0M129.3 354.2h0M140.3 344.5h0M161.8 352.9h0M140.9 335.1h0M158.1 351.7h0M168.3 349.8h0M148.4 334.1h0M127.6 353.8h0M146.7 354.7h0M132.3 353.8h0M166.0 329.8h0M154.5 324.1h0M162.7 348.9h0M130.8 357.7h0M167.3 332.8h0M169.6 331.3h0M153.1 355.9h0M158.3 355.5h0M165.5 339.4h0M131.9 355.4h0M163.1 335.4h0M164.8 357.1h0M146.0 327.3h0M128.9 345.0h0M158.2 319.2h0M141.6 354.0h0M169.2 345.9h0M136.7 353.7h0M152.9 343.0h0M147.5 347.4h0M156.1 357.2h0M169.6 345.2h0M159.5 340.4h0M167.0 343.6h0M166.5 331.9h0M137.4 347.0h0M161.0 338.3h0M137.8 353.7h0M141.3 355.4h0M145.0 340.2h0M155.7 343.5h0M169.0 332.1h0M138.3 355.2h0M169.5 341.0h0M159.6 349.3h0M134.2 357.9h0M141.8 354.8h0M150.8 333.0h0M148.4 358.3h0M131.3 350.2h0M140.8 350.2h0M152.7 347.5h0M160.1 358.0h0M168.1 337.9h0M137.5 342.6h0M139.6 352.0h0M147.6 357.0h0M133.8 346.9h0M169.5 354.5h0M168.3 309.4h0M149.9 338.2h0M127.3 354.7h0M131.4 356.1h0M147.9 324.8h0M168.2 353.8h0M152.4 355.4h0M149.1 352.6h0M140.4 356.2h0M128.3 351.3h0M140.6 355.7h0M154.0 334.6h0M142.0 348.3h0M160.8 355.3h0M156.2 350.7h0M153.2 353.7h0M160.2 355.5h0M128.4 341.1h0M163.2 353.4h0M147.7 350.4h0M165.0 355.0h0M127.3 352.4h0M161.0 335.2h0M149.7 336.7h0M131.4 357.2h0M145.7 355.4h0M150.8 347.2h0M168.8 310.9h0M158.1 356.5h0M157.1 347.0h0M145.1 347.2h0M155.4 352.9h0M163.7 347.8h0M153.3 337.3h0M159.8 350.2h0M138.3 345.4h0M156.1 347.1h0M156.7 322.9h0M144.2 358.1h0M153.0 321.9h0M157.5 306.7h0M168.7 353.2h0M156.4 356.5h0M135.5 342.3h0M129.0 348.0h0M136.2 355.6h0M168.2 336.0h0M134.4 357.1h0M154.9 342.2h0M145.1 324.2h0M148.7 337.1h0M154.9 304.6h0M165.6 354.5h0M160.5 349.8h0M160.8 350.3h0M141.0 352.5h0M167.2 356.0h0M169.0 357.3h0M136.4 347.2h0M146.8 351.2h0M151.8 307.5h0M167.3 333.2h0M167.8 356.3h0M146.5 357.1h0M167.2 308.6h0M136.1 354.1h0M166.8 347.9h0M148.8 348.0h0M164.8 353.0h0M162.3 315.5h0M161.8 346.1h0M169.6 321.3h0M158.2 334.7h0M135.5 353.9h0M154.7 353.9h0M166.2 348.6h0M153.8 340.4h0M131.3 349.9h0M156.2 352.0h0M155.5 312.0h0M140.9 347.7h0M169.0 357.0h0M162.2 355.7h0M159.2 322.0h0M162.4 345.6h0M152.5 333.3h0M140.4 325.4h0M158.6 356.5h0M140.1 358.5h0M157.2 351.0h0M133.8 358.4h0M161.8 352.6h0M157.2 351.9h0M145.6 343.7h0M169.7 345.6h0M134.2 354.8h0M157.2 356.9h0M160.1 333.5h0M168.0 326.4h0M168.4 346.1h0M155.9 352.0h0M138.2 348.7h0M149.7 354.7h0M132.7 352.6h0M128.2 356.7h0M154.0 305.9h0M166.1 344.5h0M130.8 347.9h0M165.3 336.3h0M151.8 335.1h0M165.9 345.8h0M134.5 353.5h0M141.1 342.4h0M153.6 355.2h0M135.2 349.4h0M145.6 315.2h0M148.5 340.2h0M146.1 349.8h0M133.9 354.0h0M159.0 354.2h0M144.8 357.7h0M160.7 344.9h0M146.6 357.1h0M153.2 341.7h0M142.1 333.2h0M152.4 335.6h0M154.9 336.5h0M168.6 321.2h0M169.3 295.6h0M135.9 357.9h0M156.8 344.6h0M128.7 349.5h0M157.0 309.3h0M168.5 344.7h0M142.4 339.2h0M162.0 332.4h0M148.8 356.1h0M169.4 351.0h0M133.7 356.0h0M166.4 347.9h0M160.2 345.5h0M158.3 353.8h0M153.3 343.4h0M131.2 352.1h0M135.3 350.5h0M159.8 342.4h0M160.0 345.0h0M142.7 312.1h0M161.6 344.5h0M165.0 332.9h0M130.9 354.9h0M142.1 345.2h0M158.6 351.4h0M165.8 342.6h0M154.7 337.6h0M158.0 338.4h0M162.8 348.3h0M151.0 351.2h0M166.7 330.8h0M164.0 356.7h0M152.2 353.5h0M158.7 358.2h0M158.4 357.2h0M146.5 344.0h0M168.9 356.1h0M141.9 352.2h0M129.9 354.7h0M132.8 352.1h0M134.4 352.8h0M169.3 340.2h0M162.4 327.0h0M168.4 345.2h0M168.3 348.6h0M166.6 356.7h0M169.2 340.2h0M131.6 348.8h0M150.2 352.1h0M162.0 356.8h0M164.5 346.9h0M169.7 326.7h0M169.5 355.3h0M147.6 356.0h0M155.6 342.7h0M162.1 353.2h0M156.1 348.2h0M160.0 324.9h0M144.6 354.2h0M152.3 351.9h0M158.1 349.6h0M169.7 318.3h0M152.5 357.9h0M135.3 353.6h0M164.4 356.9h0M161.3 348.3h0M141.8 349.2h0M167.0 332.4h0M150.7 349.4h0M149.0 355.8h0M139.8 345.1h0M133.8 350.9h0M136.9 325.6h0M166.3 354.0h0M140.7 358.0h0M150.0 355.8h0M158.6 343.1h0M169.3 354.1h0M150.4 343.2h0M157.8 358.1h0M144.8 353.1h0M150.5 304.4h0M167.5 341.4h0M144.5 351.1h0M167.6 357.3h0M167.7 325.1h0M146.4 354.3h0M132.7 355.8h0M143.9 350.9h0M130.8 356.1h0M167.4 351.8h0M168.6 354.3h0M155.7 355.2h0M164.0 310.5h0M163.5 338.3h0M166.3 332.8h0M162.9 334.7h0M142.7 347.3h0M158.8 351.5h0M154.7 358.0h0M167.1 330.1h0M148.3 355.1h0M145.2 358.1h0M161.0 347.3h0M152.5 358.4h0M164.3 292.9h0M168.7 352.1h0M166.9 352.6h0M169.7 356.5h0M133.3 348.6h0M129.9 350.6h0M167.0 344.2h0M138.2 357.9h0M151.0 351.1h0M141.2 352.9h0M149.9 339.0h0M154.2 325.3h0M160.3 358.1h0M159.7 357.1h0M134.6 356.5h0M163.0 352.2h0M167.1 297.2h0M127.7 355.0h0M163.2 350.5h0M168.3 336.3h0M163.7 348.5h0M139.0 346.3h0M140.1 356.3h0M134.0 353.1h0M133.4 351.4h0M127.3 355.4h0M161.7 331.3h0M165.1 353.7h0M130.6 358.1h0M132.4 349.7h0M153.7 338.1h0M162.3 352.0h0M166.0 327.7h0M128.5 351.8h0M148.0 346.0h0M149.4 351.4h0M166.3 356.2h0M150.0 223.9h0M167.5 138.4h0M157.4 120.8h0M162.9 298.5h0M166.9 253.7h0M148.8 108.4h0M152.1 283.7h0M156.5 234.2h0M164.3 259.8h0M157.1 211.8h0M154.1 169.2h0M149.0 202.3h0M156.7 280.0h0M151.6 205.2h0M168.8 184.6h0M166.8 293.2h0M156.4 208.9h0M149.3 298.7h0M155.8 252.3h0M169.0 263.6h0M161.5 289.7h0M158.2 197.1h0M156.1 193.9h0M151.8 201.8h0M150.6 201.0h0M156.8 186.9h0M169.0 224.2h0M168.4 115.2h0M166.5 214.1h0M155.0 227.5h0M160.5 173.4h0M151.5 277.9h0M153.0 118.7h0M151.3 210.7h0M155.7 263.7h0M148.6 274.4h0M166.5 263.5h0M168.0 107.6h0M151.8 266.3h0M154.7 292.2h0M152.3 143.8h0M162.8 287.8h0M169.3 264.4h0M168.0 265.4h0M148.4 288.6h0M168.1 286.5h0M157.7 149.4h0M150.8 121.7h0M154.2 299.2h0M158.9 255.4h0M155.7 146.4h0M160.7 272.4h0M149.3 298.8h0M161.1 144.8h0M154.9 172.9h0M166.2 298.5h0M160.8 177.7h0M148.6 249.7h0M169.2 211.9h0M152.1 289.2h0M160.0 265.2h0M156.1 118.4h0M160.1 245.7h0M150.5 256.1h0M153.1 147.3h0M152.5 212.5h0M156.7 235.6h0M155.6 297.9h0M156.2 187.7h0M156.1 276.1h0M155.8 268.1h0M165.4 278.7h0M157.7 252.9h0M160.9 143.9h0M160.0 225.5h0M132.8 109.2h0M132.8 259.6h0M124.8 285.0h0M139.4 274.0h0M142.1 250.3h0M138.1 318.8h0M132.8 328.9h0M127.4 339.9h0M131.4 335.7h0M118.1 102.5h0M140.7 102.5h0M144.7 102.5h0M147.4 102.5h0M152.7 102.5h0M155.4 102.5h0M156.7 102.5h0M159.4 102.5h0M162.0 102.5h0M164.7 102.5h0M168.0 102.5h0M123.6 356.2h0M133.5 354.7h0M117.7 355.1h0M79.5 358.1h0M84.9 357.1h0M72.3 357.4h0M125.8 358.4h0M82.1 358.3h0M124.6 356.7h0M85.4 357.6h0M129.0 354.3h0M74.9 357.3h0M121.2 357.2h0M131.8 358.4h0M102.0 355.6h0M91.9 354.3h0M109.8 355.2h0M132.6 354.9h0M78.5 358.3h0M115.0 358.1h0M97.8 357.3h0M129.3 356.7h0M80.2 357.8h0M121.3 358.4h0M106.2 356.3h0M111.1 354.3h0M103.4 356.8h0M96.6 357.7h0M84.4 357.5h0M114.3 357.8h0M100.9 358.4h0M132.0 355.8h0M81.6 355.5h0M75.2 354.4h0M115.2 356.9h0M123.9 358.0h0M113.6 358.0h0M101.6 356.5h0M76.1 355.3h0M75.4 358.2h0M99.4 355.1h0M130.0 357.6h0M81.8 358.3h0M116.4 357.9h0M121.4 355.7h0M124.1 358.3h0M116.7 356.2h0M111.1 354.5h0M116.3 356.7h0M102.4 354.5h0"/>
<path clip-path="url(#vc)" fill="none" stroke="#cc3a40" stroke-width="4.4" stroke-linecap="round" d="M199.6 344.4h0M207.8 358.2h0M213.3 352.9h0M199.9 350.2h0M212.1 350.7h0M211.8 353.5h0M211.8 345.7h0M202.2 350.6h0M197.1 358.1h0M200.2 353.4h0M202.1 354.1h0M200.7 356.8h0M207.4 357.8h0M206.8 345.2h0M199.2 357.6h0M203.5 357.3h0M211.0 357.7h0M206.5 348.5h0M208.7 352.2h0M210.4 353.4h0M204.4 345.4h0M208.2 351.8h0M205.0 351.8h0M199.0 344.3h0M197.4 352.0h0M204.4 354.7h0M209.9 346.4h0M211.3 358.3h0M209.4 349.7h0M203.0 357.9h0M207.4 356.9h0M203.3 354.9h0M209.7 355.5h0M200.7 347.5h0M202.6 347.8h0M208.1 344.3h0M211.7 348.5h0M209.9 358.3h0M198.2 350.6h0M198.2 343.1h0M199.4 338.5h0M200.3 350.6h0M198.1 357.5h0M212.9 357.2h0M204.1 345.6h0M197.2 342.2h0M201.6 348.3h0M203.3 347.3h0M208.6 346.7h0M209.5 351.4h0M198.6 353.6h0M200.6 346.6h0M211.6 357.3h0M202.7 345.8h0M205.3 352.1h0M213.6 353.9h0M202.3 347.5h0M197.5 343.7h0M204.4 352.5h0M199.1 340.3h0M199.2 339.2h0M200.7 339.8h0M202.1 341.2h0M198.6 348.4h0M209.8 355.3h0M196.9 340.2h0M212.4 352.1h0M206.2 354.2h0M199.5 348.8h0M196.9 350.1h0M199.5 349.7h0M212.4 346.5h0M201.2 349.5h0M201.3 352.3h0M197.9 343.1h0M207.1 345.2h0M200.3 345.1h0M200.4 357.3h0M197.5 352.1h0M198.3 339.3h0M198.5 346.9h0M213.9 357.7h0M205.0 346.9h0M213.1 350.2h0M200.6 354.1h0M203.3 345.9h0M212.0 356.0h0M208.5 344.2h0M205.2 348.2h0M206.7 356.4h0M197.3 347.3h0M213.3 348.3h0M213.0 356.8h0M207.9 345.4h0M201.8 342.0h0M200.4 356.7h0M200.0 341.8h0M198.6 358.2h0M197.1 345.7h0M196.9 346.6h0M202.9 341.1h0M203.2 348.2h0M199.7 350.0h0M203.3 355.6h0M213.9 350.3h0M200.3 341.6h0M212.5 354.7h0M200.0 339.5h0M204.3 344.3h0M206.1 352.4h0M198.1 354.5h0M210.9 354.1h0M198.4 347.9h0M201.1 356.9h0M204.4 342.0h0M211.5 354.0h0M210.9 355.9h0M201.2 347.3h0M206.1 346.7h0M199.8 355.9h0M201.7 352.1h0M201.0 351.3h0M204.4 344.1h0M202.2 354.3h0M213.8 354.7h0M201.1 355.3h0M211.1 352.3h0M212.7 354.1h0M211.4 349.5h0M213.3 354.5h0M210.7 356.5h0M202.5 356.4h0M205.5 347.1h0M209.5 356.7h0M203.2 355.9h0M208.8 348.4h0M208.8 347.7h0M206.1 357.8h0M199.2 356.7h0M201.4 354.1h0M211.1 354.3h0M201.4 349.5h0M204.9 356.1h0M198.7 339.4h0M204.1 356.2h0M212.2 347.2h0M207.2 354.6h0M211.6 351.2h0M210.4 352.8h0M202.6 355.8h0M198.2 356.6h0M210.4 352.8h0M212.7 353.5h0M207.1 358.1h0M200.2 352.0h0M208.9 358.2h0M203.5 357.7h0M198.3 343.5h0M201.7 341.4h0M207.8 355.9h0M204.9 351.4h0M204.8 342.9h0M199.1 352.7h0M203.5 355.9h0M199.1 344.6h0M205.8 355.0h0M204.3 350.5h0M197.2 352.7h0M203.8 352.2h0M198.9 354.9h0M208.7 358.3h0M212.5 354.1h0M206.2 344.5h0M206.4 347.9h0M198.5 340.4h0M199.2 352.7h0M197.7 358.3h0M211.1 356.1h0M213.4 355.4h0M212.4 347.3h0M206.7 344.0h0M207.3 355.2h0M206.2 354.9h0M212.2 353.4h0M209.8 355.2h0M204.0 344.3h0M203.7 346.5h0M209.4 345.1h0M199.0 350.6h0M206.1 342.2h0M201.7 351.5h0M207.0 355.2h0M201.8 343.2h0M199.6 345.1h0M210.3 352.8h0M204.5 348.0h0M207.8 358.0h0M205.4 349.7h0M211.1 358.3h0M208.9 351.2h0M213.5 348.4h0M207.6 357.5h0M209.9 354.7h0M211.5 354.6h0M207.1 357.4h0M213.6 352.4h0M198.1 341.7h0M198.3 346.3h0M203.8 357.1h0M208.6 355.5h0M206.7 351.4h0M212.3 349.4h0M206.6 353.0h0M201.4 339.5h0M199.7 349.2h0M213.8 346.7h0M206.6 345.7h0M196.9 355.0h0M201.0 341.3h0M203.4 351.3h0M202.5 341.1h0M213.5 354.2h0M200.4 343.4h0M200.3 344.4h0M196.9 353.5h0M208.1 357.7h0M202.6 355.8h0M197.4 350.9h0M206.2 343.8h0M199.1 348.5h0M198.7 339.6h0M210.0 346.9h0M196.9 339.0h0M213.1 351.9h0M211.6 350.4h0M199.4 345.7h0M199.5 339.2h0M203.5 343.5h0M197.3 346.3h0M210.1 350.2h0M204.3 349.0h0M210.6 349.4h0M210.3 347.1h0M206.3 358.3h0M208.3 349.5h0M214.0 350.6h0M200.4 356.8h0M199.8 356.0h0M203.7 346.1h0M198.7 351.9h0M207.0 347.1h0M212.5 346.0h0M206.2 347.0h0M201.0 348.4h0M205.8 357.4h0M206.2 345.2h0M197.0 343.7h0M208.5 355.5h0M200.1 341.9h0M200.4 342.6h0M197.6 340.7h0M209.6 353.4h0M208.9 347.9h0M199.2 346.8h0M202.3 354.1h0M208.5 355.8h0M203.5 354.1h0M206.7 358.5h0M202.8 357.5h0M209.8 348.8h0M209.5 345.3h0M208.4 345.1h0M198.0 340.9h0M203.8 353.4h0M205.5 355.1h0M197.4 350.5h0M206.2 347.9h0M209.9 345.9h0M205.7 351.4h0M212.9 347.5h0M199.9 341.4h0M208.7 353.1h0M208.5 357.0h0M208.9 349.5h0M203.3 351.9h0M205.8 343.7h0M210.3 352.0h0M214.0 352.4h0M201.6 347.4h0M200.7 353.0h0M198.8 354.6h0M200.0 348.1h0M200.1 356.9h0M201.5 347.6h0M200.4 348.2h0M198.4 339.2h0M205.6 358.0h0M205.7 354.9h0M200.8 354.4h0M207.8 344.4h0M200.3 349.4h0M203.2 341.2h0M197.9 348.0h0M197.4 354.6h0M205.4 357.7h0M210.0 349.9h0M213.7 347.5h0M197.7 349.3h0M197.1 338.2h0M202.3 351.6h0M207.3 358.4h0M212.2 347.0h0M202.4 350.9h0M204.6 353.0h0M196.9 336.9h0M199.6 350.3h0M212.1 356.6h0M200.3 352.1h0M211.6 351.5h0M199.0 339.1h0M199.2 341.8h0M201.3 351.3h0M201.8 341.3h0M202.7 347.6h0M203.4 354.6h0M206.1 355.7h0M200.4 357.7h0M204.8 355.6h0M205.0 355.9h0M208.7 356.4h0M213.8 356.8h0M204.7 352.6h0M210.9 358.2h0M211.3 355.7h0M205.1 348.7h0M213.3 352.9h0M197.7 346.0h0M200.5 346.2h0M208.7 348.2h0M197.7 355.3h0M198.5 343.8h0M197.5 341.5h0M211.6 349.5h0M202.4 349.5h0M199.8 356.7h0M211.0 355.8h0M207.5 351.6h0M199.7 352.4h0M199.1 351.1h0M208.3 355.0h0M213.4 353.2h0M199.2 342.4h0M196.9 356.9h0M212.4 346.2h0M207.0 356.4h0M198.3 341.1h0M198.8 354.5h0M200.2 354.0h0M198.9 340.4h0M210.0 345.1h0M213.7 352.3h0M202.6 345.3h0M199.6 354.0h0M200.3 357.0h0M212.3 354.6h0M207.1 354.2h0M212.3 354.9h0M208.9 349.6h0M199.9 355.2h0M199.4 351.6h0M209.7 350.8h0M211.8 345.9h0M197.7 347.3h0M199.9 345.0h0M200.8 349.7h0M207.7 346.5h0M199.3 357.8h0M203.5 351.9h0M203.9 355.3h0M211.4 354.3h0M197.0 352.7h0M203.8 346.5h0M204.0 348.3h0M201.9 346.6h0M197.6 349.9h0M202.1 355.7h0M208.1 355.6h0M213.9 352.5h0M213.3 355.9h0M212.3 353.3h0M211.6 346.3h0M197.4 352.7h0M212.1 357.4h0M199.6 339.1h0M210.6 347.5h0M208.6 357.2h0M210.5 346.3h0M203.6 348.3h0M202.5 355.6h0M205.8 346.4h0M211.1 353.2h0M206.7 343.8h0M203.5 341.4h0M198.8 357.4h0M204.8 343.9h0M213.8 358.1h0M199.6 340.5h0M209.2 351.9h0M209.9 357.5h0M213.2 354.0h0M209.9 354.4h0M206.3 347.6h0M203.8 346.4h0M202.7 352.4h0M206.2 347.2h0M199.4 358.4h0M200.9 354.6h0M211.4 357.3h0M197.6 355.7h0M212.5 355.2h0M198.7 343.6h0M209.0 340.2h0M234.0 354.4h0M231.7 355.9h0M221.5 356.4h0M224.2 357.3h0M198.1 350.2h0M197.3 355.6h0M215.8 348.9h0M205.3 349.3h0M198.9 349.0h0M197.3 344.9h0M201.6 348.6h0M206.3 348.5h0M196.9 351.6h0M204.7 357.2h0M198.3 336.5h0M228.1 333.2h0M219.3 352.0h0M199.3 341.4h0M197.8 343.6h0M222.5 351.8h0M221.2 344.0h0M234.8 353.6h0M198.0 358.4h0M210.6 349.4h0M225.0 345.3h0M206.2 344.4h0M200.1 356.3h0M197.8 357.2h0M201.1 358.5h0M203.2 352.6h0M215.4 355.2h0M197.3 353.2h0M220.8 357.2h0M197.9 347.5h0M200.5 356.5h0M206.4 343.6h0M197.0 353.5h0M202.7 331.6h0M233.2 330.4h0M233.2 356.6h0M224.0 347.0h0M201.4 357.6h0M209.9 348.2h0M224.5 338.3h0M196.9 351.9h0M205.1 355.4h0M209.6 337.5h0M214.0 340.0h0M199.9 353.3h0M202.5 353.9h0M236.5 346.5h0M197.3 355.4h0M225.0 357.6h0M212.0 355.0h0M236.0 355.2h0M211.9 355.6h0M204.6 355.0h0M234.2 344.7h0M212.8 348.4h0M212.6 346.4h0M225.4 354.6h0M202.8 351.2h0M212.7 355.7h0M222.8 327.1h0M199.5 346.9h0M200.0 357.9h0M220.8 339.4h0M226.9 356.0h0M218.0 352.3h0M214.8 357.8h0M198.0 328.0h0M226.4 348.3h0M235.6 354.3h0M228.8 348.3h0M209.5 357.8h0M197.8 356.5h0M206.2 356.9h0M230.9 356.4h0M216.5 344.8h0M198.2 317.5h0M233.3 356.7h0M215.5 356.7h0M221.3 350.7h0M197.6 354.2h0M213.0 284.7h0M223.1 313.6h0M198.4 355.8h0M200.8 347.4h0M227.9 336.0h0M209.7 341.6h0M222.3 356.8h0M221.8 354.6h0M209.4 345.5h0M205.4 345.9h0M220.1 352.2h0M203.7 346.2h0M216.5 333.8h0M197.4 350.1h0M220.3 350.4h0M221.5 344.4h0M225.4 356.0h0M208.5 347.6h0M224.6 357.8h0M199.5 356.4h0M196.9 344.7h0M229.0 344.7h0M197.9 357.6h0M199.7 358.0h0M200.9 326.4h0M196.9 356.4h0M199.8 358.4h0M204.6 340.8h0M198.5 349.7h0M231.2 340.1h0M197.1 328.0h0M201.2 351.5h0M199.4 355.5h0M209.9 336.4h0M197.3 351.9h0M210.1 351.3h0M198.4 354.0h0M221.0 355.1h0M204.0 351.6h0M203.5 357.4h0M227.2 341.7h0M198.4 332.0h0M208.9 358.2h0M219.4 344.9h0M207.7 356.6h0M236.4 339.0h0M236.5 358.0h0M197.3 355.0h0M233.0 357.9h0M229.2 335.7h0M197.6 352.6h0M221.0 328.5h0M202.5 357.1h0M200.5 343.4h0M209.6 332.2h0M197.3 350.2h0M223.0 346.5h0M234.1 348.4h0M201.2 356.9h0M235.8 342.7h0M232.6 353.2h0M206.0 343.6h0M206.9 315.6h0M215.0 352.5h0M197.2 336.1h0M199.2 340.2h0M210.8 352.9h0M203.2 356.1h0M208.7 350.3h0M198.6 357.1h0M233.6 345.8h0M205.7 349.3h0M199.9 327.1h0M197.0 351.6h0M199.1 280.3h0M204.7 327.8h0M206.0 287.6h0M211.9 309.3h0M213.1 302.8h0M206.1 301.9h0M208.0 331.3h0M206.5 278.5h0M197.1 324.8h0M206.6 337.9h0M208.6 316.9h0M202.9 311.2h0M207.4 311.1h0M204.1 309.0h0M212.5 274.6h0M205.1 313.0h0M206.5 294.8h0M199.9 297.6h0M209.3 312.0h0M204.8 309.6h0M199.6 282.6h0M205.7 331.8h0M200.6 294.2h0M202.9 323.7h0M201.7 303.4h0M205.6 273.1h0M206.6 320.9h0M210.4 289.8h0M205.7 321.5h0M211.9 331.6h0M211.1 335.5h0M197.8 283.9h0M202.9 274.9h0M198.7 295.1h0M211.7 326.2h0M197.7 278.3h0M201.1 317.2h0M206.9 316.3h0M199.1 284.6h0M212.9 339.8h0M201.5 297.0h0M198.8 321.2h0M199.1 292.8h0M204.0 326.3h0M205.1 335.2h0M207.3 308.5h0M198.7 307.4h0M199.9 323.4h0M202.3 325.7h0M198.1 278.0h0M198.4 335.4h0M202.8 301.4h0M203.3 323.9h0M209.5 273.2h0M213.5 274.6h0M199.6 295.1h0M209.6 312.9h0M197.6 317.3h0M200.1 336.4h0M198.1 310.5h0M198.0 287.0h0M200.0 293.3h0M206.2 324.4h0M210.1 334.9h0M212.2 318.3h0M198.4 260.1h0M214.2 164.2h0M218.4 204.8h0M197.4 184.3h0M220.8 122.6h0M208.3 158.2h0M215.0 157.1h0M216.7 197.2h0M223.1 167.3h0M226.6 206.5h0M216.8 202.0h0M210.7 137.6h0M219.7 178.6h0M218.6 149.1h0M208.4 179.4h0M224.2 192.3h0M201.2 154.1h0M197.8 220.7h0M203.0 140.0h0M216.9 174.2h0M226.8 233.7h0M209.3 166.3h0M201.2 140.4h0M221.1 237.1h0M226.8 216.2h0M199.5 187.7h0M217.4 236.9h0M212.8 164.0h0M216.1 142.8h0M208.2 198.5h0M205.7 267.6h0M222.5 221.4h0M241.8 189.5h0M233.8 231.8h0M241.8 233.4h0M252.5 303.6h0M224.5 295.1h0M220.5 278.2h0M244.5 333.1h0M237.8 330.6h0M225.9 324.7h0M257.8 337.4h0M235.2 339.9h0M200.6 102.5h0M203.0 102.5h0M205.3 102.5h0M207.7 102.5h0M210.1 102.5h0M212.5 102.5h0M214.8 102.5h0M217.2 102.5h0M219.6 102.5h0M222.0 102.5h0M224.3 102.5h0M226.7 102.5h0M229.1 102.5h0M231.5 102.5h0M233.8 102.5h0M244.5 102.5h0M253.8 102.5h0M263.1 102.5h0M283.8 356.4h0M274.0 356.8h0M265.8 358.0h0M287.8 354.4h0M304.3 356.7h0M264.6 354.6h0M246.0 356.9h0M286.7 357.4h0M238.2 356.8h0M236.2 355.2h0M280.0 356.6h0M244.4 354.4h0M289.0 356.2h0M246.3 355.0h0M262.7 356.5h0M253.8 354.9h0M239.8 355.9h0M245.3 353.5h0M276.4 355.4h0M240.6 356.4h0M281.9 355.2h0M264.0 356.8h0M245.9 355.3h0M293.4 357.4h0M244.4 353.5h0M302.1 354.2h0M270.9 357.5h0M287.5 357.3h0M306.0 355.8h0M263.3 355.3h0M281.7 356.8h0M229.9 354.1h0M287.1 358.0h0M231.1 355.6h0M246.5 356.4h0M290.5 353.7h0M281.1 354.8h0M251.5 353.9h0M232.7 354.4h0M233.7 357.6h0M289.2 356.8h0M246.0 356.8h0M244.3 358.0h0M224.1 354.3h0M270.7 354.3h0M283.4 354.5h0M301.6 358.4h0M304.3 353.5h0M240.2 354.2h0M227.7 357.8h0"/>
<line x1="170.0" y1="100.0" x2="170.0" y2="360.0" stroke="#000" stroke-width="2.4" stroke-dasharray="6 4"/>
<line x1="196.6" y1="100.0" x2="196.6" y2="360.0" stroke="#000" stroke-width="2.4" stroke-dasharray="6 4"/>
<line x1="58.5" y1="357.6" x2="303.5" y2="357.6" stroke="#000" stroke-width="2.4" stroke-dasharray="6 4"/>
<rect x="52.5" y="99.0" width="263.0" height="262.0" fill="none" stroke="#000" stroke-width="2.6"/>
<line x1="48.5" y1="274.0" x2="52.5" y2="274.0" stroke="#333" stroke-width="1.5"/>
<text x="47.5" y="279.0" font-size="14.5" text-anchor="end" fill="#111">100</text>
<line x1="48.5" y1="189.5" x2="52.5" y2="189.5" stroke="#333" stroke-width="1.5"/>
<text x="47.5" y="194.5" font-size="14.5" text-anchor="end" fill="#111">200</text>
<line x1="48.5" y1="105.0" x2="52.5" y2="105.0" stroke="#333" stroke-width="1.5"/>
<text x="47.5" y="110.0" font-size="14.5" text-anchor="end" fill="#111">300</text>
<line x1="116.8" y1="361.0" x2="116.8" y2="365.0" stroke="#333" stroke-width="1.5"/>
<text x="116.8" y="376.0" font-size="14.5" text-anchor="middle" fill="#111">-5</text>
<line x1="183.3" y1="361.0" x2="183.3" y2="365.0" stroke="#333" stroke-width="1.5"/>
<text x="183.3" y="376.0" font-size="14.5" text-anchor="middle" fill="#111">0</text>
<line x1="249.8" y1="361.0" x2="249.8" y2="365.0" stroke="#333" stroke-width="1.5"/>
<text x="249.8" y="376.0" font-size="14.5" text-anchor="middle" fill="#111">5</text>
<text x="184.0" y="392.5" font-size="14.5" text-anchor="middle" fill="#222" font-weight="bold">log2(FC)</text>
<text x="20.0" y="229.0" font-size="14.7" text-anchor="middle" fill="#222" transform="rotate(-90 20.0 229.0)">-log10(FDR)</text>
<text x="183.0" y="86.0" font-size="14.8" text-anchor="middle" fill="#222">Volcano plot</text>
<circle cx="327.5" cy="210.5" r="3.6" fill="#cc3a40"/>
<text x="336.0" y="215.5" font-size="14.5" text-anchor="start" fill="#111">up</text>
<circle cx="327.5" cy="227.8" r="3.6" fill="#8cc6e3"/>
<text x="336.0" y="232.8" font-size="14.5" text-anchor="start" fill="#111">nodiff</text>
<circle cx="327.5" cy="245.1" r="3.6" fill="#dca94c"/>
<text x="336.0" y="250.1" font-size="14.5" text-anchor="start" fill="#111">down</text>
<text x="551.0" y="90.5" font-size="14.9" text-anchor="middle" fill="#111">Enrichment plot:KO04151 PI3K−Akt signaling pathway</text>
<rect x="416.5" y="102.7" width="270.3" height="122.2" fill="#fff" stroke="none" stroke-width="0"/>
<line x1="416.5" y1="111.4" x2="686.8" y2="111.4" stroke="#eeeeee" stroke-width="0.6" stroke-dasharray="3 3"/>
<line x1="416.5" y1="128.7" x2="686.8" y2="128.7" stroke="#eeeeee" stroke-width="0.6" stroke-dasharray="3 3"/>
<line x1="416.5" y1="163.3" x2="686.8" y2="163.3" stroke="#eeeeee" stroke-width="0.6" stroke-dasharray="3 3"/>
<line x1="416.5" y1="180.6" x2="686.8" y2="180.6" stroke="#eeeeee" stroke-width="0.6" stroke-dasharray="3 3"/>
<line x1="416.5" y1="197.9" x2="686.8" y2="197.9" stroke="#eeeeee" stroke-width="0.6" stroke-dasharray="3 3"/>
<line x1="416.5" y1="215.2" x2="686.8" y2="215.2" stroke="#eeeeee" stroke-width="0.6" stroke-dasharray="3 3"/>
<line x1="416.5" y1="146.0" x2="686.8" y2="146.0" stroke="#9a9a9a" stroke-width="1.2" stroke-dasharray="5 4"/>
<path d="M416.5 135.1 L418.4 123.0 L421.1 120.3 L423.8 118.9 L427.8 118.4 L430.5 116.8 L434.6 117.6 L440.0 120.3 L448.1 121.6 L456.2 123.0 L464.3 125.7 L475.1 131.1 L488.6 137.8 L502.2 145.9 L529.2 161.6 L556.2 175.7 L583.2 190.5 L599.5 202.7 L610.3 205.4 L621.1 208.1 L630.5 210.8 L637.3 208.6 L648.1 208.1 L658.9 205.4 L664.3 201.4 L668.4 189.2 L673.8 175.7 L677.8 162.2 L681.1 145.9" fill="none" stroke="#8cc85a" stroke-width="1.3"/>
<text x="419.0" y="198.8" font-size="10.3" text-anchor="start" fill="#111">Nominal p−value: 0.0333</text>
<text x="419.0" y="210.0" font-size="10.3" text-anchor="start" fill="#111">ES: −0.3802</text>
<text x="419.0" y="221.0" font-size="10.3" text-anchor="start" fill="#111">Normalized ES: −1.2079</text>
<line x1="412.5" y1="111.4" x2="416.5" y2="111.4" stroke="#222" stroke-width="0.9"/>
<text x="409.5" y="111.4" font-size="10" text-anchor="middle" fill="#111" transform="rotate(-90 409.5 111.4)">0.2</text>
<line x1="412.5" y1="128.7" x2="416.5" y2="128.7" stroke="#222" stroke-width="0.9"/>
<text x="409.5" y="128.7" font-size="10" text-anchor="middle" fill="#111" transform="rotate(-90 409.5 128.7)">0.1</text>
<line x1="412.5" y1="146.0" x2="416.5" y2="146.0" stroke="#222" stroke-width="0.9"/>
<text x="409.5" y="146.0" font-size="10" text-anchor="middle" fill="#111" transform="rotate(-90 409.5 146.0)">0.0</text>
<line x1="412.5" y1="163.3" x2="416.5" y2="163.3" stroke="#222" stroke-width="0.9"/>
<line x1="412.5" y1="180.6" x2="416.5" y2="180.6" stroke="#222" stroke-width="0.9"/>
<text x="409.5" y="180.6" font-size="10" text-anchor="middle" fill="#111" transform="rotate(-90 409.5 180.6)">−0.2</text>
<line x1="412.5" y1="197.9" x2="416.5" y2="197.9" stroke="#222" stroke-width="0.9"/>
<line x1="412.5" y1="215.2" x2="416.5" y2="215.2" stroke="#222" stroke-width="0.9"/>
<text x="409.5" y="215.2" font-size="10" text-anchor="middle" fill="#111" transform="rotate(-90 409.5 215.2)">−0.4</text>
<text x="397.5" y="163.8" font-size="10.6" text-anchor="middle" fill="#111" transform="rotate(-90 397.5 163.8)">Enrichment score (ES)</text>
<rect x="416.5" y="102.7" width="270.3" height="122.2" fill="none" stroke="#333" stroke-width="1.1"/>
<rect x="416.5" y="224.9" width="270.3" height="41.3" fill="#fff" stroke="none" stroke-width="0"/>
<rect x="417.5" y="224.9" width="1.2" height="41.3" fill="#1a1a1a" stroke="none" stroke-width="0"/>
<rect x="418.7" y="224.9" width="1.6" height="41.3" fill="#1a1a1a" stroke="none" stroke-width="0"/>
<rect x="420.6" y="224.9" width="3.0" height="41.3" fill="#1a1a1a" stroke="none" stroke-width="0"/>
<rect x="423.6" y="224.9" width="2.5" height="41.3" fill="#111" stroke="none" stroke-width="0"/>
<rect x="426.4" y="224.9" width="1.6" height="41.3" fill="#000" stroke="none" stroke-width="0"/>
<rect x="428.2" y="224.9" width="1.2" height="41.3" fill="#000" stroke="none" stroke-width="0"/>
<rect x="429.7" y="224.9" width="2.0" height="41.3" fill="#2a2a2a" stroke="none" stroke-width="0"/>
<rect x="431.7" y="224.9" width="1.2" height="41.3" fill="#2a2a2a" stroke="none" stroke-width="0"/>
<rect x="432.9" y="224.9" width="4.0" height="41.3" fill="#000" stroke="none" stroke-width="0"/>
<rect x="438.7" y="224.9" width="3.0" height="41.3" fill="#111" stroke="none" stroke-width="0"/>
<rect x="441.7" y="224.9" width="1.2" height="41.3" fill="#1a1a1a" stroke="none" stroke-width="0"/>
<rect x="442.9" y="224.9" width="1.6" height="41.3" fill="#111" stroke="none" stroke-width="0"/>
<rect x="445.0" y="224.9" width="2.0" height="41.3" fill="#1a1a1a" stroke="none" stroke-width="0"/>
<rect x="448.8" y="224.9" width="3.0" height="41.3" fill="#999" stroke="none" stroke-width="0"/>
<rect x="453.6" y="224.9" width="3.0" height="41.3" fill="#1a1a1a" stroke="none" stroke-width="0"/>
<rect x="456.9" y="224.9" width="1.2" height="41.3" fill="#777" stroke="none" stroke-width="0"/>
<rect x="458.1" y="224.9" width="1.0" height="41.3" fill="#333" stroke="none" stroke-width="0"/>
<rect x="459.4" y="224.9" width="1.2" height="41.3" fill="#555" stroke="none" stroke-width="0"/>
<rect x="462.4" y="224.9" width="4.0" height="41.3" fill="#2a2a2a" stroke="none" stroke-width="0"/>
<rect x="466.9" y="224.9" width="2.0" height="41.3" fill="#000" stroke="none" stroke-width="0"/>
<rect x="470.7" y="224.9" width="2.5" height="41.3" fill="#777" stroke="none" stroke-width="0"/>
<rect x="475.0" y="224.9" width="2.5" height="41.3" fill="#444" stroke="none" stroke-width="0"/>
<rect x="478.5" y="224.9" width="3.0" height="41.3" fill="#111" stroke="none" stroke-width="0"/>
<rect x="482.0" y="224.9" width="2.5" height="41.3" fill="#2a2a2a" stroke="none" stroke-width="0"/>
<rect x="484.5" y="224.9" width="3.0" height="41.3" fill="#777" stroke="none" stroke-width="0"/>
<rect x="487.5" y="224.9" width="3.0" height="41.3" fill="#2a2a2a" stroke="none" stroke-width="0"/>
<rect x="490.7" y="224.9" width="3.0" height="41.3" fill="#1a1a1a" stroke="none" stroke-width="0"/>
<rect x="494.2" y="224.9" width="1.6" height="41.3" fill="#222" stroke="none" stroke-width="0"/>
<rect x="495.8" y="224.9" width="2.0" height="41.3" fill="#2a2a2a" stroke="none" stroke-width="0"/>
<rect x="498.1" y="224.9" width="1.0" height="41.3" fill="#777" stroke="none" stroke-width="0"/>
<rect x="499.1" y="224.9" width="2.0" height="41.3" fill="#333" stroke="none" stroke-width="0"/>
<rect x="501.1" y="224.9" width="1.6" height="41.3" fill="#999" stroke="none" stroke-width="0"/>
<rect x="504.5" y="224.9" width="4.0" height="41.3" fill="#222" stroke="none" stroke-width="0"/>
<rect x="508.5" y="224.9" width="2.5" height="41.3" fill="#1a1a1a" stroke="none" stroke-width="0"/>
<rect x="511.0" y="224.9" width="2.0" height="41.3" fill="#1a1a1a" stroke="none" stroke-width="0"/>
<rect x="514.0" y="224.9" width="2.5" height="41.3" fill="#555" stroke="none" stroke-width="0"/>
<rect x="516.7" y="224.9" width="1.0" height="41.3" fill="#555" stroke="none" stroke-width="0"/>
<rect x="517.7" y="224.9" width="1.0" height="41.3" fill="#222" stroke="none" stroke-width="0"/>
<rect x="518.7" y="224.9" width="1.2" height="41.3" fill="#999" stroke="none" stroke-width="0"/>
<rect x="520.4" y="224.9" width="2.5" height="41.3" fill="#555" stroke="none" stroke-width="0"/>
<rect x="522.9" y="224.9" width="3.0" height="41.3" fill="#111" stroke="none" stroke-width="0"/>
<rect x="526.9" y="224.9" width="1.6" height="41.3" fill="#777" stroke="none" stroke-width="0"/>
<rect x="528.5" y="224.9" width="4.0" height="41.3" fill="#999" stroke="none" stroke-width="0"/>
<rect x="534.3" y="224.9" width="2.0" height="41.3" fill="#000" stroke="none" stroke-width="0"/>
<rect x="538.1" y="224.9" width="3.0" height="41.3" fill="#1a1a1a" stroke="none" stroke-width="0"/>
<rect x="541.1" y="224.9" width="2.5" height="41.3" fill="#000" stroke="none" stroke-width="0"/>
<rect x="544.1" y="224.9" width="2.0" height="41.3" fill="#2a2a2a" stroke="none" stroke-width="0"/>
<rect x="546.3" y="224.9" width="1.6" height="41.3" fill="#999" stroke="none" stroke-width="0"/>
<rect x="548.4" y="224.9" width="2.5" height="41.3" fill="#555" stroke="none" stroke-width="0"/>
<rect x="551.9" y="224.9" width="1.0" height="41.3" fill="#999" stroke="none" stroke-width="0"/>
<rect x="553.9" y="224.9" width="1.0" height="41.3" fill="#999" stroke="none" stroke-width="0"/>
<rect x="554.9" y="224.9" width="1.0" height="41.3" fill="#2a2a2a" stroke="none" stroke-width="0"/>
<rect x="556.9" y="224.9" width="2.0" height="41.3" fill="#777" stroke="none" stroke-width="0"/>
<rect x="559.9" y="224.9" width="2.5" height="41.3" fill="#555" stroke="none" stroke-width="0"/>
<rect x="562.7" y="224.9" width="1.0" height="41.3" fill="#1a1a1a" stroke="none" stroke-width="0"/>
<rect x="563.7" y="224.9" width="3.0" height="41.3" fill="#111" stroke="none" stroke-width="0"/>
<rect x="567.7" y="224.9" width="1.6" height="41.3" fill="#2a2a2a" stroke="none" stroke-width="0"/>
<rect x="569.6" y="224.9" width="1.6" height="41.3" fill="#1a1a1a" stroke="none" stroke-width="0"/>
<rect x="572.2" y="224.9" width="1.2" height="41.3" fill="#777" stroke="none" stroke-width="0"/>
<rect x="573.4" y="224.9" width="1.6" height="41.3" fill="#777" stroke="none" stroke-width="0"/>
<rect x="575.5" y="224.9" width="1.6" height="41.3" fill="#999" stroke="none" stroke-width="0"/>
<rect x="577.1" y="224.9" width="4.0" height="41.3" fill="#111" stroke="none" stroke-width="0"/>
<rect x="581.1" y="224.9" width="1.6" height="41.3" fill="#000" stroke="none" stroke-width="0"/>
<rect x="582.9" y="224.9" width="3.0" height="41.3" fill="#555" stroke="none" stroke-width="0"/>
<rect x="586.1" y="224.9" width="1.6" height="41.3" fill="#333" stroke="none" stroke-width="0"/>
<rect x="589.5" y="224.9" width="3.0" height="41.3" fill="#222" stroke="none" stroke-width="0"/>
<rect x="592.5" y="224.9" width="2.5" height="41.3" fill="#777" stroke="none" stroke-width="0"/>
<rect x="596.0" y="224.9" width="3.0" height="41.3" fill="#444" stroke="none" stroke-width="0"/>
<rect x="599.3" y="224.9" width="4.0" height="41.3" fill="#333" stroke="none" stroke-width="0"/>
<rect x="603.3" y="224.9" width="1.6" height="41.3" fill="#2a2a2a" stroke="none" stroke-width="0"/>
<rect x="605.1" y="224.9" width="2.5" height="41.3" fill="#000" stroke="none" stroke-width="0"/>
<rect x="608.1" y="224.9" width="1.2" height="41.3" fill="#222" stroke="none" stroke-width="0"/>
<rect x="609.3" y="224.9" width="2.5" height="41.3" fill="#444" stroke="none" stroke-width="0"/>
<rect x="612.8" y="224.9" width="4.0" height="41.3" fill="#1a1a1a" stroke="none" stroke-width="0"/>
<rect x="616.8" y="224.9" width="4.0" height="41.3" fill="#555" stroke="none" stroke-width="0"/>
<rect x="621.8" y="224.9" width="4.0" height="41.3" fill="#2a2a2a" stroke="none" stroke-width="0"/>
<rect x="625.8" y="224.9" width="4.0" height="41.3" fill="#1a1a1a" stroke="none" stroke-width="0"/>
<rect x="630.8" y="224.9" width="2.5" height="41.3" fill="#333" stroke="none" stroke-width="0"/>
<rect x="635.1" y="224.9" width="1.6" height="41.3" fill="#000" stroke="none" stroke-width="0"/>
<rect x="637.2" y="224.9" width="2.0" height="41.3" fill="#777" stroke="none" stroke-width="0"/>
<rect x="641.0" y="224.9" width="1.6" height="41.3" fill="#999" stroke="none" stroke-width="0"/>
<rect x="644.4" y="224.9" width="1.0" height="41.3" fill="#999" stroke="none" stroke-width="0"/>
<rect x="645.4" y="224.9" width="1.2" height="41.3" fill="#111" stroke="none" stroke-width="0"/>
<rect x="646.9" y="224.9" width="4.0" height="41.3" fill="#1a1a1a" stroke="none" stroke-width="0"/>
<rect x="652.7" y="224.9" width="2.5" height="41.3" fill="#444" stroke="none" stroke-width="0"/>
<rect x="655.2" y="224.9" width="3.0" height="41.3" fill="#000" stroke="none" stroke-width="0"/>
<rect x="658.7" y="224.9" width="2.5" height="41.3" fill="#777" stroke="none" stroke-width="0"/>
<rect x="661.4" y="224.9" width="4.0" height="41.3" fill="#222" stroke="none" stroke-width="0"/>
<rect x="665.9" y="224.9" width="1.0" height="41.3" fill="#444" stroke="none" stroke-width="0"/>
<rect x="666.9" y="224.9" width="1.0" height="41.3" fill="#000" stroke="none" stroke-width="0"/>
<rect x="668.1" y="224.9" width="2.0" height="41.3" fill="#1a1a1a" stroke="none" stroke-width="0"/>
<rect x="670.1" y="224.9" width="1.0" height="41.3" fill="#000" stroke="none" stroke-width="0"/>
<rect x="671.1" y="224.9" width="1.2" height="41.3" fill="#000" stroke="none" stroke-width="0"/>
<rect x="672.8" y="224.9" width="1.2" height="41.3" fill="#2a2a2a" stroke="none" stroke-width="0"/>
<rect x="674.0" y="224.9" width="2.5" height="41.3" fill="#000" stroke="none" stroke-width="0"/>
<rect x="678.3" y="224.9" width="1.0" height="41.3" fill="#1a1a1a" stroke="none" stroke-width="0"/>
<rect x="679.3" y="224.9" width="1.6" height="41.3" fill="#333" stroke="none" stroke-width="0"/>
<rect x="416.5" y="224.9" width="270.3" height="41.3" fill="none" stroke="#222" stroke-width="1.1"/>
<defs><linearGradient id="cb1" x1="0" x2="1" y1="0" y2="0"><stop offset="0.000" stop-color="#c04848"/><stop offset="0.100" stop-color="#c86060"/><stop offset="0.220" stop-color="#c09a9a"/><stop offset="0.400" stop-color="#c0b4b4"/><stop offset="0.500" stop-color="#b8b8b8"/><stop offset="0.620" stop-color="#b4b4c4"/><stop offset="0.800" stop-color="#9090c0"/><stop offset="1.000" stop-color="#7c80c0"/></linearGradient></defs>
<rect x="417.5" y="266.2" width="263.9" height="7.6" fill="url(#cb1)" stroke="none" stroke-width="0"/>
<rect x="452.1" y="266.2" width="1.2" height="7.6" fill="#999" stroke="none" stroke-width="0" fill-opacity="0.6"/>
<rect x="447.7" y="266.2" width="1.8" height="7.6" fill="#ddd" stroke="none" stroke-width="0" fill-opacity="0.6"/>
<rect x="517.1" y="266.2" width="0.8" height="7.6" fill="#aaa" stroke="none" stroke-width="0" fill-opacity="0.6"/>
<rect x="545.7" y="266.2" width="1.2" height="7.6" fill="#ddd" stroke="none" stroke-width="0" fill-opacity="0.6"/>
<rect x="577.4" y="266.2" width="1.2" height="7.6" fill="#ddd" stroke="none" stroke-width="0" fill-opacity="0.6"/>
<rect x="607.6" y="266.2" width="0.8" height="7.6" fill="#5060c0" stroke="none" stroke-width="0" fill-opacity="0.6"/>
<rect x="655.3" y="266.2" width="0.8" height="7.6" fill="#5060c0" stroke="none" stroke-width="0" fill-opacity="0.6"/>
<rect x="588.6" y="266.2" width="1.2" height="7.6" fill="#5060c0" stroke="none" stroke-width="0" fill-opacity="0.6"/>
<rect x="598.3" y="266.2" width="1.8" height="7.6" fill="#999" stroke="none" stroke-width="0" fill-opacity="0.6"/>
<rect x="475.2" y="266.2" width="1.2" height="7.6" fill="#e04040" stroke="none" stroke-width="0" fill-opacity="0.6"/>
<rect x="562.9" y="266.2" width="0.8" height="7.6" fill="#eee" stroke="none" stroke-width="0" fill-opacity="0.6"/>
<rect x="595.8" y="266.2" width="0.8" height="7.6" fill="#eee" stroke="none" stroke-width="0" fill-opacity="0.6"/>
<rect x="526.7" y="266.2" width="0.8" height="7.6" fill="#999" stroke="none" stroke-width="0" fill-opacity="0.6"/>
<rect x="583.2" y="266.2" width="0.8" height="7.6" fill="#eee" stroke="none" stroke-width="0" fill-opacity="0.6"/>
<rect x="613.4" y="266.2" width="1.8" height="7.6" fill="#ddd" stroke="none" stroke-width="0" fill-opacity="0.6"/>
<rect x="636.4" y="266.2" width="1.2" height="7.6" fill="#eee" stroke="none" stroke-width="0" fill-opacity="0.6"/>
<rect x="572.1" y="266.2" width="1.8" height="7.6" fill="#ddd" stroke="none" stroke-width="0" fill-opacity="0.6"/>
<rect x="520.7" y="266.2" width="1.2" height="7.6" fill="#999" stroke="none" stroke-width="0" fill-opacity="0.6"/>
<rect x="480.8" y="266.2" width="1.8" height="7.6" fill="#ddd" stroke="none" stroke-width="0" fill-opacity="0.6"/>
<rect x="462.3" y="266.2" width="0.8" height="7.6" fill="#eee" stroke="none" stroke-width="0" fill-opacity="0.6"/>
<rect x="532.8" y="266.2" width="0.8" height="7.6" fill="#999" stroke="none" stroke-width="0" fill-opacity="0.6"/>
<rect x="554.5" y="266.2" width="1.2" height="7.6" fill="#ddd" stroke="none" stroke-width="0" fill-opacity="0.6"/>
<rect x="546.2" y="266.2" width="1.2" height="7.6" fill="#999" stroke="none" stroke-width="0" fill-opacity="0.6"/>
<rect x="428.0" y="266.2" width="1.8" height="7.6" fill="#ddd" stroke="none" stroke-width="0" fill-opacity="0.6"/>
<rect x="461.6" y="266.2" width="0.8" height="7.6" fill="#999" stroke="none" stroke-width="0" fill-opacity="0.6"/>
<rect x="559.4" y="266.2" width="1.2" height="7.6" fill="#aaa" stroke="none" stroke-width="0" fill-opacity="0.6"/>
<rect x="552.6" y="266.2" width="1.2" height="7.6" fill="#eee" stroke="none" stroke-width="0" fill-opacity="0.6"/>
<rect x="657.5" y="266.2" width="1.2" height="7.6" fill="#999" stroke="none" stroke-width="0" fill-opacity="0.6"/>
<rect x="624.1" y="266.2" width="1.8" height="7.6" fill="#aaa" stroke="none" stroke-width="0" fill-opacity="0.6"/>
<rect x="622.4" y="266.2" width="0.8" height="7.6" fill="#5060c0" stroke="none" stroke-width="0" fill-opacity="0.6"/>
<rect x="543.9" y="266.2" width="1.8" height="7.6" fill="#eee" stroke="none" stroke-width="0" fill-opacity="0.6"/>
<rect x="563.4" y="266.2" width="1.2" height="7.6" fill="#ddd" stroke="none" stroke-width="0" fill-opacity="0.6"/>
<rect x="632.0" y="266.2" width="0.8" height="7.6" fill="#5060c0" stroke="none" stroke-width="0" fill-opacity="0.6"/>
<rect x="559.1" y="266.2" width="1.2" height="7.6" fill="#eee" stroke="none" stroke-width="0" fill-opacity="0.6"/>
<rect x="575.4" y="266.2" width="1.8" height="7.6" fill="#aaa" stroke="none" stroke-width="0" fill-opacity="0.6"/>
<rect x="463.4" y="266.2" width="1.8" height="7.6" fill="#999" stroke="none" stroke-width="0" fill-opacity="0.6"/>
<rect x="627.6" y="266.2" width="0.8" height="7.6" fill="#eee" stroke="none" stroke-width="0" fill-opacity="0.6"/>
<rect x="639.5" y="266.2" width="0.8" height="7.6" fill="#999" stroke="none" stroke-width="0" fill-opacity="0.6"/>
<rect x="536.5" y="266.2" width="0.8" height="7.6" fill="#eee" stroke="none" stroke-width="0" fill-opacity="0.6"/>
<rect x="487.7" y="266.2" width="1.2" height="7.6" fill="#aaa" stroke="none" stroke-width="0" fill-opacity="0.6"/>
<rect x="493.4" y="266.2" width="1.2" height="7.6" fill="#e04040" stroke="none" stroke-width="0" fill-opacity="0.6"/>
<rect x="556.2" y="266.2" width="1.8" height="7.6" fill="#aaa" stroke="none" stroke-width="0" fill-opacity="0.6"/>
<rect x="488.8" y="266.2" width="1.8" height="7.6" fill="#ddd" stroke="none" stroke-width="0" fill-opacity="0.6"/>
<rect x="501.8" y="266.2" width="0.8" height="7.6" fill="#ddd" stroke="none" stroke-width="0" fill-opacity="0.6"/>
<rect x="422.8" y="266.2" width="1.2" height="7.6" fill="#e04040" stroke="none" stroke-width="0" fill-opacity="0.6"/>
<rect x="627.4" y="266.2" width="1.2" height="7.6" fill="#5060c0" stroke="none" stroke-width="0" fill-opacity="0.6"/>
<rect x="654.9" y="266.2" width="1.8" height="7.6" fill="#aaa" stroke="none" stroke-width="0" fill-opacity="0.6"/>
<rect x="530.8" y="266.2" width="0.8" height="7.6" fill="#999" stroke="none" stroke-width="0" fill-opacity="0.6"/>
<rect x="421.2" y="266.2" width="1.8" height="7.6" fill="#e04040" stroke="none" stroke-width="0" fill-opacity="0.6"/>
<rect x="670.8" y="266.2" width="1.8" height="7.6" fill="#5060c0" stroke="none" stroke-width="0" fill-opacity="0.6"/>
<rect x="596.1" y="266.2" width="1.8" height="7.6" fill="#aaa" stroke="none" stroke-width="0" fill-opacity="0.6"/>
<rect x="627.8" y="266.2" width="1.8" height="7.6" fill="#aaa" stroke="none" stroke-width="0" fill-opacity="0.6"/>
<rect x="588.3" y="266.2" width="1.8" height="7.6" fill="#5060c0" stroke="none" stroke-width="0" fill-opacity="0.6"/>
<rect x="629.3" y="266.2" width="0.8" height="7.6" fill="#ddd" stroke="none" stroke-width="0" fill-opacity="0.6"/>
<rect x="611.8" y="266.2" width="0.8" height="7.6" fill="#5060c0" stroke="none" stroke-width="0" fill-opacity="0.6"/>
<rect x="648.4" y="266.2" width="0.8" height="7.6" fill="#5060c0" stroke="none" stroke-width="0" fill-opacity="0.6"/>
<rect x="498.7" y="266.2" width="1.8" height="7.6" fill="#eee" stroke="none" stroke-width="0" fill-opacity="0.6"/>
<rect x="458.4" y="266.2" width="0.8" height="7.6" fill="#aaa" stroke="none" stroke-width="0" fill-opacity="0.6"/>
<rect x="565.0" y="266.2" width="1.8" height="7.6" fill="#999" stroke="none" stroke-width="0" fill-opacity="0.6"/>
<rect x="633.6" y="266.2" width="0.8" height="7.6" fill="#ddd" stroke="none" stroke-width="0" fill-opacity="0.6"/>
<rect x="635.8" y="266.2" width="1.2" height="7.6" fill="#999" stroke="none" stroke-width="0" fill-opacity="0.6"/>
<rect x="469.6" y="266.2" width="1.8" height="7.6" fill="#e04040" stroke="none" stroke-width="0" fill-opacity="0.6"/>
<rect x="595.1" y="266.2" width="0.8" height="7.6" fill="#5060c0" stroke="none" stroke-width="0" fill-opacity="0.6"/>
<rect x="546.9" y="266.2" width="1.2" height="7.6" fill="#ddd" stroke="none" stroke-width="0" fill-opacity="0.6"/>
<rect x="550.0" y="266.2" width="1.2" height="7.6" fill="#999" stroke="none" stroke-width="0" fill-opacity="0.6"/>
<rect x="578.6" y="266.2" width="1.2" height="7.6" fill="#5060c0" stroke="none" stroke-width="0" fill-opacity="0.6"/>
<rect x="421.3" y="266.2" width="1.2" height="7.6" fill="#e04040" stroke="none" stroke-width="0" fill-opacity="0.6"/>
<rect x="631.4" y="266.2" width="1.2" height="7.6" fill="#aaa" stroke="none" stroke-width="0" fill-opacity="0.6"/>
<rect x="530.2" y="266.2" width="1.8" height="7.6" fill="#eee" stroke="none" stroke-width="0" fill-opacity="0.6"/>
<rect x="442.0" y="266.2" width="1.8" height="7.6" fill="#e04040" stroke="none" stroke-width="0" fill-opacity="0.6"/>
<rect x="507.6" y="266.2" width="1.8" height="7.6" fill="#ddd" stroke="none" stroke-width="0" fill-opacity="0.6"/>
<rect x="478.7" y="266.2" width="0.8" height="7.6" fill="#999" stroke="none" stroke-width="0" fill-opacity="0.6"/>
<rect x="461.5" y="266.2" width="1.2" height="7.6" fill="#aaa" stroke="none" stroke-width="0" fill-opacity="0.6"/>
<rect x="617.6" y="266.2" width="1.2" height="7.6" fill="#eee" stroke="none" stroke-width="0" fill-opacity="0.6"/>
<rect x="506.3" y="266.2" width="1.2" height="7.6" fill="#999" stroke="none" stroke-width="0" fill-opacity="0.6"/>
<rect x="478.8" y="266.2" width="0.8" height="7.6" fill="#ddd" stroke="none" stroke-width="0" fill-opacity="0.6"/>
<rect x="570.1" y="266.2" width="1.2" height="7.6" fill="#999" stroke="none" stroke-width="0" fill-opacity="0.6"/>
<rect x="426.9" y="266.2" width="0.8" height="7.6" fill="#e04040" stroke="none" stroke-width="0" fill-opacity="0.6"/>
<rect x="636.0" y="266.2" width="1.8" height="7.6" fill="#5060c0" stroke="none" stroke-width="0" fill-opacity="0.6"/>
<rect x="572.1" y="266.2" width="0.8" height="7.6" fill="#ddd" stroke="none" stroke-width="0" fill-opacity="0.6"/>
<rect x="567.7" y="266.2" width="1.8" height="7.6" fill="#aaa" stroke="none" stroke-width="0" fill-opacity="0.6"/>
<rect x="438.2" y="266.2" width="1.2" height="7.6" fill="#e04040" stroke="none" stroke-width="0" fill-opacity="0.6"/>
<rect x="566.0" y="266.2" width="1.2" height="7.6" fill="#999" stroke="none" stroke-width="0" fill-opacity="0.6"/>
<rect x="654.0" y="266.2" width="0.8" height="7.6" fill="#5060c0" stroke="none" stroke-width="0" fill-opacity="0.6"/>
<rect x="635.8" y="266.2" width="1.8" height="7.6" fill="#5060c0" stroke="none" stroke-width="0" fill-opacity="0.6"/>
<rect x="420.4" y="266.2" width="0.8" height="7.6" fill="#e04040" stroke="none" stroke-width="0" fill-opacity="0.6"/>
<rect x="466.3" y="266.2" width="0.8" height="7.6" fill="#ddd" stroke="none" stroke-width="0" fill-opacity="0.6"/>
<rect x="447.1" y="266.2" width="0.8" height="7.6" fill="#e04040" stroke="none" stroke-width="0" fill-opacity="0.6"/>
<rect x="458.6" y="266.2" width="1.2" height="7.6" fill="#ddd" stroke="none" stroke-width="0" fill-opacity="0.6"/>
<rect x="630.1" y="266.2" width="1.8" height="7.6" fill="#eee" stroke="none" stroke-width="0" fill-opacity="0.6"/>
<rect x="483.6" y="266.2" width="0.8" height="7.6" fill="#e04040" stroke="none" stroke-width="0" fill-opacity="0.6"/>
<rect x="471.5" y="266.2" width="0.8" height="7.6" fill="#e04040" stroke="none" stroke-width="0" fill-opacity="0.6"/>
<rect x="419.3" y="266.2" width="1.8" height="7.6" fill="#eee" stroke="none" stroke-width="0" fill-opacity="0.6"/>
<rect x="574.5" y="266.2" width="1.2" height="7.6" fill="#ddd" stroke="none" stroke-width="0" fill-opacity="0.6"/>
<rect x="499.5" y="266.2" width="0.8" height="7.6" fill="#999" stroke="none" stroke-width="0" fill-opacity="0.6"/>
<rect x="658.5" y="266.2" width="0.8" height="7.6" fill="#ddd" stroke="none" stroke-width="0" fill-opacity="0.6"/>
<rect x="482.7" y="266.2" width="1.8" height="7.6" fill="#ddd" stroke="none" stroke-width="0" fill-opacity="0.6"/>
<rect x="510.8" y="266.2" width="1.8" height="7.6" fill="#aaa" stroke="none" stroke-width="0" fill-opacity="0.6"/>
<rect x="471.6" y="266.2" width="1.2" height="7.6" fill="#e04040" stroke="none" stroke-width="0" fill-opacity="0.6"/>
<rect x="438.1" y="266.2" width="1.2" height="7.6" fill="#e04040" stroke="none" stroke-width="0" fill-opacity="0.6"/>
<rect x="440.5" y="266.2" width="0.8" height="7.6" fill="#eee" stroke="none" stroke-width="0" fill-opacity="0.6"/>
<rect x="519.9" y="266.2" width="0.8" height="7.6" fill="#eee" stroke="none" stroke-width="0" fill-opacity="0.6"/>
<rect x="503.2" y="266.2" width="1.8" height="7.6" fill="#eee" stroke="none" stroke-width="0" fill-opacity="0.6"/>
<rect x="653.2" y="266.2" width="1.2" height="7.6" fill="#5060c0" stroke="none" stroke-width="0" fill-opacity="0.6"/>
<rect x="443.2" y="266.2" width="0.8" height="7.6" fill="#999" stroke="none" stroke-width="0" fill-opacity="0.6"/>
<rect x="474.8" y="266.2" width="0.8" height="7.6" fill="#ddd" stroke="none" stroke-width="0" fill-opacity="0.6"/>
<rect x="487.5" y="266.2" width="0.8" height="7.6" fill="#999" stroke="none" stroke-width="0" fill-opacity="0.6"/>
<rect x="584.8" y="266.2" width="1.2" height="7.6" fill="#5060c0" stroke="none" stroke-width="0" fill-opacity="0.6"/>
<rect x="547.2" y="266.2" width="0.8" height="7.6" fill="#aaa" stroke="none" stroke-width="0" fill-opacity="0.6"/>
<rect x="549.3" y="266.2" width="0.8" height="7.6" fill="#eee" stroke="none" stroke-width="0" fill-opacity="0.6"/>
<rect x="551.4" y="266.2" width="0.8" height="7.6" fill="#aaa" stroke="none" stroke-width="0" fill-opacity="0.6"/>
<rect x="622.1" y="266.2" width="1.2" height="7.6" fill="#eee" stroke="none" stroke-width="0" fill-opacity="0.6"/>
<rect x="444.8" y="266.2" width="0.8" height="7.6" fill="#eee" stroke="none" stroke-width="0" fill-opacity="0.6"/>
<rect x="653.3" y="266.2" width="1.8" height="7.6" fill="#5060c0" stroke="none" stroke-width="0" fill-opacity="0.6"/>
<rect x="424.9" y="266.2" width="1.8" height="7.6" fill="#e04040" stroke="none" stroke-width="0" fill-opacity="0.6"/>
<rect x="629.4" y="266.2" width="0.8" height="7.6" fill="#aaa" stroke="none" stroke-width="0" fill-opacity="0.6"/>
<rect x="495.7" y="266.2" width="1.8" height="7.6" fill="#999" stroke="none" stroke-width="0" fill-opacity="0.6"/>
<rect x="644.9" y="266.2" width="0.8" height="7.6" fill="#5060c0" stroke="none" stroke-width="0" fill-opacity="0.6"/>
<rect x="597.2" y="266.2" width="1.2" height="7.6" fill="#5060c0" stroke="none" stroke-width="0" fill-opacity="0.6"/>
<rect x="562.0" y="266.2" width="1.8" height="7.6" fill="#ddd" stroke="none" stroke-width="0" fill-opacity="0.6"/>
<rect x="536.6" y="266.2" width="1.2" height="7.6" fill="#ddd" stroke="none" stroke-width="0" fill-opacity="0.6"/>
<rect x="461.9" y="266.2" width="1.8" height="7.6" fill="#e04040" stroke="none" stroke-width="0" fill-opacity="0.6"/>
<rect x="663.6" y="266.2" width="0.8" height="7.6" fill="#999" stroke="none" stroke-width="0" fill-opacity="0.6"/>
<rect x="599.7" y="266.2" width="0.8" height="7.6" fill="#aaa" stroke="none" stroke-width="0" fill-opacity="0.6"/>
<rect x="485.1" y="266.2" width="1.8" height="7.6" fill="#ddd" stroke="none" stroke-width="0" fill-opacity="0.6"/>
<rect x="522.7" y="266.2" width="0.8" height="7.6" fill="#999" stroke="none" stroke-width="0" fill-opacity="0.6"/>
<rect x="545.2" y="266.2" width="1.8" height="7.6" fill="#aaa" stroke="none" stroke-width="0" fill-opacity="0.6"/>
<rect x="500.5" y="266.2" width="1.8" height="7.6" fill="#ddd" stroke="none" stroke-width="0" fill-opacity="0.6"/>
<rect x="585.8" y="266.2" width="1.2" height="7.6" fill="#5060c0" stroke="none" stroke-width="0" fill-opacity="0.6"/>
<rect x="547.6" y="266.2" width="0.8" height="7.6" fill="#ddd" stroke="none" stroke-width="0" fill-opacity="0.6"/>
<rect x="605.3" y="266.2" width="1.8" height="7.6" fill="#5060c0" stroke="none" stroke-width="0" fill-opacity="0.6"/>
<rect x="656.7" y="266.2" width="1.8" height="7.6" fill="#eee" stroke="none" stroke-width="0" fill-opacity="0.6"/>
<rect x="474.6" y="266.2" width="0.8" height="7.6" fill="#eee" stroke="none" stroke-width="0" fill-opacity="0.6"/>
<rect x="552.0" y="266.2" width="1.2" height="7.6" fill="#aaa" stroke="none" stroke-width="0" fill-opacity="0.6"/>
<rect x="495.6" y="266.2" width="1.8" height="7.6" fill="#e04040" stroke="none" stroke-width="0" fill-opacity="0.6"/>
<rect x="514.9" y="266.2" width="1.8" height="7.6" fill="#ddd" stroke="none" stroke-width="0" fill-opacity="0.6"/>
<rect x="439.0" y="266.2" width="1.8" height="7.6" fill="#e04040" stroke="none" stroke-width="0" fill-opacity="0.6"/>
<rect x="670.8" y="266.2" width="0.8" height="7.6" fill="#aaa" stroke="none" stroke-width="0" fill-opacity="0.6"/>
<rect x="482.9" y="266.2" width="1.8" height="7.6" fill="#e04040" stroke="none" stroke-width="0" fill-opacity="0.6"/>
<rect x="607.1" y="266.2" width="1.8" height="7.6" fill="#ddd" stroke="none" stroke-width="0" fill-opacity="0.6"/>
<rect x="520.8" y="266.2" width="1.2" height="7.6" fill="#eee" stroke="none" stroke-width="0" fill-opacity="0.6"/>
<rect x="552.9" y="266.2" width="1.8" height="7.6" fill="#aaa" stroke="none" stroke-width="0" fill-opacity="0.6"/>
<rect x="609.8" y="266.2" width="0.8" height="7.6" fill="#5060c0" stroke="none" stroke-width="0" fill-opacity="0.6"/>
<rect x="630.5" y="266.2" width="1.8" height="7.6" fill="#eee" stroke="none" stroke-width="0" fill-opacity="0.6"/>
<rect x="658.3" y="266.2" width="1.8" height="7.6" fill="#aaa" stroke="none" stroke-width="0" fill-opacity="0.6"/>
<rect x="639.5" y="266.2" width="1.2" height="7.6" fill="#999" stroke="none" stroke-width="0" fill-opacity="0.6"/>
<rect x="641.9" y="266.2" width="1.2" height="7.6" fill="#5060c0" stroke="none" stroke-width="0" fill-opacity="0.6"/>
<rect x="665.5" y="266.2" width="0.8" height="7.6" fill="#ddd" stroke="none" stroke-width="0" fill-opacity="0.6"/>
<rect x="657.6" y="266.2" width="1.8" height="7.6" fill="#5060c0" stroke="none" stroke-width="0" fill-opacity="0.6"/>
<rect x="657.3" y="266.2" width="1.2" height="7.6" fill="#999" stroke="none" stroke-width="0" fill-opacity="0.6"/>
<rect x="575.6" y="266.2" width="0.8" height="7.6" fill="#5060c0" stroke="none" stroke-width="0" fill-opacity="0.6"/>
<rect x="591.5" y="266.2" width="1.2" height="7.6" fill="#5060c0" stroke="none" stroke-width="0" fill-opacity="0.6"/>
<rect x="615.1" y="266.2" width="0.8" height="7.6" fill="#5060c0" stroke="none" stroke-width="0" fill-opacity="0.6"/>
<rect x="556.5" y="266.2" width="0.8" height="7.6" fill="#999" stroke="none" stroke-width="0" fill-opacity="0.6"/>
<rect x="582.7" y="266.2" width="0.8" height="7.6" fill="#eee" stroke="none" stroke-width="0" fill-opacity="0.6"/>
<rect x="462.3" y="266.2" width="0.8" height="7.6" fill="#e04040" stroke="none" stroke-width="0" fill-opacity="0.6"/>
<rect x="488.9" y="266.2" width="1.8" height="7.6" fill="#eee" stroke="none" stroke-width="0" fill-opacity="0.6"/>
<rect x="534.7" y="266.2" width="1.8" height="7.6" fill="#aaa" stroke="none" stroke-width="0" fill-opacity="0.6"/>
<rect x="511.1" y="266.2" width="0.8" height="7.6" fill="#ddd" stroke="none" stroke-width="0" fill-opacity="0.6"/>
<rect x="620.2" y="266.2" width="0.8" height="7.6" fill="#ddd" stroke="none" stroke-width="0" fill-opacity="0.6"/>
<text x="419.5" y="272.7" font-size="5" text-anchor="start" fill="#222">Positive</text>
<text x="679.4" y="272.7" font-size="5" text-anchor="end" fill="#222">Negative</text>
<rect x="416.5" y="266.2" width="270.3" height="7.6" fill="none" stroke="#222" stroke-width="1.1"/>
<rect x="416.5" y="273.8" width="270.3" height="87.6" fill="#fff" stroke="none" stroke-width="0"/>
<path d="M418.5 318.4 L418.5 294.1 L420.7 300.1 L422.9 304.1 L425.1 307.0 L427.3 309.0 L429.5 310.4 L431.6 311.5 L433.8 312.3 L436.0 313.0 L438.2 313.5 L440.4 314.0 L442.6 314.4 L444.8 314.8 L447.0 315.1 L449.2 315.4 L451.4 315.7 L453.6 315.9 L455.7 316.2 L457.9 316.4 L460.1 316.6 L462.3 316.8 L464.5 317.0 L466.7 317.2 L468.9 317.3 L471.1 317.5 L473.3 317.6 L475.5 317.7 L477.7 317.8 L479.8 317.9 L482.0 318.0 L484.2 318.1 L486.4 318.1 L488.6 318.2 L490.8 318.2 L493.0 318.3 L495.2 318.3 L497.4 318.3 L499.6 318.4 L501.7 318.4 L503.9 318.4 L506.1 318.4 L508.3 318.4 L510.5 318.4 L512.7 318.4 L514.9 318.5 L517.1 318.5 L519.3 318.5 L521.5 318.6 L523.7 318.6 L525.8 318.6 L528.0 318.7 L530.2 318.7 L532.4 318.8 L534.6 318.8 L536.8 318.9 L539.0 318.9 L541.2 319.0 L543.4 319.0 L545.6 319.1 L547.8 319.1 L549.9 319.2 L552.1 319.2 L554.3 319.3 L556.5 319.3 L558.7 319.4 L560.9 319.5 L563.1 319.5 L565.3 319.6 L567.5 319.6 L569.7 319.7 L571.9 319.8 L574.0 319.8 L576.2 319.9 L578.4 320.0 L580.6 320.0 L582.8 320.1 L585.0 320.2 L587.2 320.2 L589.4 320.3 L591.6 320.4 L593.8 320.4 L596.0 320.5 L598.1 320.6 L600.3 320.7 L602.5 320.7 L604.7 320.8 L606.9 320.9 L609.1 321.0 L611.3 321.1 L613.5 321.2 L615.7 321.2 L617.9 321.3 L620.1 321.4 L622.2 321.6 L624.4 321.7 L626.6 321.8 L628.8 321.9 L631.0 322.0 L633.2 322.2 L635.4 322.3 L637.6 322.5 L639.8 322.6 L642.0 322.8 L644.2 323.0 L646.3 323.2 L648.5 323.4 L650.7 323.7 L652.9 323.9 L655.1 324.2 L657.3 324.5 L659.5 324.8 L661.7 325.2 L663.9 325.6 L666.1 326.0 L668.2 326.6 L670.4 327.4 L672.6 328.7 L674.8 330.9 L677.0 335.0 L679.2 343.3 L681.4 360.3 L681.4 318.4 Z" fill="#d2d2d2" stroke="none" stroke-width="0"/>
<line x1="508.3" y1="275.8" x2="508.3" y2="359.4" stroke="#aaa" stroke-width="0.7" stroke-dasharray="4 3"/>
<text x="523.0" y="317.0" font-size="10.3" text-anchor="middle" fill="#111">Zero cross at 7044</text>
<line x1="412.5" y1="281.6" x2="416.5" y2="281.6" stroke="#222" stroke-width="0.9"/>
<text x="409.5" y="281.6" font-size="10" text-anchor="middle" fill="#111" transform="rotate(-90 409.5 281.6)">4</text>
<line x1="412.5" y1="300.0" x2="416.5" y2="300.0" stroke="#222" stroke-width="0.9"/>
<text x="409.5" y="300.0" font-size="10" text-anchor="middle" fill="#111" transform="rotate(-90 409.5 300.0)">2</text>
<line x1="412.5" y1="318.4" x2="416.5" y2="318.4" stroke="#222" stroke-width="0.9"/>
<text x="409.5" y="318.4" font-size="10" text-anchor="middle" fill="#111" transform="rotate(-90 409.5 318.4)">0</text>
<line x1="412.5" y1="336.8" x2="416.5" y2="336.8" stroke="#222" stroke-width="0.9"/>
<text x="409.5" y="336.8" font-size="10" text-anchor="middle" fill="#111" transform="rotate(-90 409.5 336.8)">−2</text>
<line x1="412.5" y1="355.2" x2="416.5" y2="355.2" stroke="#222" stroke-width="0.9"/>
<text x="409.5" y="355.2" font-size="10" text-anchor="middle" fill="#111" transform="rotate(-90 409.5 355.2)">−4</text>
<text x="397.5" y="317.6" font-size="10.6" text-anchor="middle" fill="#111" transform="rotate(-90 397.5 317.6)">SCORE</text>
<rect x="416.5" y="273.8" width="270.3" height="87.6" fill="none" stroke="#222" stroke-width="1.1"/>
<line x1="480.5" y1="361.4" x2="480.5" y2="365.4" stroke="#222" stroke-width="0.9"/>
<text x="480.5" y="374.9" font-size="9.8" text-anchor="middle" fill="#111">5000</text>
<line x1="546.0" y1="361.4" x2="546.0" y2="365.4" stroke="#222" stroke-width="0.9"/>
<text x="546.0" y="374.9" font-size="9.8" text-anchor="middle" fill="#111">10000</text>
<line x1="611.0" y1="361.4" x2="611.0" y2="365.4" stroke="#222" stroke-width="0.9"/>
<text x="611.0" y="374.9" font-size="9.8" text-anchor="middle" fill="#111">15000</text>
<line x1="676.0" y1="361.4" x2="676.0" y2="365.4" stroke="#222" stroke-width="0.9"/>
<text x="676.0" y="374.9" font-size="9.8" text-anchor="middle" fill="#111">20000</text>
<text x="557.6" y="387.9" font-size="10.6" text-anchor="middle" fill="#111">Rank in ordered gene list</text>
<text x="875.0" y="91.9" font-size="14.9" text-anchor="middle" fill="#111">Enrichment plot:KO04216 Ferroptosis</text>
<rect x="737.9" y="102.6" width="272.0" height="122.6" fill="#fff" stroke="none" stroke-width="0"/>
<line x1="737.9" y1="103.1" x2="1009.9" y2="103.1" stroke="#eeeeee" stroke-width="0.6" stroke-dasharray="3 3"/>
<line x1="737.9" y1="122.4" x2="1009.9" y2="122.4" stroke="#eeeeee" stroke-width="0.6" stroke-dasharray="3 3"/>
<line x1="737.9" y1="141.7" x2="1009.9" y2="141.7" stroke="#eeeeee" stroke-width="0.6" stroke-dasharray="3 3"/>
<line x1="737.9" y1="161.0" x2="1009.9" y2="161.0" stroke="#eeeeee" stroke-width="0.6" stroke-dasharray="3 3"/>
<line x1="737.9" y1="180.3" x2="1009.9" y2="180.3" stroke="#eeeeee" stroke-width="0.6" stroke-dasharray="3 3"/>
<line x1="737.9" y1="218.9" x2="1009.9" y2="218.9" stroke="#eeeeee" stroke-width="0.6" stroke-dasharray="3 3"/>
<line x1="737.9" y1="199.6" x2="1009.9" y2="199.6" stroke="#9a9a9a" stroke-width="1.2" stroke-dasharray="5 4"/>
<path d="M737.9 199.6 L739.0 173.9 L740.1 148.3 L743.5 144.9 L746.8 142.7 L748.6 123.3 L755.7 124.4 L764.7 126.0 L772.5 120.4 L776.9 121.5 L778.5 115.9 L783.6 117.7 L788.1 115.9 L802.6 123.7 L824.9 139.4 L851.6 156.1 L873.9 172.8 L898.4 190.6 L919.6 201.8 L935.2 209.6 L937.5 207.4 L956.4 210.7 L959.8 203.3 L974.2 207.4 L982.1 206.2 L986.5 199.6 L998.8 195.8 L1005.5 199.6" fill="none" stroke="#e05050" stroke-width="1.3"/>
<text x="1007.5" y="114.5" font-size="10.3" text-anchor="end" fill="#111">Nominal p−value: 0.0311</text>
<text x="1007.5" y="127.0" font-size="10.3" text-anchor="end" fill="#111">ES: 0.4387</text>
<text x="1007.5" y="140.0" font-size="10.3" text-anchor="end" fill="#111">Normalized ES: 1.3400</text>
<line x1="733.9" y1="103.1" x2="737.9" y2="103.1" stroke="#222" stroke-width="0.9"/>
<text x="730.9" y="103.1" font-size="10" text-anchor="middle" fill="#111" transform="rotate(-90 730.9 103.1)">0.5</text>
<line x1="733.9" y1="122.4" x2="737.9" y2="122.4" stroke="#222" stroke-width="0.9"/>
<text x="730.9" y="122.4" font-size="10" text-anchor="middle" fill="#111" transform="rotate(-90 730.9 122.4)">0.4</text>
<line x1="733.9" y1="141.7" x2="737.9" y2="141.7" stroke="#222" stroke-width="0.9"/>
<text x="730.9" y="141.7" font-size="10" text-anchor="middle" fill="#111" transform="rotate(-90 730.9 141.7)">0.3</text>
<line x1="733.9" y1="161.0" x2="737.9" y2="161.0" stroke="#222" stroke-width="0.9"/>
<text x="730.9" y="161.0" font-size="10" text-anchor="middle" fill="#111" transform="rotate(-90 730.9 161.0)">0.2</text>
<line x1="733.9" y1="180.3" x2="737.9" y2="180.3" stroke="#222" stroke-width="0.9"/>
<text x="730.9" y="180.3" font-size="10" text-anchor="middle" fill="#111" transform="rotate(-90 730.9 180.3)">0.1</text>
<line x1="733.9" y1="199.6" x2="737.9" y2="199.6" stroke="#222" stroke-width="0.9"/>
<text x="730.9" y="199.6" font-size="10" text-anchor="middle" fill="#111" transform="rotate(-90 730.9 199.6)">0.0</text>
<line x1="733.9" y1="218.9" x2="737.9" y2="218.9" stroke="#222" stroke-width="0.9"/>
<text x="730.9" y="218.9" font-size="10" text-anchor="middle" fill="#111" transform="rotate(-90 730.9 218.9)">−0.1</text>
<text x="718.9" y="163.9" font-size="10.6" text-anchor="middle" fill="#111" transform="rotate(-90 718.9 163.9)">Enrichment score (ES)</text>
<rect x="737.9" y="102.6" width="272.0" height="122.6" fill="none" stroke="#333" stroke-width="1.1"/>
<rect x="737.9" y="225.2" width="272.0" height="40.6" fill="#fff" stroke="none" stroke-width="0"/>
<rect x="737.9" y="225.2" width="0.9" height="40.6" fill="#555" stroke="none" stroke-width="0"/>
<rect x="738.6" y="225.2" width="0.9" height="40.6" fill="#555" stroke="none" stroke-width="0"/>
<rect x="739.7" y="225.2" width="0.9" height="40.6" fill="#555" stroke="none" stroke-width="0"/>
<rect x="745.3" y="225.2" width="0.9" height="40.6" fill="#555" stroke="none" stroke-width="0"/>
<rect x="747.5" y="225.2" width="0.9" height="40.6" fill="#555" stroke="none" stroke-width="0"/>
<rect x="757.5" y="225.2" width="0.9" height="40.6" fill="#555" stroke="none" stroke-width="0"/>
<rect x="764.2" y="225.2" width="0.9" height="40.6" fill="#555" stroke="none" stroke-width="0"/>
<rect x="766.4" y="225.2" width="0.9" height="40.6" fill="#555" stroke="none" stroke-width="0"/>
<rect x="768.7" y="225.2" width="0.9" height="40.6" fill="#555" stroke="none" stroke-width="0"/>
<rect x="770.9" y="225.2" width="0.9" height="40.6" fill="#555" stroke="none" stroke-width="0"/>
<rect x="776.5" y="225.2" width="0.9" height="40.6" fill="#555" stroke="none" stroke-width="0"/>
<rect x="777.1" y="225.2" width="0.9" height="40.6" fill="#555" stroke="none" stroke-width="0"/>
<rect x="783.2" y="225.2" width="0.9" height="40.6" fill="#555" stroke="none" stroke-width="0"/>
<rect x="785.4" y="225.2" width="0.9" height="40.6" fill="#555" stroke="none" stroke-width="0"/>
<rect x="786.5" y="225.2" width="0.9" height="40.6" fill="#555" stroke="none" stroke-width="0"/>
<rect x="787.6" y="225.2" width="0.9" height="40.6" fill="#555" stroke="none" stroke-width="0"/>
<rect x="796.5" y="225.2" width="0.9" height="40.6" fill="#555" stroke="none" stroke-width="0"/>
<rect x="801.7" y="225.2" width="0.9" height="40.6" fill="#555" stroke="none" stroke-width="0"/>
<rect x="815.9" y="225.2" width="0.9" height="40.6" fill="#555" stroke="none" stroke-width="0"/>
<rect x="820.0" y="225.2" width="0.9" height="40.6" fill="#555" stroke="none" stroke-width="0"/>
<rect x="838.2" y="225.2" width="0.9" height="40.6" fill="#555" stroke="none" stroke-width="0"/>
<rect x="844.9" y="225.2" width="0.9" height="40.6" fill="#555" stroke="none" stroke-width="0"/>
<rect x="854.7" y="225.2" width="0.9" height="40.6" fill="#555" stroke="none" stroke-width="0"/>
<rect x="879.0" y="225.2" width="0.9" height="40.6" fill="#555" stroke="none" stroke-width="0"/>
<rect x="887.3" y="225.2" width="0.9" height="40.6" fill="#555" stroke="none" stroke-width="0"/>
<rect x="898.0" y="225.2" width="0.9" height="40.6" fill="#555" stroke="none" stroke-width="0"/>
<rect x="901.3" y="225.2" width="0.9" height="40.6" fill="#555" stroke="none" stroke-width="0"/>
<rect x="905.8" y="225.2" width="0.9" height="40.6" fill="#555" stroke="none" stroke-width="0"/>
<rect x="919.2" y="225.2" width="0.9" height="40.6" fill="#555" stroke="none" stroke-width="0"/>
<rect x="922.1" y="225.2" width="0.9" height="40.6" fill="#555" stroke="none" stroke-width="0"/>
<rect x="935.4" y="225.2" width="0.9" height="40.6" fill="#555" stroke="none" stroke-width="0"/>
<rect x="943.0" y="225.2" width="0.9" height="40.6" fill="#555" stroke="none" stroke-width="0"/>
<rect x="949.7" y="225.2" width="0.9" height="40.6" fill="#555" stroke="none" stroke-width="0"/>
<rect x="957.5" y="225.2" width="0.9" height="40.6" fill="#555" stroke="none" stroke-width="0"/>
<rect x="958.6" y="225.2" width="0.9" height="40.6" fill="#555" stroke="none" stroke-width="0"/>
<rect x="973.8" y="225.2" width="0.9" height="40.6" fill="#555" stroke="none" stroke-width="0"/>
<rect x="982.0" y="225.2" width="0.9" height="40.6" fill="#555" stroke="none" stroke-width="0"/>
<rect x="985.4" y="225.2" width="0.9" height="40.6" fill="#555" stroke="none" stroke-width="0"/>
<rect x="998.8" y="225.2" width="0.9" height="40.6" fill="#555" stroke="none" stroke-width="0"/>
<rect x="737.9" y="225.2" width="272.0" height="40.6" fill="none" stroke="#222" stroke-width="1.1"/>
<defs><linearGradient id="cb2" x1="0" x2="1" y1="0" y2="0"><stop offset="0.000" stop-color="#c02828"/><stop offset="0.140" stop-color="#d04848"/><stop offset="0.200" stop-color="#d87070"/><stop offset="0.270" stop-color="#e0a0a0"/><stop offset="0.300" stop-color="#f4dede"/><stop offset="0.520" stop-color="#f0e0e4"/><stop offset="0.580" stop-color="#e0e0f0"/><stop offset="0.630" stop-color="#a0a4d8"/><stop offset="0.720" stop-color="#8088c8"/><stop offset="0.750" stop-color="#5060b0"/><stop offset="1.000" stop-color="#3848a8"/></linearGradient></defs>
<rect x="738.9" y="265.8" width="265.6" height="8.9" fill="url(#cb2)" stroke="none" stroke-width="0"/>
<text x="740.9" y="272.3" font-size="5" text-anchor="start" fill="#222">Positive</text>
<text x="1002.5" y="272.3" font-size="5" text-anchor="end" fill="#222">Negative</text>
<rect x="737.9" y="265.8" width="272.0" height="8.9" fill="none" stroke="#222" stroke-width="1.1"/>
<rect x="737.9" y="274.7" width="272.0" height="87.0" fill="#fff" stroke="none" stroke-width="0"/>
<path d="M739.9 319.3 L739.9 294.9 L742.1 300.9 L744.3 304.9 L746.5 307.8 L748.7 309.8 L750.9 311.3 L753.1 312.4 L755.3 313.2 L757.5 313.9 L759.7 314.4 L761.9 314.9 L764.2 315.3 L766.4 315.7 L768.6 316.0 L770.8 316.3 L773.0 316.6 L775.2 316.8 L777.4 317.1 L779.6 317.3 L781.8 317.5 L784.0 317.7 L786.2 317.9 L788.4 318.0 L790.6 318.2 L792.8 318.3 L795.0 318.5 L797.2 318.6 L799.4 318.7 L801.6 318.8 L803.8 318.9 L806.0 319.0 L808.2 319.0 L810.4 319.1 L812.7 319.1 L814.9 319.2 L817.1 319.2 L819.3 319.2 L821.5 319.3 L823.7 319.3 L825.9 319.3 L828.1 319.3 L830.3 319.3 L832.5 319.3 L834.7 319.3 L836.9 319.4 L839.1 319.4 L841.3 319.4 L843.5 319.5 L845.7 319.5 L847.9 319.5 L850.1 319.6 L852.3 319.6 L854.5 319.7 L856.7 319.7 L859.0 319.8 L861.2 319.8 L863.4 319.9 L865.6 319.9 L867.8 320.0 L870.0 320.0 L872.2 320.1 L874.4 320.1 L876.6 320.2 L878.8 320.2 L881.0 320.3 L883.2 320.4 L885.4 320.4 L887.6 320.5 L889.8 320.5 L892.0 320.6 L894.2 320.7 L896.4 320.7 L898.6 320.8 L900.8 320.9 L903.0 320.9 L905.2 321.0 L907.5 321.1 L909.7 321.1 L911.9 321.2 L914.1 321.3 L916.3 321.3 L918.5 321.4 L920.7 321.5 L922.9 321.6 L925.1 321.6 L927.3 321.7 L929.5 321.8 L931.7 321.9 L933.9 322.0 L936.1 322.1 L938.3 322.2 L940.5 322.3 L942.7 322.4 L944.9 322.5 L947.1 322.6 L949.3 322.7 L951.5 322.8 L953.8 322.9 L956.0 323.1 L958.2 323.2 L960.4 323.4 L962.6 323.6 L964.8 323.7 L967.0 323.9 L969.2 324.1 L971.4 324.4 L973.6 324.6 L975.8 324.8 L978.0 325.1 L980.2 325.4 L982.4 325.8 L984.6 326.1 L986.8 326.5 L989.0 327.0 L991.2 327.6 L993.4 328.4 L995.6 329.6 L997.8 331.8 L1000.1 336.0 L1002.3 344.3 L1004.5 361.4 L1004.5 319.3 Z" fill="#d2d2d2" stroke="none" stroke-width="0"/>
<line x1="830.4" y1="276.7" x2="830.4" y2="359.7" stroke="#aaa" stroke-width="0.7" stroke-dasharray="4 3"/>
<text x="845.0" y="317.6" font-size="10.3" text-anchor="middle" fill="#111">Zero cross at 7044</text>
<line x1="733.9" y1="282.3" x2="737.9" y2="282.3" stroke="#222" stroke-width="0.9"/>
<text x="730.9" y="282.3" font-size="10" text-anchor="middle" fill="#111" transform="rotate(-90 730.9 282.3)">4</text>
<line x1="733.9" y1="300.8" x2="737.9" y2="300.8" stroke="#222" stroke-width="0.9"/>
<text x="730.9" y="300.8" font-size="10" text-anchor="middle" fill="#111" transform="rotate(-90 730.9 300.8)">2</text>
<line x1="733.9" y1="319.3" x2="737.9" y2="319.3" stroke="#222" stroke-width="0.9"/>
<text x="730.9" y="319.3" font-size="10" text-anchor="middle" fill="#111" transform="rotate(-90 730.9 319.3)">0</text>
<line x1="733.9" y1="337.8" x2="737.9" y2="337.8" stroke="#222" stroke-width="0.9"/>
<text x="730.9" y="337.8" font-size="10" text-anchor="middle" fill="#111" transform="rotate(-90 730.9 337.8)">−2</text>
<line x1="733.9" y1="356.3" x2="737.9" y2="356.3" stroke="#222" stroke-width="0.9"/>
<text x="730.9" y="356.3" font-size="10" text-anchor="middle" fill="#111" transform="rotate(-90 730.9 356.3)">−4</text>
<text x="718.9" y="318.2" font-size="10.6" text-anchor="middle" fill="#111" transform="rotate(-90 718.9 318.2)">SCORE</text>
<rect x="737.9" y="274.7" width="272.0" height="87.0" fill="none" stroke="#222" stroke-width="1.1"/>
<line x1="803.0" y1="361.7" x2="803.0" y2="365.7" stroke="#222" stroke-width="0.9"/>
<text x="803.0" y="375.2" font-size="9.8" text-anchor="middle" fill="#111">5000</text>
<line x1="868.8" y1="361.7" x2="868.8" y2="365.7" stroke="#222" stroke-width="0.9"/>
<text x="868.8" y="375.2" font-size="9.8" text-anchor="middle" fill="#111">10000</text>
<line x1="934.8" y1="361.7" x2="934.8" y2="365.7" stroke="#222" stroke-width="0.9"/>
<text x="934.8" y="375.2" font-size="9.8" text-anchor="middle" fill="#111">15000</text>
<line x1="998.8" y1="361.7" x2="998.8" y2="365.7" stroke="#222" stroke-width="0.9"/>
<text x="998.8" y="375.2" font-size="9.8" text-anchor="middle" fill="#111">20000</text>
<text x="876.0" y="388.2" font-size="10.6" text-anchor="middle" fill="#111">Rank in ordered gene list</text>
<text x="1203.7" y="53.5" font-size="20" text-anchor="middle" fill="#111">heatmap</text>
<rect x="1111.2" y="71.9" width="36.4" height="36.3" fill="#b44f4a" stroke="none" stroke-width="0"/>
<rect x="1147.6" y="71.9" width="36.4" height="36.3" fill="#9f7a72" stroke="none" stroke-width="0"/>
<rect x="1184.0" y="71.9" width="36.4" height="36.3" fill="#6189ca" stroke="none" stroke-width="0"/>
<rect x="1220.4" y="71.9" width="36.4" height="36.3" fill="#9b7d72" stroke="none" stroke-width="0"/>
<rect x="1256.8" y="71.9" width="36.4" height="36.3" fill="#6389c8" stroke="none" stroke-width="0"/>
<rect x="1293.2" y="71.9" width="36.4" height="36.3" fill="#6588c4" stroke="none" stroke-width="0"/>
<rect x="1111.2" y="108.2" width="36.4" height="36.3" fill="#b24d48" stroke="none" stroke-width="0"/>
<rect x="1147.6" y="108.2" width="36.4" height="36.3" fill="#9e7b73" stroke="none" stroke-width="0"/>
<rect x="1184.0" y="108.2" width="36.4" height="36.3" fill="#7688b4" stroke="none" stroke-width="0"/>
<rect x="1220.4" y="108.2" width="36.4" height="36.3" fill="#8c8190" stroke="none" stroke-width="0"/>
<rect x="1256.8" y="108.2" width="36.4" height="36.3" fill="#5c8dd3" stroke="none" stroke-width="0"/>
<rect x="1293.2" y="108.2" width="36.4" height="36.3" fill="#6688c5" stroke="none" stroke-width="0"/>
<rect x="1111.2" y="144.6" width="36.4" height="36.3" fill="#a2626a" stroke="none" stroke-width="0"/>
<rect x="1147.6" y="144.6" width="36.4" height="36.3" fill="#a0696c" stroke="none" stroke-width="0"/>
<rect x="1184.0" y="144.6" width="36.4" height="36.3" fill="#a0676b" stroke="none" stroke-width="0"/>
<rect x="1220.4" y="144.6" width="36.4" height="36.3" fill="#5c8fd3" stroke="none" stroke-width="0"/>
<rect x="1256.8" y="144.6" width="36.4" height="36.3" fill="#6c8ac0" stroke="none" stroke-width="0"/>
<rect x="1293.2" y="144.6" width="36.4" height="36.3" fill="#6689c7" stroke="none" stroke-width="0"/>
<rect x="1111.2" y="180.9" width="36.4" height="36.3" fill="#6189cb" stroke="none" stroke-width="0"/>
<rect x="1147.6" y="180.9" width="36.4" height="36.3" fill="#6789c5" stroke="none" stroke-width="0"/>
<rect x="1184.0" y="180.9" width="36.4" height="36.3" fill="#6389c8" stroke="none" stroke-width="0"/>
<rect x="1220.4" y="180.9" width="36.4" height="36.3" fill="#9e6670" stroke="none" stroke-width="0"/>
<rect x="1256.8" y="180.9" width="36.4" height="36.3" fill="#a06a6c" stroke="none" stroke-width="0"/>
<rect x="1293.2" y="180.9" width="36.4" height="36.3" fill="#a06d6f" stroke="none" stroke-width="0"/>
<rect x="1111.2" y="217.3" width="36.4" height="36.3" fill="#6289c9" stroke="none" stroke-width="0"/>
<rect x="1147.6" y="217.3" width="36.4" height="36.3" fill="#6489c8" stroke="none" stroke-width="0"/>
<rect x="1184.0" y="217.3" width="36.4" height="36.3" fill="#6389c8" stroke="none" stroke-width="0"/>
<rect x="1220.4" y="217.3" width="36.4" height="36.3" fill="#9f6c6f" stroke="none" stroke-width="0"/>
<rect x="1256.8" y="217.3" width="36.4" height="36.3" fill="#a2676d" stroke="none" stroke-width="0"/>
<rect x="1293.2" y="217.3" width="36.4" height="36.3" fill="#a06870" stroke="none" stroke-width="0"/>
<rect x="1111.2" y="253.6" width="36.4" height="36.3" fill="#6189c9" stroke="none" stroke-width="0"/>
<rect x="1147.6" y="253.6" width="36.4" height="36.3" fill="#6a89bf" stroke="none" stroke-width="0"/>
<rect x="1184.0" y="253.6" width="36.4" height="36.3" fill="#6789c3" stroke="none" stroke-width="0"/>
<rect x="1220.4" y="253.6" width="36.4" height="36.3" fill="#a06a6c" stroke="none" stroke-width="0"/>
<rect x="1256.8" y="253.6" width="36.4" height="36.3" fill="#a3646a" stroke="none" stroke-width="0"/>
<rect x="1293.2" y="253.6" width="36.4" height="36.3" fill="#9f7270" stroke="none" stroke-width="0"/>
<rect x="1111.2" y="289.9" width="36.4" height="36.3" fill="#5f8dd0" stroke="none" stroke-width="0"/>
<rect x="1147.6" y="289.9" width="36.4" height="36.3" fill="#6b89c0" stroke="none" stroke-width="0"/>
<rect x="1184.0" y="289.9" width="36.4" height="36.3" fill="#6889c5" stroke="none" stroke-width="0"/>
<rect x="1220.4" y="289.9" width="36.4" height="36.3" fill="#a06a6c" stroke="none" stroke-width="0"/>
<rect x="1256.8" y="289.9" width="36.4" height="36.3" fill="#9f6d6e" stroke="none" stroke-width="0"/>
<rect x="1293.2" y="289.9" width="36.4" height="36.3" fill="#a1636a" stroke="none" stroke-width="0"/>
<rect x="1111.2" y="326.3" width="36.4" height="36.3" fill="#5f8dd0" stroke="none" stroke-width="0"/>
<rect x="1147.6" y="326.3" width="36.4" height="36.3" fill="#7688b2" stroke="none" stroke-width="0"/>
<rect x="1184.0" y="326.3" width="36.4" height="36.3" fill="#6189cb" stroke="none" stroke-width="0"/>
<rect x="1220.4" y="326.3" width="36.4" height="36.3" fill="#a07470" stroke="none" stroke-width="0"/>
<rect x="1256.8" y="326.3" width="36.4" height="36.3" fill="#b25450" stroke="none" stroke-width="0"/>
<rect x="1293.2" y="326.3" width="36.4" height="36.3" fill="#9f7470" stroke="none" stroke-width="0"/>
<line x1="1109.7" y1="71.9" x2="1331.1" y2="71.9" stroke="#111" stroke-width="3"/>
<line x1="1109.7" y1="108.2" x2="1331.1" y2="108.2" stroke="#111" stroke-width="3"/>
<line x1="1109.7" y1="144.6" x2="1331.1" y2="144.6" stroke="#111" stroke-width="3"/>
<line x1="1109.7" y1="180.9" x2="1331.1" y2="180.9" stroke="#111" stroke-width="3"/>
<line x1="1109.7" y1="217.3" x2="1331.1" y2="217.3" stroke="#111" stroke-width="3"/>
<line x1="1109.7" y1="253.6" x2="1331.1" y2="253.6" stroke="#111" stroke-width="3"/>
<line x1="1109.7" y1="289.9" x2="1331.1" y2="289.9" stroke="#111" stroke-width="3"/>
<line x1="1109.7" y1="326.3" x2="1331.1" y2="326.3" stroke="#111" stroke-width="3"/>
<line x1="1109.7" y1="362.6" x2="1331.1" y2="362.6" stroke="#111" stroke-width="3"/>
<line x1="1111.2" y1="70.4" x2="1111.2" y2="364.1" stroke="#111" stroke-width="3"/>
<line x1="1147.6" y1="70.4" x2="1147.6" y2="364.1" stroke="#111" stroke-width="3"/>
<line x1="1184.0" y1="70.4" x2="1184.0" y2="364.1" stroke="#111" stroke-width="3"/>
<line x1="1220.4" y1="70.4" x2="1220.4" y2="364.1" stroke="#111" stroke-width="3"/>
<line x1="1256.8" y1="70.4" x2="1256.8" y2="364.1" stroke="#111" stroke-width="3"/>
<line x1="1293.2" y1="70.4" x2="1293.2" y2="364.1" stroke="#111" stroke-width="3"/>
<line x1="1329.6" y1="70.4" x2="1329.6" y2="364.1" stroke="#111" stroke-width="3"/>
<line x1="1331.1" y1="90.1" x2="1336.6" y2="90.1" stroke="#888" stroke-width="2"/>
<text x="1344.5" y="97.4" font-size="20" text-anchor="start" fill="#111">CP</text>
<line x1="1331.1" y1="126.4" x2="1336.6" y2="126.4" stroke="#888" stroke-width="2"/>
<text x="1344.5" y="133.7" font-size="20" text-anchor="start" fill="#111">SLC40A1</text>
<line x1="1331.1" y1="162.7" x2="1336.6" y2="162.7" stroke="#888" stroke-width="2"/>
<text x="1344.5" y="170.0" font-size="20" text-anchor="start" fill="#111">GPX4</text>
<line x1="1331.1" y1="199.1" x2="1336.6" y2="199.1" stroke="#888" stroke-width="2"/>
<text x="1344.5" y="206.4" font-size="20" text-anchor="start" fill="#111">HMOX1</text>
<line x1="1331.1" y1="235.4" x2="1336.6" y2="235.4" stroke="#888" stroke-width="2"/>
<text x="1344.5" y="242.7" font-size="20" text-anchor="start" fill="#111">SAT1</text>
<line x1="1331.1" y1="271.8" x2="1336.6" y2="271.8" stroke="#888" stroke-width="2"/>
<text x="1344.5" y="279.1" font-size="20" text-anchor="start" fill="#111">PRNP</text>
<line x1="1331.1" y1="308.1" x2="1336.6" y2="308.1" stroke="#888" stroke-width="2"/>
<text x="1344.5" y="315.4" font-size="20" text-anchor="start" fill="#111">ACSL1</text>
<line x1="1331.1" y1="344.4" x2="1336.6" y2="344.4" stroke="#888" stroke-width="2"/>
<text x="1344.5" y="351.7" font-size="20" text-anchor="start" fill="#111">SAT2</text>
<line x1="1129.4" y1="364.1" x2="1129.4" y2="369.6" stroke="#888" stroke-width="2"/>
<text x="1142.4" y="386.6" font-size="20" text-anchor="end" fill="#111" transform="rotate(-45 1142.4 386.6)">Vehicle-1</text>
<line x1="1165.8" y1="364.1" x2="1165.8" y2="369.6" stroke="#888" stroke-width="2"/>
<text x="1178.8" y="386.6" font-size="20" text-anchor="end" fill="#111" transform="rotate(-45 1178.8 386.6)">Vehicle-2</text>
<line x1="1202.2" y1="364.1" x2="1202.2" y2="369.6" stroke="#888" stroke-width="2"/>
<text x="1215.2" y="386.6" font-size="20" text-anchor="end" fill="#111" transform="rotate(-45 1215.2 386.6)">Vehicle-3</text>
<line x1="1238.6" y1="364.1" x2="1238.6" y2="369.6" stroke="#888" stroke-width="2"/>
<text x="1251.6" y="386.6" font-size="20" text-anchor="end" fill="#111" transform="rotate(-45 1251.6 386.6)">TBMS1-1</text>
<line x1="1275.0" y1="364.1" x2="1275.0" y2="369.6" stroke="#888" stroke-width="2"/>
<text x="1288.0" y="386.6" font-size="20" text-anchor="end" fill="#111" transform="rotate(-45 1288.0 386.6)">TBMS1-2</text>
<line x1="1311.4" y1="364.1" x2="1311.4" y2="369.6" stroke="#888" stroke-width="2"/>
<text x="1324.4" y="386.6" font-size="20" text-anchor="end" fill="#111" transform="rotate(-45 1324.4 386.6)">TBMS1-3</text>
<line x1="1109.7" y1="90.1" x2="1064.0" y2="90.1" stroke="#6e6e6e" stroke-width="2.2" stroke-linecap="square"/>
<line x1="1109.7" y1="126.4" x2="1064.0" y2="126.4" stroke="#6e6e6e" stroke-width="2.2" stroke-linecap="square"/>
<line x1="1064.0" y1="90.1" x2="1064.0" y2="126.4" stroke="#6e6e6e" stroke-width="2.2" stroke-linecap="square"/>
<line x1="1064.0" y1="108.2" x2="1050.3" y2="108.2" stroke="#6e6e6e" stroke-width="2.2" stroke-linecap="square"/>
<line x1="1109.7" y1="162.7" x2="1050.3" y2="162.7" stroke="#6e6e6e" stroke-width="2.2" stroke-linecap="square"/>
<line x1="1050.3" y1="108.2" x2="1050.3" y2="162.7" stroke="#6e6e6e" stroke-width="2.2" stroke-linecap="square"/>
<line x1="1109.7" y1="199.1" x2="1089.8" y2="199.1" stroke="#6e6e6e" stroke-width="2.2" stroke-linecap="square"/>
<line x1="1109.7" y1="235.4" x2="1089.8" y2="235.4" stroke="#6e6e6e" stroke-width="2.2" stroke-linecap="square"/>
<line x1="1089.8" y1="199.1" x2="1089.8" y2="235.4" stroke="#6e6e6e" stroke-width="2.2" stroke-linecap="square"/>
<line x1="1089.8" y1="217.2" x2="1076.9" y2="217.2" stroke="#6e6e6e" stroke-width="2.2" stroke-linecap="square"/>
<line x1="1109.7" y1="271.8" x2="1076.9" y2="271.8" stroke="#6e6e6e" stroke-width="2.2" stroke-linecap="square"/>
<line x1="1076.9" y1="217.2" x2="1076.9" y2="271.8" stroke="#6e6e6e" stroke-width="2.2" stroke-linecap="square"/>
<line x1="1076.9" y1="244.5" x2="1063.2" y2="244.5" stroke="#6e6e6e" stroke-width="2.2" stroke-linecap="square"/>
<line x1="1109.7" y1="308.1" x2="1063.2" y2="308.1" stroke="#6e6e6e" stroke-width="2.2" stroke-linecap="square"/>
<line x1="1063.2" y1="244.5" x2="1063.2" y2="308.1" stroke="#6e6e6e" stroke-width="2.2" stroke-linecap="square"/>
<line x1="1063.2" y1="276.3" x2="1050.3" y2="276.3" stroke="#6e6e6e" stroke-width="2.2" stroke-linecap="square"/>
<line x1="1109.7" y1="344.4" x2="1050.3" y2="344.4" stroke="#6e6e6e" stroke-width="2.2" stroke-linecap="square"/>
<line x1="1050.3" y1="276.3" x2="1050.3" y2="344.4" stroke="#6e6e6e" stroke-width="2.2" stroke-linecap="square"/>
<line x1="1050.3" y1="135.5" x2="1036.7" y2="135.5" stroke="#6e6e6e" stroke-width="2.2" stroke-linecap="square"/>
<line x1="1050.3" y1="310.4" x2="1036.7" y2="310.4" stroke="#6e6e6e" stroke-width="2.2" stroke-linecap="square"/>
<line x1="1036.7" y1="135.5" x2="1036.7" y2="310.4" stroke="#6e6e6e" stroke-width="2.2" stroke-linecap="square"/>
<defs><linearGradient id="hmcb" x1="0" x2="0" y1="0" y2="1"><stop offset="0" stop-color="#b44f4a"/><stop offset="0.25" stop-color="#a0626a"/><stop offset="0.57" stop-color="#958074"/><stop offset="0.75" stop-color="#7a86a8"/><stop offset="1" stop-color="#5b8fd3"/></linearGradient></defs>
<rect x="1434.0" y="108.7" width="21.7" height="147.5" fill="url(#hmcb)" stroke="none" stroke-width="0"/>
<line x1="1434.0" y1="143.7" x2="1440.0" y2="143.7" stroke="#fff" stroke-width="2"/>
<line x1="1449.7" y1="143.7" x2="1455.7" y2="143.7" stroke="#fff" stroke-width="2"/>
<text x="1468.5" y="150.7" font-size="20" text-anchor="start" fill="#111">1</text>
<line x1="1434.0" y1="193.0" x2="1440.0" y2="193.0" stroke="#fff" stroke-width="2"/>
<line x1="1449.7" y1="193.0" x2="1455.7" y2="193.0" stroke="#fff" stroke-width="2"/>
<text x="1462.0" y="200.0" font-size="20" text-anchor="start" fill="#111">0</text>
<line x1="1434.0" y1="241.6" x2="1440.0" y2="241.6" stroke="#fff" stroke-width="2"/>
<line x1="1449.7" y1="241.6" x2="1455.7" y2="241.6" stroke="#fff" stroke-width="2"/>
<text x="1461.0" y="248.6" font-size="20" text-anchor="start" fill="#111">-1</text>
<path d="M1163.6 649.3 L1252.0 661.1 L1340.4 676.7 L1428.9 697.7" fill="none" stroke="#d6318a" stroke-width="2.8"/>
<line x1="1163.6" y1="644.5" x2="1163.6" y2="654.2" stroke="#d6318a" stroke-width="2.4"/>
<line x1="1157.6" y1="644.5" x2="1169.6" y2="644.5" stroke="#d6318a" stroke-width="2.4"/>
<line x1="1157.6" y1="654.2" x2="1169.6" y2="654.2" stroke="#d6318a" stroke-width="2.4"/>
<line x1="1252.0" y1="656.3" x2="1252.0" y2="665.9" stroke="#d6318a" stroke-width="2.4"/>
<line x1="1246.0" y1="656.3" x2="1258.0" y2="656.3" stroke="#d6318a" stroke-width="2.4"/>
<line x1="1246.0" y1="665.9" x2="1258.0" y2="665.9" stroke="#d6318a" stroke-width="2.4"/>
<line x1="1340.4" y1="670.3" x2="1340.4" y2="683.2" stroke="#d6318a" stroke-width="2.4"/>
<line x1="1334.4" y1="670.3" x2="1346.4" y2="670.3" stroke="#d6318a" stroke-width="2.4"/>
<line x1="1334.4" y1="683.2" x2="1346.4" y2="683.2" stroke="#d6318a" stroke-width="2.4"/>
<line x1="1428.9" y1="689.6" x2="1428.9" y2="705.7" stroke="#d6318a" stroke-width="2.4"/>
<line x1="1422.9" y1="689.6" x2="1434.9" y2="689.6" stroke="#d6318a" stroke-width="2.4"/>
<line x1="1422.9" y1="705.7" x2="1434.9" y2="705.7" stroke="#d6318a" stroke-width="2.4"/>
<path d="M1163.6 650.9 L1252.0 668.7 L1340.4 707.4 L1428.9 731.5" fill="none" stroke="#7cc24a" stroke-width="2.8"/>
<line x1="1163.6" y1="646.1" x2="1163.6" y2="655.8" stroke="#7cc24a" stroke-width="2.4"/>
<line x1="1157.6" y1="646.1" x2="1169.6" y2="646.1" stroke="#7cc24a" stroke-width="2.4"/>
<line x1="1157.6" y1="655.8" x2="1169.6" y2="655.8" stroke="#7cc24a" stroke-width="2.4"/>
<line x1="1252.0" y1="663.8" x2="1252.0" y2="673.5" stroke="#7cc24a" stroke-width="2.4"/>
<line x1="1246.0" y1="663.8" x2="1258.0" y2="663.8" stroke="#7cc24a" stroke-width="2.4"/>
<line x1="1246.0" y1="673.5" x2="1258.0" y2="673.5" stroke="#7cc24a" stroke-width="2.4"/>
<line x1="1340.4" y1="700.9" x2="1340.4" y2="713.8" stroke="#7cc24a" stroke-width="2.4"/>
<line x1="1334.4" y1="700.9" x2="1346.4" y2="700.9" stroke="#7cc24a" stroke-width="2.4"/>
<line x1="1334.4" y1="713.8" x2="1346.4" y2="713.8" stroke="#7cc24a" stroke-width="2.4"/>
<line x1="1428.9" y1="728.3" x2="1428.9" y2="734.8" stroke="#7cc24a" stroke-width="2.4"/>
<line x1="1422.9" y1="728.3" x2="1434.9" y2="728.3" stroke="#7cc24a" stroke-width="2.4"/>
<line x1="1422.9" y1="734.8" x2="1434.9" y2="734.8" stroke="#7cc24a" stroke-width="2.4"/>
<path d="M1163.6 649.3 L1252.0 673.5 L1340.4 713.8 L1428.9 733.6" fill="none" stroke="#e02222" stroke-width="2.8"/>
<line x1="1163.6" y1="642.9" x2="1163.6" y2="655.8" stroke="#e02222" stroke-width="2.4"/>
<line x1="1157.6" y1="642.9" x2="1169.6" y2="642.9" stroke="#e02222" stroke-width="2.4"/>
<line x1="1157.6" y1="655.8" x2="1169.6" y2="655.8" stroke="#e02222" stroke-width="2.4"/>
<line x1="1252.0" y1="668.7" x2="1252.0" y2="678.3" stroke="#e02222" stroke-width="2.4"/>
<line x1="1246.0" y1="668.7" x2="1258.0" y2="668.7" stroke="#e02222" stroke-width="2.4"/>
<line x1="1246.0" y1="678.3" x2="1258.0" y2="678.3" stroke="#e02222" stroke-width="2.4"/>
<line x1="1340.4" y1="707.4" x2="1340.4" y2="720.3" stroke="#e02222" stroke-width="2.4"/>
<line x1="1334.4" y1="707.4" x2="1346.4" y2="707.4" stroke="#e02222" stroke-width="2.4"/>
<line x1="1334.4" y1="720.3" x2="1346.4" y2="720.3" stroke="#e02222" stroke-width="2.4"/>
<line x1="1428.9" y1="730.4" x2="1428.9" y2="736.9" stroke="#e02222" stroke-width="2.4"/>
<line x1="1422.9" y1="730.4" x2="1434.9" y2="730.4" stroke="#e02222" stroke-width="2.4"/>
<line x1="1422.9" y1="736.9" x2="1434.9" y2="736.9" stroke="#e02222" stroke-width="2.4"/>
<path d="M1163.6 646.3 L1252.0 677.5 L1340.4 717.0 L1428.9 740.4" fill="none" stroke="#111111" stroke-width="2.8"/>
<line x1="1163.6" y1="635.0" x2="1163.6" y2="657.5" stroke="#111111" stroke-width="2.4"/>
<line x1="1157.6" y1="635.0" x2="1169.6" y2="635.0" stroke="#111111" stroke-width="2.4"/>
<line x1="1157.6" y1="657.5" x2="1169.6" y2="657.5" stroke="#111111" stroke-width="2.4"/>
<line x1="1252.0" y1="671.1" x2="1252.0" y2="684.0" stroke="#111111" stroke-width="2.4"/>
<line x1="1246.0" y1="671.1" x2="1258.0" y2="671.1" stroke="#111111" stroke-width="2.4"/>
<line x1="1246.0" y1="684.0" x2="1258.0" y2="684.0" stroke="#111111" stroke-width="2.4"/>
<line x1="1340.4" y1="707.4" x2="1340.4" y2="726.7" stroke="#111111" stroke-width="2.4"/>
<line x1="1334.4" y1="707.4" x2="1346.4" y2="707.4" stroke="#111111" stroke-width="2.4"/>
<line x1="1334.4" y1="726.7" x2="1346.4" y2="726.7" stroke="#111111" stroke-width="2.4"/>
<line x1="1428.9" y1="735.6" x2="1428.9" y2="745.2" stroke="#111111" stroke-width="2.4"/>
<line x1="1422.9" y1="735.6" x2="1434.9" y2="735.6" stroke="#111111" stroke-width="2.4"/>
<line x1="1422.9" y1="745.2" x2="1434.9" y2="745.2" stroke="#111111" stroke-width="2.4"/>
<rect x="1157.1" y="642.8" width="13.0" height="13.0" fill="#d6318a" stroke="none" stroke-width="0"/>
<rect x="1245.5" y="654.6" width="13.0" height="13.0" fill="#d6318a" stroke="none" stroke-width="0"/>
<rect x="1333.9" y="670.2" width="13.0" height="13.0" fill="#d6318a" stroke="none" stroke-width="0"/>
<rect x="1422.4" y="691.2" width="13.0" height="13.0" fill="#d6318a" stroke="none" stroke-width="0"/>
<path d="M1163.6 643.4 L1171.1 656.4 L1156.1 656.4 Z" fill="#7cc24a" stroke="none" stroke-width="1"/>
<path d="M1252.0 661.2 L1259.5 674.2 L1244.5 674.2 Z" fill="#7cc24a" stroke="none" stroke-width="1"/>
<path d="M1340.4 699.9 L1347.9 712.9 L1332.9 712.9 Z" fill="#7cc24a" stroke="none" stroke-width="1"/>
<path d="M1428.9 724.0 L1436.4 737.0 L1421.4 737.0 Z" fill="#7cc24a" stroke="none" stroke-width="1"/>
<circle cx="1163.6" cy="649.3" r="6.5" fill="#e02222"/>
<circle cx="1252.0" cy="673.5" r="6.5" fill="#e02222"/>
<circle cx="1340.4" cy="713.8" r="6.5" fill="#e02222"/>
<circle cx="1428.9" cy="733.6" r="6.5" fill="#e02222"/>
<path d="M1163.6 638.8 L1170.6 646.3 L1163.6 653.8 L1156.6 646.3 Z" fill="#111111" stroke="none" stroke-width="1"/>
<path d="M1252.0 670.0 L1259.0 677.5 L1252.0 685.0 L1245.0 677.5 Z" fill="#111111" stroke="none" stroke-width="1"/>
<path d="M1340.4 709.5 L1347.4 717.0 L1340.4 724.5 L1333.4 717.0 Z" fill="#111111" stroke="none" stroke-width="1"/>
<path d="M1428.9 732.9 L1435.9 740.4 L1428.9 747.9 L1421.9 740.4 Z" fill="#111111" stroke="none" stroke-width="1"/>
<line x1="1163.6" y1="564.3" x2="1163.6" y2="808.5" stroke="#000" stroke-width="2.5"/>
<line x1="1156.6" y1="807.3" x2="1430.1" y2="807.3" stroke="#000" stroke-width="2.5"/>
<line x1="1156.6" y1="807.3" x2="1163.6" y2="807.3" stroke="#000" stroke-width="2.5"/>
<text x="1151.1" y="813.1" font-size="21" text-anchor="end" fill="#000">0</text>
<line x1="1156.6" y1="726.7" x2="1163.6" y2="726.7" stroke="#000" stroke-width="2.5"/>
<text x="1151.1" y="732.5" font-size="21" text-anchor="end" fill="#000">50</text>
<line x1="1156.6" y1="646.1" x2="1163.6" y2="646.1" stroke="#000" stroke-width="2.5"/>
<text x="1151.1" y="651.9" font-size="21" text-anchor="end" fill="#000">100</text>
<line x1="1156.6" y1="565.5" x2="1163.6" y2="565.5" stroke="#000" stroke-width="2.5"/>
<text x="1151.1" y="571.3" font-size="21" text-anchor="end" fill="#000">150</text>
<line x1="1163.6" y1="807.3" x2="1163.6" y2="814.3" stroke="#000" stroke-width="2.5"/>
<text x="1181.1" y="829.8" font-size="20" text-anchor="end" fill="#000" transform="rotate(-45 1181.1 829.8)">Vehicle</text>
<line x1="1252.0" y1="807.3" x2="1252.0" y2="814.3" stroke="#000" stroke-width="2.5"/>
<text x="1269.5" y="829.8" font-size="20" text-anchor="end" fill="#000" transform="rotate(-45 1269.5 829.8)">2 μM</text>
<line x1="1340.4" y1="807.3" x2="1340.4" y2="814.3" stroke="#000" stroke-width="2.5"/>
<text x="1357.9" y="829.8" font-size="20" text-anchor="end" fill="#000" transform="rotate(-45 1357.9 829.8)">4 μM</text>
<line x1="1428.9" y1="807.3" x2="1428.9" y2="814.3" stroke="#000" stroke-width="2.5"/>
<text x="1446.4" y="829.8" font-size="20" text-anchor="end" fill="#000" transform="rotate(-45 1446.4 829.8)">6 μM</text>
<text x="1102.0" y="692.6" font-size="20" text-anchor="middle" fill="#000" transform="rotate(-90 1102.0 692.6)">cell viability (%)</text>
<line x1="1223.0" y1="528.6" x2="1248.7" y2="528.6" stroke="#111111" stroke-width="2.8"/>
<path d="M1236.0 521.1 L1243.0 528.6 L1236.0 536.1 L1229.0 528.6 Z" fill="#111111" stroke="none" stroke-width="1"/>
<text x="1263.7" y="535.8" font-size="19.5" text-anchor="start" fill="#000">Vehicle</text>
<line x1="1223.0" y1="559.2" x2="1248.7" y2="559.2" stroke="#e02222" stroke-width="2.8"/>
<circle cx="1236.0" cy="559.2" r="6.5" fill="#e02222"/>
<text x="1263.7" y="566.4" font-size="19.5" text-anchor="start" fill="#000">Z-VAD-FMK</text>
<line x1="1223.0" y1="587.6" x2="1248.7" y2="587.6" stroke="#7cc24a" stroke-width="2.8"/>
<path d="M1236.0 580.1 L1243.5 593.1 L1228.5 593.1 Z" fill="#7cc24a" stroke="none" stroke-width="1"/>
<text x="1263.7" y="594.8" font-size="19.5" text-anchor="start" fill="#000">necrosulfonamide</text>
<line x1="1223.0" y1="614.6" x2="1248.7" y2="614.6" stroke="#d6318a" stroke-width="2.8"/>
<rect x="1229.5" y="608.1" width="13.0" height="13.0" fill="#d6318a" stroke="none" stroke-width="0"/>
<text x="1263.7" y="621.8" font-size="19.5" text-anchor="start" fill="#000">ferrostatin-1</text>
<path d="M1443 701 L1450 701 L1450 737 L1443 737" fill="none" stroke="#111" stroke-width="2.2"/>
<text x="1452.0" y="719.6" font-size="19" text-anchor="middle" fill="#000" transform="rotate(90 1452.0 719.6)">**</text>
<defs><filter id="bl5" x="-50%" y="-100%" width="200%" height="300%"><feGaussianBlur stdDeviation="5"/></filter><filter id="bl3" x="-50%" y="-100%" width="200%" height="300%"><feGaussianBlur stdDeviation="3"/></filter><filter id="bl2" x="-50%" y="-100%" width="200%" height="300%"><feGaussianBlur stdDeviation="1.6"/></filter><filter id="bl1" x="-50%" y="-100%" width="200%" height="300%"><feGaussianBlur stdDeviation="0.9"/></filter></defs>
<text x="136.7" y="1732.0" font-size="19.5" text-anchor="middle" fill="#000">Vehicle</text>
<text x="209.2" y="1732.0" font-size="19.5" text-anchor="middle" fill="#000">2 μM</text>
<text x="278.5" y="1732.0" font-size="19.5" text-anchor="middle" fill="#000">4 μM</text>
<text x="351.5" y="1732.0" font-size="19.5" text-anchor="middle" fill="#000">6 μM</text>
<svg x="103.1" y="1749.1" width="282.8" height="43.2" overflow="hidden">
<rect x="0.0" y="0.0" width="282.8" height="43.2" fill="#e6e6e6" stroke="none" stroke-width="0"/>
<rect x="63.4" y="0.0" width="16.0" height="43.2" fill="#f0f0f0" stroke="none" stroke-width="0" filter="url(#bl3)"/>
<rect x="133.9" y="0.0" width="16.0" height="43.2" fill="#f0f0f0" stroke="none" stroke-width="0" filter="url(#bl3)"/>
<rect x="205.4" y="0.0" width="16.0" height="43.2" fill="#f0f0f0" stroke="none" stroke-width="0" filter="url(#bl3)"/>
<rect x="7.5" y="7.2" width="54.0" height="30.0" rx="6.0" fill="#a8a8a8" fill-opacity="1.00" filter="url(#bl5)"/>
<rect x="79.9" y="7.2" width="54.0" height="30.0" rx="6.0" fill="#9e9e9e" fill-opacity="1.00" filter="url(#bl5)"/>
<rect x="150.4" y="7.2" width="54.0" height="30.0" rx="6.0" fill="#8e8e8e" fill-opacity="1.00" filter="url(#bl5)"/>
<rect x="223.4" y="7.2" width="54.0" height="30.0" rx="6.0" fill="#7a7a7a" fill-opacity="1.00" filter="url(#bl5)"/>
<rect x="83.9" y="15.9" width="46.0" height="12.0" rx="4.0" fill="#8c8c8c" fill-opacity="1.00" filter="url(#bl3)"/>
<rect x="154.4" y="14.9" width="46.0" height="12.0" rx="4.0" fill="#6e6e6e" fill-opacity="1.00" filter="url(#bl3)"/>
<rect x="225.4" y="14.4" width="50.0" height="11.0" rx="5.0" fill="#1c1c1c" fill-opacity="1.00" filter="url(#bl3)"/>
</svg>
<rect x="103.1" y="1749.1" width="282.8" height="43.2" fill="none" stroke="#111" stroke-width="2.2"/>
<text x="90.8" y="1780.2" font-size="20" text-anchor="end" fill="#000">TFR1</text>
<text x="396.5" y="1782.2" font-size="20" text-anchor="start" fill="#000">85 kDa</text>
<svg x="102.1" y="1800.8" width="283.2" height="43.6" overflow="hidden">
<rect x="0.0" y="0.0" width="283.2" height="43.6" fill="#e6e6e6" stroke="none" stroke-width="0"/>
<rect x="64.4" y="0.0" width="16.0" height="43.6" fill="#f0f0f0" stroke="none" stroke-width="0" filter="url(#bl3)"/>
<rect x="134.9" y="0.0" width="16.0" height="43.6" fill="#f0f0f0" stroke="none" stroke-width="0" filter="url(#bl3)"/>
<rect x="206.4" y="0.0" width="16.0" height="43.6" fill="#f0f0f0" stroke="none" stroke-width="0" filter="url(#bl3)"/>
<rect x="8.5" y="11.3" width="54.0" height="18.0" rx="6.0" fill="#a6a6a6" fill-opacity="1.00" filter="url(#bl5)"/>
<rect x="80.9" y="11.3" width="54.0" height="18.0" rx="6.0" fill="#9c9c9c" fill-opacity="1.00" filter="url(#bl5)"/>
<rect x="151.4" y="11.3" width="54.0" height="18.0" rx="6.0" fill="#8c8c8c" fill-opacity="1.00" filter="url(#bl5)"/>
<rect x="12.5" y="17.2" width="46.0" height="7.0" rx="3.0" fill="#8a8a8a" fill-opacity="1.00" filter="url(#bl2)"/>
<rect x="84.9" y="17.2" width="46.0" height="7.0" rx="3.0" fill="#7e7e7e" fill-opacity="1.00" filter="url(#bl2)"/>
<rect x="157.4" y="18.5" width="44.0" height="5.0" rx="2.0" fill="#303030" fill-opacity="1.00" filter="url(#bl2)"/>
<rect x="223.4" y="9.3" width="56.0" height="22.0" rx="8.0" fill="#5a5a5a" fill-opacity="1.00" filter="url(#bl5)"/>
<rect x="226.4" y="13.8" width="50.0" height="12.0" rx="5.0" fill="#050505" fill-opacity="1.00" filter="url(#bl2)"/>
</svg>
<rect x="102.1" y="1800.8" width="283.2" height="43.6" fill="none" stroke="#111" stroke-width="2.2"/>
<text x="90.8" y="1832.1" font-size="20" text-anchor="end" fill="#000">DMT1</text>
<text x="396.5" y="1834.1" font-size="20" text-anchor="start" fill="#000">70 kDa</text>
<svg x="103.1" y="1853.9" width="282.8" height="43.2" overflow="hidden">
<rect x="0.0" y="0.0" width="282.8" height="43.2" fill="#e6e6e6" stroke="none" stroke-width="0"/>
<rect x="63.4" y="0.0" width="16.0" height="43.2" fill="#f0f0f0" stroke="none" stroke-width="0" filter="url(#bl3)"/>
<rect x="133.9" y="0.0" width="16.0" height="43.2" fill="#f0f0f0" stroke="none" stroke-width="0" filter="url(#bl3)"/>
<rect x="205.4" y="0.0" width="16.0" height="43.2" fill="#f0f0f0" stroke="none" stroke-width="0" filter="url(#bl3)"/>
<rect x="6.0" y="8.1" width="64.0" height="28.0" rx="10.0" fill="#8a8a8a" fill-opacity="1.00" filter="url(#bl5)"/>
<rect x="9.0" y="12.1" width="58.0" height="18.0" rx="9.0" fill="#050505" fill-opacity="1.00" filter="url(#bl1)"/>
<rect x="74.5" y="8.3" width="64.0" height="27.5" rx="10.0" fill="#8a8a8a" fill-opacity="1.00" filter="url(#bl5)"/>
<rect x="77.5" y="12.3" width="58.0" height="17.5" rx="8.8" fill="#050505" fill-opacity="1.00" filter="url(#bl1)"/>
<rect x="142.8" y="9.6" width="64.0" height="25.0" rx="10.0" fill="#8a8a8a" fill-opacity="1.00" filter="url(#bl5)"/>
<rect x="145.8" y="13.6" width="58.0" height="15.0" rx="7.5" fill="#050505" fill-opacity="1.00" filter="url(#bl1)"/>
<rect x="210.8" y="9.8" width="65.0" height="24.5" rx="10.0" fill="#8a8a8a" fill-opacity="1.00" filter="url(#bl5)"/>
<rect x="213.8" y="13.8" width="59.0" height="14.5" rx="7.2" fill="#050505" fill-opacity="1.00" filter="url(#bl1)"/>
</svg>
<rect x="103.1" y="1853.9" width="282.8" height="43.2" fill="none" stroke="#111" stroke-width="2.2"/>
<text x="90.8" y="1881.0" font-size="20.8" text-anchor="end" fill="#000">GAPDH</text>
<text x="396.5" y="1886.0" font-size="20" text-anchor="start" fill="#000">37 kDa</text>
</svg></body></html>
